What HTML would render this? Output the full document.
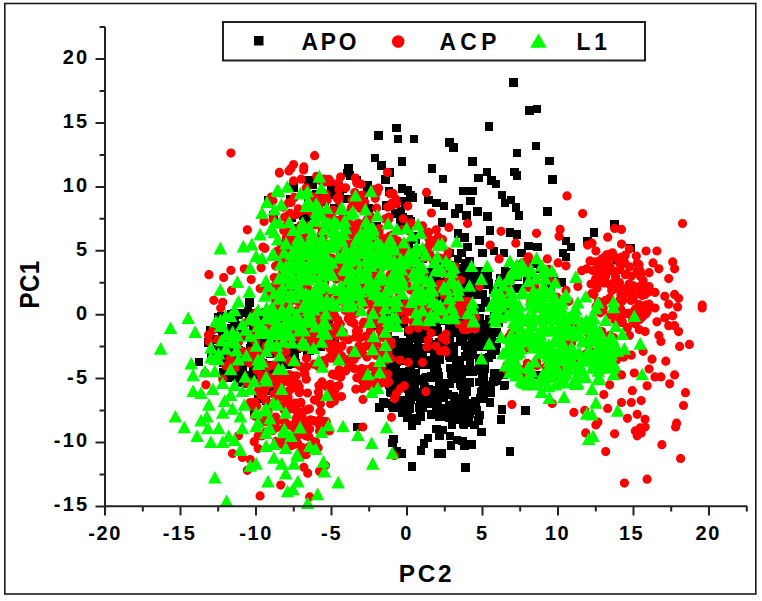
<!DOCTYPE html>
<html><head><meta charset="utf-8"><style>
html,body{margin:0;padding:0;background:#fff;width:762px;height:601px;overflow:hidden}
svg{position:absolute;left:0;top:0;display:block}
text{font-family:"Liberation Sans",sans-serif;font-weight:bold;fill:#000}
</style></head><body>
<svg width="762" height="601" viewBox="0 0 762 601">
<rect x="4.8" y="3.5" width="751" height="590.5" fill="none" stroke="#1a1a1a" stroke-width="1.6"/>
<path fill="#000" shape-rendering="crispEdges" d="M509.2,78.0h8.5v8.5h-8.5zM525.3,106.1h8.5v8.5h-8.5zM532.6,104.6h8.5v8.5h-8.5zM484.6,122.3h8.5v8.5h-8.5zM445.2,138.0h8.5v8.5h-8.5zM449.1,143.2h8.5v8.5h-8.5zM531.6,141.6h8.5v8.5h-8.5zM512.9,148.5h8.5v8.5h-8.5zM468.2,157.4h8.5v8.5h-8.5zM545.0,156.8h8.5v8.5h-8.5zM438.7,174.7h8.5v8.5h-8.5zM474.1,173.7h8.5v8.5h-8.5zM482.6,167.8h8.5v8.5h-8.5zM487.3,176.1h8.5v8.5h-8.5zM491.9,179.6h8.5v8.5h-8.5zM510.2,167.8h8.5v8.5h-8.5zM512.5,171.1h8.5v8.5h-8.5zM548.0,175.1h8.5v8.5h-8.5zM392.0,123.9h8.5v8.5h-8.5zM374.3,131.2h8.5v8.5h-8.5zM393.6,134.7h8.5v8.5h-8.5zM409.8,134.7h8.5v8.5h-8.5zM370.8,153.8h8.5v8.5h-8.5zM377.3,161.3h8.5v8.5h-8.5zM397.6,157.4h8.5v8.5h-8.5zM385.2,168.2h8.5v8.5h-8.5zM381.2,175.1h8.5v8.5h-8.5zM344.4,164.2h8.5v8.5h-8.5zM345.8,171.1h8.5v8.5h-8.5zM352.7,176.1h8.5v8.5h-8.5zM363.5,181.0h8.5v8.5h-8.5zM427.5,164.2h8.5v8.5h-8.5zM272.6,248.8h8.5v8.5h-8.5zM245.0,298.0h8.5v8.5h-8.5zM459.4,186.7h8.5v8.5h-8.5zM468.2,186.7h8.5v8.5h-8.5zM466.3,196.6h8.5v8.5h-8.5zM439.7,201.5h8.5v8.5h-8.5zM450.5,209.4h8.5v8.5h-8.5zM454.5,204.4h8.5v8.5h-8.5zM462.3,211.3h8.5v8.5h-8.5zM473.2,207.4h8.5v8.5h-8.5zM483.0,212.3h8.5v8.5h-8.5zM497.8,190.6h8.5v8.5h-8.5zM500.7,198.5h8.5v8.5h-8.5zM506.6,195.6h8.5v8.5h-8.5zM511.5,203.4h8.5v8.5h-8.5zM514.5,211.3h8.5v8.5h-8.5zM543.0,207.4h8.5v8.5h-8.5zM437.7,218.2h8.5v8.5h-8.5zM485.9,226.1h8.5v8.5h-8.5zM505.6,228.1h8.5v8.5h-8.5zM512.5,230.0h8.5v8.5h-8.5zM475.1,236.0h8.5v8.5h-8.5zM453.5,229.1h8.5v8.5h-8.5zM460.4,233.0h8.5v8.5h-8.5zM463.3,242.8h8.5v8.5h-8.5zM457.4,248.8h8.5v8.5h-8.5zM478.1,248.8h8.5v8.5h-8.5zM489.9,246.8h8.5v8.5h-8.5zM499.7,248.8h8.5v8.5h-8.5zM517.4,248.8h8.5v8.5h-8.5zM524.3,241.9h8.5v8.5h-8.5zM533.2,242.8h8.5v8.5h-8.5zM561.7,236.9h8.5v8.5h-8.5zM566.7,242.8h8.5v8.5h-8.5zM558.8,248.8h8.5v8.5h-8.5zM561.7,252.7h8.5v8.5h-8.5zM583.4,236.9h8.5v8.5h-8.5zM445.6,248.8h8.5v8.5h-8.5zM441.7,254.7h8.5v8.5h-8.5zM453.5,254.7h8.5v8.5h-8.5zM461.3,258.6h8.5v8.5h-8.5zM447.6,266.5h8.5v8.5h-8.5zM459.4,268.5h8.5v8.5h-8.5zM475.1,266.5h8.5v8.5h-8.5zM439.7,278.3h8.5v8.5h-8.5zM453.5,284.2h8.5v8.5h-8.5zM459.4,292.1h8.5v8.5h-8.5zM475.1,290.1h8.5v8.5h-8.5zM481.0,298.0h8.5v8.5h-8.5zM455.4,300.0h8.5v8.5h-8.5zM500.7,266.5h8.5v8.5h-8.5zM518.4,260.6h8.5v8.5h-8.5zM549.9,276.3h8.5v8.5h-8.5zM542.0,278.3h8.5v8.5h-8.5zM557.8,278.3h8.5v8.5h-8.5zM610.4,220.2h8.5v8.5h-8.5zM589.7,228.1h8.5v8.5h-8.5zM626.1,243.8h8.5v8.5h-8.5zM612.3,255.7h8.5v8.5h-8.5zM205.6,326.4h8.5v8.5h-8.5zM194.8,357.9h8.5v8.5h-8.5zM236.1,327.4h8.5v8.5h-8.5zM234.2,333.3h8.5v8.5h-8.5zM230.2,341.1h8.5v8.5h-8.5zM222.4,353.0h8.5v8.5h-8.5zM240.1,370.7h8.5v8.5h-8.5zM246.0,372.7h8.5v8.5h-8.5zM253.9,370.7h8.5v8.5h-8.5zM238.1,364.8h8.5v8.5h-8.5zM263.7,337.2h8.5v8.5h-8.5zM265.7,349.0h8.5v8.5h-8.5zM273.5,339.2h8.5v8.5h-8.5zM281.4,331.3h8.5v8.5h-8.5zM249.9,408.1h8.5v8.5h-8.5zM283.4,360.8h8.5v8.5h-8.5zM265.7,386.5h8.5v8.5h-8.5zM253.9,394.3h8.5v8.5h-8.5zM261.7,396.3h8.5v8.5h-8.5zM352.7,422.7h8.5v8.5h-8.5zM389.1,434.5h8.5v8.5h-8.5zM388.1,438.5h8.5v8.5h-8.5zM397.0,449.3h8.5v8.5h-8.5zM407.8,462.1h8.5v8.5h-8.5zM407.8,421.7h8.5v8.5h-8.5zM419.6,439.4h8.5v8.5h-8.5zM423.5,433.5h8.5v8.5h-8.5zM416.7,446.3h8.5v8.5h-8.5zM432.4,424.7h8.5v8.5h-8.5zM435.4,431.6h8.5v8.5h-8.5zM434.4,449.3h8.5v8.5h-8.5zM392.0,447.3h8.5v8.5h-8.5zM438.7,425.7h8.5v8.5h-8.5zM445.6,431.6h8.5v8.5h-8.5zM452.5,435.5h8.5v8.5h-8.5zM458.4,436.5h8.5v8.5h-8.5zM446.6,441.4h8.5v8.5h-8.5zM460.4,441.4h8.5v8.5h-8.5zM467.2,440.4h8.5v8.5h-8.5zM477.1,427.6h8.5v8.5h-8.5zM470.2,420.7h8.5v8.5h-8.5zM437.7,449.3h8.5v8.5h-8.5zM461.3,463.1h8.5v8.5h-8.5zM505.6,447.3h8.5v8.5h-8.5zM447.6,420.7h8.5v8.5h-8.5zM459.4,419.8h8.5v8.5h-8.5zM533.2,370.7h8.5v8.5h-8.5zM500.7,380.5h8.5v8.5h-8.5zM485.9,398.3h8.5v8.5h-8.5zM497.8,405.2h8.5v8.5h-8.5zM521.4,406.2h8.5v8.5h-8.5zM496.8,415.0h8.5v8.5h-8.5zM375.4,403.2h8.5v8.5h-8.5zM381.3,399.2h8.5v8.5h-8.5zM403.0,413.0h8.5v8.5h-8.5zM407.9,418.9h8.5v8.5h-8.5zM398.1,408.1h8.5v8.5h-8.5zM406.4,368.3h8.5v8.5h-8.5zM460.5,395.7h8.5v8.5h-8.5zM466.9,275.5h8.5v8.5h-8.5zM411.0,325.9h8.5v8.5h-8.5zM480.1,355.4h8.5v8.5h-8.5zM392.1,399.3h8.5v8.5h-8.5zM476.5,388.4h8.5v8.5h-8.5zM478.6,378.2h8.5v8.5h-8.5zM406.1,395.8h8.5v8.5h-8.5zM435.4,379.9h8.5v8.5h-8.5zM445.3,325.5h8.5v8.5h-8.5zM419.8,325.6h8.5v8.5h-8.5zM477.8,387.1h8.5v8.5h-8.5zM498.9,369.2h8.5v8.5h-8.5zM444.0,378.8h8.5v8.5h-8.5zM390.6,366.8h8.5v8.5h-8.5zM399.2,341.1h8.5v8.5h-8.5zM405.7,330.5h8.5v8.5h-8.5zM450.5,319.9h8.5v8.5h-8.5zM390.1,335.8h8.5v8.5h-8.5zM382.8,362.6h8.5v8.5h-8.5zM465.0,409.7h8.5v8.5h-8.5zM476.1,393.8h8.5v8.5h-8.5zM454.8,280.4h8.5v8.5h-8.5zM426.1,398.8h8.5v8.5h-8.5zM486.3,388.0h8.5v8.5h-8.5zM399.3,396.4h8.5v8.5h-8.5zM421.2,373.5h8.5v8.5h-8.5zM450.3,374.5h8.5v8.5h-8.5zM400.4,356.9h8.5v8.5h-8.5zM447.4,352.5h8.5v8.5h-8.5zM419.2,375.3h8.5v8.5h-8.5zM394.4,368.1h8.5v8.5h-8.5zM382.3,361.3h8.5v8.5h-8.5zM444.2,344.5h8.5v8.5h-8.5zM407.7,353.6h8.5v8.5h-8.5zM383.3,332.3h8.5v8.5h-8.5zM420.1,393.2h8.5v8.5h-8.5zM439.2,333.0h8.5v8.5h-8.5zM458.7,303.3h8.5v8.5h-8.5zM489.3,377.1h8.5v8.5h-8.5zM406.3,368.1h8.5v8.5h-8.5zM481.5,297.0h8.5v8.5h-8.5zM448.3,313.2h8.5v8.5h-8.5zM384.5,380.4h8.5v8.5h-8.5zM472.0,285.6h8.5v8.5h-8.5zM434.6,346.4h8.5v8.5h-8.5zM483.4,272.5h8.5v8.5h-8.5zM478.3,290.2h8.5v8.5h-8.5zM419.4,327.6h8.5v8.5h-8.5zM389.9,388.0h8.5v8.5h-8.5zM414.5,403.0h8.5v8.5h-8.5zM484.0,278.8h8.5v8.5h-8.5zM434.4,315.9h8.5v8.5h-8.5zM417.4,387.7h8.5v8.5h-8.5zM400.7,373.8h8.5v8.5h-8.5zM458.3,410.0h8.5v8.5h-8.5zM439.6,407.6h8.5v8.5h-8.5zM429.5,349.5h8.5v8.5h-8.5zM452.5,394.1h8.5v8.5h-8.5zM390.9,343.0h8.5v8.5h-8.5zM476.9,342.9h8.5v8.5h-8.5zM411.6,414.5h8.5v8.5h-8.5zM466.0,271.7h8.5v8.5h-8.5zM464.6,398.5h8.5v8.5h-8.5zM427.5,357.7h8.5v8.5h-8.5zM479.5,373.4h8.5v8.5h-8.5zM410.4,381.1h8.5v8.5h-8.5zM407.5,384.9h8.5v8.5h-8.5zM415.7,410.4h8.5v8.5h-8.5zM404.9,395.8h8.5v8.5h-8.5zM482.1,323.3h8.5v8.5h-8.5zM499.9,381.1h8.5v8.5h-8.5zM432.1,404.5h8.5v8.5h-8.5zM421.3,333.3h8.5v8.5h-8.5zM397.7,349.5h8.5v8.5h-8.5zM448.4,305.1h8.5v8.5h-8.5zM486.1,336.8h8.5v8.5h-8.5zM439.8,393.2h8.5v8.5h-8.5zM400.7,378.3h8.5v8.5h-8.5zM456.1,325.3h8.5v8.5h-8.5zM483.2,277.7h8.5v8.5h-8.5zM480.3,279.4h8.5v8.5h-8.5zM435.4,355.4h8.5v8.5h-8.5zM404.5,342.4h8.5v8.5h-8.5zM470.2,310.6h8.5v8.5h-8.5zM462.6,325.1h8.5v8.5h-8.5zM489.8,377.5h8.5v8.5h-8.5zM479.3,367.6h8.5v8.5h-8.5zM465.2,365.2h8.5v8.5h-8.5zM448.6,296.7h8.5v8.5h-8.5zM390.4,375.1h8.5v8.5h-8.5zM455.1,355.7h8.5v8.5h-8.5zM438.6,383.3h8.5v8.5h-8.5zM485.0,317.4h8.5v8.5h-8.5zM477.2,337.2h8.5v8.5h-8.5zM446.3,322.9h8.5v8.5h-8.5zM492.2,328.0h8.5v8.5h-8.5zM459.0,406.3h8.5v8.5h-8.5zM460.5,316.5h8.5v8.5h-8.5zM383.3,333.7h8.5v8.5h-8.5zM426.2,389.8h8.5v8.5h-8.5zM430.4,322.3h8.5v8.5h-8.5zM445.3,379.0h8.5v8.5h-8.5zM411.6,415.5h8.5v8.5h-8.5zM445.4,401.4h8.5v8.5h-8.5zM457.4,372.2h8.5v8.5h-8.5zM462.6,387.0h8.5v8.5h-8.5zM482.0,279.7h8.5v8.5h-8.5zM439.5,340.8h8.5v8.5h-8.5zM473.0,282.9h8.5v8.5h-8.5zM463.3,325.0h8.5v8.5h-8.5zM409.3,350.5h8.5v8.5h-8.5zM444.0,405.3h8.5v8.5h-8.5zM409.1,373.3h8.5v8.5h-8.5zM385.8,362.7h8.5v8.5h-8.5zM393.9,397.1h8.5v8.5h-8.5zM476.3,290.5h8.5v8.5h-8.5zM463.1,349.9h8.5v8.5h-8.5zM426.9,372.4h8.5v8.5h-8.5zM386.3,387.1h8.5v8.5h-8.5zM477.6,328.5h8.5v8.5h-8.5zM419.6,379.3h8.5v8.5h-8.5zM468.5,271.6h8.5v8.5h-8.5zM467.9,347.9h8.5v8.5h-8.5zM453.6,411.4h8.5v8.5h-8.5zM475.1,353.9h8.5v8.5h-8.5zM471.5,335.9h8.5v8.5h-8.5zM443.7,390.3h8.5v8.5h-8.5zM452.3,316.7h8.5v8.5h-8.5zM416.8,325.4h8.5v8.5h-8.5zM410.1,346.5h8.5v8.5h-8.5zM424.5,393.1h8.5v8.5h-8.5zM449.1,347.1h8.5v8.5h-8.5zM473.1,327.4h8.5v8.5h-8.5zM441.7,379.1h8.5v8.5h-8.5zM465.4,378.0h8.5v8.5h-8.5zM486.9,347.0h8.5v8.5h-8.5zM404.2,326.4h8.5v8.5h-8.5zM436.9,404.0h8.5v8.5h-8.5zM467.7,330.4h8.5v8.5h-8.5zM481.4,280.5h8.5v8.5h-8.5zM471.6,325.8h8.5v8.5h-8.5zM424.7,387.9h8.5v8.5h-8.5zM467.0,348.0h8.5v8.5h-8.5zM462.5,328.3h8.5v8.5h-8.5zM465.6,356.0h8.5v8.5h-8.5zM424.6,399.9h8.5v8.5h-8.5zM448.2,328.6h8.5v8.5h-8.5zM492.6,339.4h8.5v8.5h-8.5zM475.0,360.6h8.5v8.5h-8.5zM426.9,410.0h8.5v8.5h-8.5zM484.3,331.5h8.5v8.5h-8.5zM399.2,375.9h8.5v8.5h-8.5zM392.2,386.4h8.5v8.5h-8.5zM465.1,256.6h8.5v8.5h-8.5zM445.4,303.0h8.5v8.5h-8.5zM462.0,414.4h8.5v8.5h-8.5zM458.2,336.3h8.5v8.5h-8.5zM450.3,295.3h8.5v8.5h-8.5zM465.2,264.7h8.5v8.5h-8.5zM465.0,402.2h8.5v8.5h-8.5zM459.7,420.1h8.5v8.5h-8.5zM391.6,358.8h8.5v8.5h-8.5zM454.5,283.1h8.5v8.5h-8.5zM440.1,385.3h8.5v8.5h-8.5zM464.0,349.3h8.5v8.5h-8.5zM383.3,374.4h8.5v8.5h-8.5zM452.2,294.8h8.5v8.5h-8.5zM412.8,329.2h8.5v8.5h-8.5zM469.1,271.6h8.5v8.5h-8.5zM458.9,390.1h8.5v8.5h-8.5zM407.1,374.0h8.5v8.5h-8.5zM408.5,343.6h8.5v8.5h-8.5zM476.2,354.3h8.5v8.5h-8.5zM447.3,324.4h8.5v8.5h-8.5zM404.1,327.4h8.5v8.5h-8.5zM461.6,299.1h8.5v8.5h-8.5zM391.1,400.6h8.5v8.5h-8.5zM419.9,357.2h8.5v8.5h-8.5zM458.0,404.0h8.5v8.5h-8.5zM395.8,348.9h8.5v8.5h-8.5zM485.4,331.9h8.5v8.5h-8.5zM464.4,331.7h8.5v8.5h-8.5zM464.7,413.8h8.5v8.5h-8.5zM416.7,376.9h8.5v8.5h-8.5zM417.4,402.1h8.5v8.5h-8.5zM470.7,397.1h8.5v8.5h-8.5zM484.7,353.2h8.5v8.5h-8.5zM447.7,368.6h8.5v8.5h-8.5zM409.8,389.4h8.5v8.5h-8.5zM398.1,350.3h8.5v8.5h-8.5zM412.4,416.6h8.5v8.5h-8.5zM433.6,367.9h8.5v8.5h-8.5zM451.4,288.9h8.5v8.5h-8.5zM389.0,356.9h8.5v8.5h-8.5zM475.0,377.8h8.5v8.5h-8.5zM468.1,325.6h8.5v8.5h-8.5zM393.0,379.2h8.5v8.5h-8.5zM471.4,366.2h8.5v8.5h-8.5zM405.1,398.6h8.5v8.5h-8.5zM418.8,403.0h8.5v8.5h-8.5zM479.2,394.4h8.5v8.5h-8.5zM467.4,285.6h8.5v8.5h-8.5zM484.8,327.7h8.5v8.5h-8.5zM411.0,347.3h8.5v8.5h-8.5zM456.1,398.2h8.5v8.5h-8.5zM389.1,403.1h8.5v8.5h-8.5zM385.0,363.3h8.5v8.5h-8.5zM460.2,414.9h8.5v8.5h-8.5zM432.9,324.2h8.5v8.5h-8.5zM411.2,369.1h8.5v8.5h-8.5zM391.9,394.3h8.5v8.5h-8.5zM418.4,392.4h8.5v8.5h-8.5zM452.0,358.3h8.5v8.5h-8.5zM418.7,350.6h8.5v8.5h-8.5zM426.3,340.1h8.5v8.5h-8.5zM400.6,404.7h8.5v8.5h-8.5zM483.0,271.1h8.5v8.5h-8.5zM464.9,274.5h8.5v8.5h-8.5zM481.4,319.9h8.5v8.5h-8.5zM435.7,340.6h8.5v8.5h-8.5zM399.6,348.4h8.5v8.5h-8.5zM483.2,328.8h8.5v8.5h-8.5zM416.4,398.1h8.5v8.5h-8.5zM456.4,409.0h8.5v8.5h-8.5zM399.3,380.7h8.5v8.5h-8.5zM415.6,344.3h8.5v8.5h-8.5zM427.3,355.9h8.5v8.5h-8.5zM424.2,384.9h8.5v8.5h-8.5zM487.4,349.0h8.5v8.5h-8.5zM405.9,404.9h8.5v8.5h-8.5zM434.5,354.5h8.5v8.5h-8.5zM433.1,397.3h8.5v8.5h-8.5zM466.6,327.7h8.5v8.5h-8.5zM420.0,382.8h8.5v8.5h-8.5zM480.0,354.4h8.5v8.5h-8.5zM484.6,341.9h8.5v8.5h-8.5zM491.0,346.1h8.5v8.5h-8.5zM427.4,388.4h8.5v8.5h-8.5zM482.4,380.7h8.5v8.5h-8.5zM410.7,325.1h8.5v8.5h-8.5zM494.1,318.5h8.5v8.5h-8.5zM434.5,338.4h8.5v8.5h-8.5zM469.2,309.2h8.5v8.5h-8.5zM404.1,384.9h8.5v8.5h-8.5zM400.1,346.2h8.5v8.5h-8.5zM489.9,338.3h8.5v8.5h-8.5zM466.8,350.7h8.5v8.5h-8.5zM430.3,369.2h8.5v8.5h-8.5zM435.3,384.5h8.5v8.5h-8.5zM486.1,340.9h8.5v8.5h-8.5zM458.9,310.8h8.5v8.5h-8.5zM454.2,357.8h8.5v8.5h-8.5zM445.0,308.3h8.5v8.5h-8.5zM399.3,407.4h8.5v8.5h-8.5zM452.2,413.6h8.5v8.5h-8.5zM384.2,357.6h8.5v8.5h-8.5zM461.9,367.3h8.5v8.5h-8.5zM455.6,371.3h8.5v8.5h-8.5zM448.4,308.6h8.5v8.5h-8.5zM432.5,321.5h8.5v8.5h-8.5zM481.4,278.8h8.5v8.5h-8.5zM454.2,278.2h8.5v8.5h-8.5zM444.9,351.9h8.5v8.5h-8.5zM438.5,412.1h8.5v8.5h-8.5zM438.7,314.6h8.5v8.5h-8.5zM400.0,350.9h8.5v8.5h-8.5zM468.2,337.9h8.5v8.5h-8.5zM447.9,372.5h8.5v8.5h-8.5zM490.2,369.1h8.5v8.5h-8.5zM459.1,397.3h8.5v8.5h-8.5zM425.9,325.4h8.5v8.5h-8.5zM406.6,392.6h8.5v8.5h-8.5zM461.3,341.3h8.5v8.5h-8.5zM472.6,406.2h8.5v8.5h-8.5zM433.0,373.1h8.5v8.5h-8.5zM404.2,327.7h8.5v8.5h-8.5zM457.9,302.9h8.5v8.5h-8.5zM458.7,263.8h8.5v8.5h-8.5zM426.0,360.5h8.5v8.5h-8.5zM483.4,339.2h8.5v8.5h-8.5zM458.1,364.7h8.5v8.5h-8.5zM455.9,329.2h8.5v8.5h-8.5zM486.4,383.3h8.5v8.5h-8.5zM456.4,379.6h8.5v8.5h-8.5zM441.2,331.9h8.5v8.5h-8.5zM456.0,399.7h8.5v8.5h-8.5zM463.2,401.3h8.5v8.5h-8.5zM445.5,353.0h8.5v8.5h-8.5zM431.8,325.1h8.5v8.5h-8.5zM450.8,283.7h8.5v8.5h-8.5zM444.6,402.4h8.5v8.5h-8.5zM447.0,369.3h8.5v8.5h-8.5zM396.1,337.7h8.5v8.5h-8.5zM445.0,337.2h8.5v8.5h-8.5zM413.5,328.4h8.5v8.5h-8.5zM405.2,366.5h8.5v8.5h-8.5zM388.1,401.4h8.5v8.5h-8.5zM441.1,405.5h8.5v8.5h-8.5zM379.1,398.3h8.5v8.5h-8.5zM391.8,366.7h8.5v8.5h-8.5zM493.8,371.1h8.5v8.5h-8.5zM401.0,346.4h8.5v8.5h-8.5zM426.3,344.8h8.5v8.5h-8.5zM411.4,414.2h8.5v8.5h-8.5zM499.6,370.5h8.5v8.5h-8.5zM436.7,412.6h8.5v8.5h-8.5zM420.7,334.7h8.5v8.5h-8.5zM455.8,337.9h8.5v8.5h-8.5zM490.0,311.5h8.5v8.5h-8.5zM484.2,329.1h8.5v8.5h-8.5zM459.2,408.8h8.5v8.5h-8.5zM454.8,314.1h8.5v8.5h-8.5zM447.1,299.3h8.5v8.5h-8.5zM405.6,334.2h8.5v8.5h-8.5zM434.8,371.7h8.5v8.5h-8.5zM466.7,301.1h8.5v8.5h-8.5zM392.6,357.7h8.5v8.5h-8.5zM418.0,352.2h8.5v8.5h-8.5zM474.2,416.3h8.5v8.5h-8.5zM474.4,313.9h8.5v8.5h-8.5zM400.1,338.2h8.5v8.5h-8.5zM389.2,354.6h8.5v8.5h-8.5zM468.1,267.7h8.5v8.5h-8.5zM421.9,373.0h8.5v8.5h-8.5zM412.0,392.1h8.5v8.5h-8.5zM434.5,343.2h8.5v8.5h-8.5zM433.6,400.4h8.5v8.5h-8.5zM405.0,393.0h8.5v8.5h-8.5zM476.7,272.6h8.5v8.5h-8.5zM460.3,279.7h8.5v8.5h-8.5zM445.3,308.7h8.5v8.5h-8.5zM434.8,412.5h8.5v8.5h-8.5zM465.2,291.6h8.5v8.5h-8.5zM405.6,390.3h8.5v8.5h-8.5zM472.3,277.8h8.5v8.5h-8.5zM476.5,303.5h8.5v8.5h-8.5zM445.6,402.8h8.5v8.5h-8.5zM450.5,415.0h8.5v8.5h-8.5zM456.6,381.2h8.5v8.5h-8.5zM478.1,333.1h8.5v8.5h-8.5zM421.3,387.1h8.5v8.5h-8.5zM452.5,401.5h8.5v8.5h-8.5zM447.9,306.4h8.5v8.5h-8.5zM413.6,338.4h8.5v8.5h-8.5zM466.2,367.6h8.5v8.5h-8.5zM432.0,362.5h8.5v8.5h-8.5zM453.4,406.4h8.5v8.5h-8.5zM460.4,395.5h8.5v8.5h-8.5zM404.1,396.0h8.5v8.5h-8.5zM468.0,276.7h8.5v8.5h-8.5zM460.1,267.5h8.5v8.5h-8.5zM446.1,363.8h8.5v8.5h-8.5zM419.3,398.5h8.5v8.5h-8.5zM423.5,356.0h8.5v8.5h-8.5zM456.7,402.0h8.5v8.5h-8.5zM418.0,360.9h8.5v8.5h-8.5zM461.3,280.5h8.5v8.5h-8.5zM420.3,327.8h8.5v8.5h-8.5zM449.8,342.1h8.5v8.5h-8.5zM471.6,403.4h8.5v8.5h-8.5zM466.9,290.5h8.5v8.5h-8.5zM449.6,351.1h8.5v8.5h-8.5zM437.4,378.7h8.5v8.5h-8.5zM484.6,315.4h8.5v8.5h-8.5zM430.6,399.3h8.5v8.5h-8.5zM386.5,388.2h8.5v8.5h-8.5zM459.5,265.7h8.5v8.5h-8.5zM412.5,350.9h8.5v8.5h-8.5zM447.3,317.7h8.5v8.5h-8.5zM386.1,374.7h8.5v8.5h-8.5zM416.1,325.2h8.5v8.5h-8.5zM475.4,410.5h8.5v8.5h-8.5zM472.1,328.9h8.5v8.5h-8.5zM487.1,316.1h8.5v8.5h-8.5zM487.8,350.5h8.5v8.5h-8.5zM460.1,283.7h8.5v8.5h-8.5zM393.0,370.1h8.5v8.5h-8.5zM424.8,338.2h8.5v8.5h-8.5zM477.9,370.0h8.5v8.5h-8.5zM400.5,378.5h8.5v8.5h-8.5zM460.5,352.1h8.5v8.5h-8.5zM437.3,406.7h8.5v8.5h-8.5zM480.3,364.0h8.5v8.5h-8.5zM407.4,382.9h8.5v8.5h-8.5zM492.0,376.3h8.5v8.5h-8.5zM434.2,392.0h8.5v8.5h-8.5zM424.9,340.4h8.5v8.5h-8.5zM455.3,363.7h8.5v8.5h-8.5zM439.4,316.1h8.5v8.5h-8.5zM466.8,347.0h8.5v8.5h-8.5zM399.9,350.2h8.5v8.5h-8.5zM431.8,386.4h8.5v8.5h-8.5zM462.9,418.4h8.5v8.5h-8.5zM470.7,339.3h8.5v8.5h-8.5zM458.8,302.7h8.5v8.5h-8.5zM428.3,373.1h8.5v8.5h-8.5zM397.6,368.0h8.5v8.5h-8.5zM383.7,361.5h8.5v8.5h-8.5zM468.8,346.2h8.5v8.5h-8.5zM487.1,330.3h8.5v8.5h-8.5zM445.0,413.4h8.5v8.5h-8.5zM435.1,389.7h8.5v8.5h-8.5zM449.8,392.4h8.5v8.5h-8.5zM452.8,276.2h8.5v8.5h-8.5zM401.6,352.6h8.5v8.5h-8.5zM457.8,269.0h8.5v8.5h-8.5zM458.4,313.6h8.5v8.5h-8.5zM390.4,375.1h8.5v8.5h-8.5zM409.1,359.0h8.5v8.5h-8.5zM481.5,342.2h8.5v8.5h-8.5zM489.5,338.9h8.5v8.5h-8.5zM443.4,404.2h8.5v8.5h-8.5zM399.8,370.6h8.5v8.5h-8.5zM387.9,347.7h8.5v8.5h-8.5zM474.4,320.8h8.5v8.5h-8.5zM434.9,316.3h8.5v8.5h-8.5zM459.4,319.3h8.5v8.5h-8.5zM457.6,404.0h8.5v8.5h-8.5zM463.3,414.6h8.5v8.5h-8.5zM475.9,313.9h8.5v8.5h-8.5zM416.1,412.3h8.5v8.5h-8.5zM395.4,374.3h8.5v8.5h-8.5zM423.8,358.5h8.5v8.5h-8.5zM468.2,367.0h8.5v8.5h-8.5zM398.2,396.4h8.5v8.5h-8.5zM433.5,327.2h8.5v8.5h-8.5zM456.7,370.3h8.5v8.5h-8.5zM493.4,310.8h8.5v8.5h-8.5zM506.7,273.2h8.5v8.5h-8.5zM535.9,264.3h8.5v8.5h-8.5zM498.1,306.5h8.5v8.5h-8.5zM494.7,280.1h8.5v8.5h-8.5zM500.5,289.8h8.5v8.5h-8.5zM525.3,260.4h8.5v8.5h-8.5zM527.3,259.6h8.5v8.5h-8.5zM533.0,259.7h8.5v8.5h-8.5zM523.2,271.6h8.5v8.5h-8.5zM509.2,267.6h8.5v8.5h-8.5zM505.5,284.3h8.5v8.5h-8.5zM513.8,272.9h8.5v8.5h-8.5zM500.9,271.1h8.5v8.5h-8.5zM504.9,302.5h8.5v8.5h-8.5zM546.4,282.7h8.5v8.5h-8.5zM514.4,284.0h8.5v8.5h-8.5zM547.4,278.2h8.5v8.5h-8.5zM522.7,280.3h8.5v8.5h-8.5zM501.0,309.9h8.5v8.5h-8.5zM496.1,273.5h8.5v8.5h-8.5zM505.5,282.7h8.5v8.5h-8.5zM519.2,262.6h8.5v8.5h-8.5zM538.9,270.4h8.5v8.5h-8.5zM488.5,285.9h8.5v8.5h-8.5zM506.3,291.2h8.5v8.5h-8.5zM440.3,266.4h8.5v8.5h-8.5zM372.1,221.8h8.5v8.5h-8.5zM359.4,196.8h8.5v8.5h-8.5zM290.1,223.5h8.5v8.5h-8.5zM296.1,224.4h8.5v8.5h-8.5zM396.3,221.6h8.5v8.5h-8.5zM324.3,190.6h8.5v8.5h-8.5zM411.3,235.8h8.5v8.5h-8.5zM385.6,238.5h8.5v8.5h-8.5zM406.5,217.1h8.5v8.5h-8.5zM315.2,193.0h8.5v8.5h-8.5zM371.8,223.8h8.5v8.5h-8.5zM382.4,201.2h8.5v8.5h-8.5zM287.4,213.2h8.5v8.5h-8.5zM309.9,211.7h8.5v8.5h-8.5zM410.2,232.4h8.5v8.5h-8.5zM303.7,194.9h8.5v8.5h-8.5zM411.4,245.9h8.5v8.5h-8.5zM404.3,215.2h8.5v8.5h-8.5zM423.9,316.0h8.5v8.5h-8.5zM462.8,307.6h8.5v8.5h-8.5zM470.1,309.9h8.5v8.5h-8.5zM399.4,297.3h8.5v8.5h-8.5zM422.0,299.6h8.5v8.5h-8.5zM395.9,317.0h8.5v8.5h-8.5zM451.2,322.4h8.5v8.5h-8.5zM393.8,314.7h8.5v8.5h-8.5zM458.0,324.2h8.5v8.5h-8.5zM468.5,316.1h8.5v8.5h-8.5zM435.8,304.8h8.5v8.5h-8.5zM400.3,301.6h8.5v8.5h-8.5zM424.6,316.8h8.5v8.5h-8.5zM428.8,308.6h8.5v8.5h-8.5zM412.4,303.2h8.5v8.5h-8.5zM455.4,315.8h8.5v8.5h-8.5zM396.6,298.2h8.5v8.5h-8.5zM452.8,309.2h8.5v8.5h-8.5zM451.2,306.7h8.5v8.5h-8.5zM460.9,297.2h8.5v8.5h-8.5zM412.0,311.3h8.5v8.5h-8.5zM380.1,304.2h8.5v8.5h-8.5zM391.5,305.0h8.5v8.5h-8.5zM373.3,305.1h8.5v8.5h-8.5zM377.2,313.7h8.5v8.5h-8.5zM410.5,302.4h8.5v8.5h-8.5zM469.5,305.5h8.5v8.5h-8.5zM372.9,321.6h8.5v8.5h-8.5zM402.7,305.9h8.5v8.5h-8.5zM450.4,321.9h8.5v8.5h-8.5zM403.4,307.6h8.5v8.5h-8.5zM433.4,303.6h8.5v8.5h-8.5zM424.3,295.9h8.5v8.5h-8.5zM395.4,312.8h8.5v8.5h-8.5zM393.5,320.1h8.5v8.5h-8.5zM416.9,316.3h8.5v8.5h-8.5zM453.1,303.9h8.5v8.5h-8.5zM448.4,320.5h8.5v8.5h-8.5zM460.1,321.7h8.5v8.5h-8.5zM460.5,316.7h8.5v8.5h-8.5zM425.5,311.3h8.5v8.5h-8.5zM410.5,311.3h8.5v8.5h-8.5zM420.0,308.6h8.5v8.5h-8.5zM381.7,308.9h8.5v8.5h-8.5zM469.7,305.4h8.5v8.5h-8.5zM415.6,302.0h8.5v8.5h-8.5zM399.9,319.2h8.5v8.5h-8.5zM448.6,317.3h8.5v8.5h-8.5zM379.0,302.7h8.5v8.5h-8.5zM445.1,317.9h8.5v8.5h-8.5zM439.6,304.4h8.5v8.5h-8.5zM462.5,323.3h8.5v8.5h-8.5zM399.0,314.0h8.5v8.5h-8.5zM468.9,306.7h8.5v8.5h-8.5zM451.6,305.1h8.5v8.5h-8.5zM399.3,300.3h8.5v8.5h-8.5zM421.2,295.1h8.5v8.5h-8.5zM460.9,316.6h8.5v8.5h-8.5zM413.6,316.9h8.5v8.5h-8.5zM384.1,310.7h8.5v8.5h-8.5zM376.3,311.3h8.5v8.5h-8.5zM418.6,254.7h8.5v8.5h-8.5zM430.4,292.3h8.5v8.5h-8.5zM428.9,267.2h8.5v8.5h-8.5zM439.6,283.0h8.5v8.5h-8.5zM442.6,290.0h8.5v8.5h-8.5zM446.1,271.8h8.5v8.5h-8.5zM405.1,248.0h8.5v8.5h-8.5zM435.0,286.7h8.5v8.5h-8.5zM439.3,295.8h8.5v8.5h-8.5zM432.9,285.6h8.5v8.5h-8.5zM446.5,260.5h8.5v8.5h-8.5zM420.2,290.1h8.5v8.5h-8.5zM425.3,268.1h8.5v8.5h-8.5zM423.3,295.5h8.5v8.5h-8.5zM421.3,296.8h8.5v8.5h-8.5zM428.1,307.9h8.5v8.5h-8.5zM435.1,262.1h8.5v8.5h-8.5zM404.1,241.1h8.5v8.5h-8.5zM448.2,297.4h8.5v8.5h-8.5zM435.1,297.2h8.5v8.5h-8.5zM432.3,270.1h8.5v8.5h-8.5zM439.8,291.5h8.5v8.5h-8.5zM420.4,272.7h8.5v8.5h-8.5zM418.5,308.3h8.5v8.5h-8.5zM440.8,295.8h8.5v8.5h-8.5zM408.6,249.2h8.5v8.5h-8.5zM431.7,294.2h8.5v8.5h-8.5zM428.9,276.6h8.5v8.5h-8.5zM431.1,313.0h8.5v8.5h-8.5zM434.0,277.8h8.5v8.5h-8.5zM439.4,300.0h8.5v8.5h-8.5zM431.5,264.6h8.5v8.5h-8.5zM436.7,311.3h8.5v8.5h-8.5zM450.1,261.0h8.5v8.5h-8.5zM432.5,303.8h8.5v8.5h-8.5zM431.0,260.6h8.5v8.5h-8.5zM443.6,292.5h8.5v8.5h-8.5zM431.4,254.9h8.5v8.5h-8.5zM452.1,303.5h8.5v8.5h-8.5zM285.1,335.7h8.5v8.5h-8.5zM256.7,370.2h8.5v8.5h-8.5zM222.5,344.4h8.5v8.5h-8.5zM256.2,376.8h8.5v8.5h-8.5zM231.2,367.6h8.5v8.5h-8.5zM280.8,315.9h8.5v8.5h-8.5zM288.1,345.3h8.5v8.5h-8.5zM246.2,317.5h8.5v8.5h-8.5zM245.0,311.3h8.5v8.5h-8.5zM271.9,346.6h8.5v8.5h-8.5zM211.1,322.7h8.5v8.5h-8.5zM248.9,364.1h8.5v8.5h-8.5zM226.9,313.8h8.5v8.5h-8.5zM234.5,310.9h8.5v8.5h-8.5zM232.6,371.1h8.5v8.5h-8.5zM218.2,328.4h8.5v8.5h-8.5zM274.2,321.0h8.5v8.5h-8.5zM211.7,324.4h8.5v8.5h-8.5zM258.7,359.1h8.5v8.5h-8.5zM265.0,310.6h8.5v8.5h-8.5zM227.7,314.4h8.5v8.5h-8.5zM254.0,333.2h8.5v8.5h-8.5zM272.1,348.4h8.5v8.5h-8.5zM256.1,318.6h8.5v8.5h-8.5zM252.3,310.7h8.5v8.5h-8.5zM268.8,319.7h8.5v8.5h-8.5zM229.3,348.8h8.5v8.5h-8.5zM262.4,308.4h8.5v8.5h-8.5zM274.4,333.2h8.5v8.5h-8.5zM208.9,335.1h8.5v8.5h-8.5zM262.6,315.9h8.5v8.5h-8.5zM237.0,364.3h8.5v8.5h-8.5zM278.6,360.3h8.5v8.5h-8.5zM245.5,358.6h8.5v8.5h-8.5zM214.9,334.5h8.5v8.5h-8.5zM230.4,315.6h8.5v8.5h-8.5zM231.1,355.0h8.5v8.5h-8.5zM269.6,373.1h8.5v8.5h-8.5zM224.2,334.9h8.5v8.5h-8.5zM229.9,347.4h8.5v8.5h-8.5zM223.7,373.2h8.5v8.5h-8.5zM231.9,372.8h8.5v8.5h-8.5zM226.6,310.0h8.5v8.5h-8.5zM247.3,310.3h8.5v8.5h-8.5zM273.1,327.8h8.5v8.5h-8.5zM242.2,379.2h8.5v8.5h-8.5zM207.9,354.7h8.5v8.5h-8.5zM258.2,359.5h8.5v8.5h-8.5zM263.2,361.0h8.5v8.5h-8.5zM268.9,312.4h8.5v8.5h-8.5zM222.6,346.7h8.5v8.5h-8.5zM258.3,361.2h8.5v8.5h-8.5zM221.1,331.4h8.5v8.5h-8.5zM215.5,343.0h8.5v8.5h-8.5zM225.0,352.7h8.5v8.5h-8.5zM227.9,314.7h8.5v8.5h-8.5zM232.0,328.0h8.5v8.5h-8.5zM256.9,370.6h8.5v8.5h-8.5zM247.3,341.4h8.5v8.5h-8.5zM226.5,323.8h8.5v8.5h-8.5zM287.0,341.8h8.5v8.5h-8.5zM262.9,375.6h8.5v8.5h-8.5zM251.1,319.2h8.5v8.5h-8.5zM268.0,365.4h8.5v8.5h-8.5zM289.6,338.2h8.5v8.5h-8.5zM212.7,356.9h8.5v8.5h-8.5zM207.3,352.1h8.5v8.5h-8.5zM210.9,344.6h8.5v8.5h-8.5zM213.1,348.8h8.5v8.5h-8.5zM227.2,342.4h8.5v8.5h-8.5zM259.8,364.4h8.5v8.5h-8.5zM244.7,316.9h8.5v8.5h-8.5zM232.2,337.2h8.5v8.5h-8.5zM233.2,321.2h8.5v8.5h-8.5zM274.2,359.9h8.5v8.5h-8.5zM245.6,309.4h8.5v8.5h-8.5zM232.7,374.2h8.5v8.5h-8.5zM214.1,312.7h8.5v8.5h-8.5zM243.7,307.4h8.5v8.5h-8.5zM274.2,314.7h8.5v8.5h-8.5zM223.3,341.4h8.5v8.5h-8.5zM218.6,368.4h8.5v8.5h-8.5zM237.8,354.0h8.5v8.5h-8.5zM238.4,378.5h8.5v8.5h-8.5zM231.6,370.3h8.5v8.5h-8.5zM283.6,353.3h8.5v8.5h-8.5zM216.7,311.8h8.5v8.5h-8.5zM282.1,319.5h8.5v8.5h-8.5zM288.5,331.9h8.5v8.5h-8.5zM234.7,360.4h8.5v8.5h-8.5zM269.7,327.1h8.5v8.5h-8.5zM270.0,334.5h8.5v8.5h-8.5zM251.6,324.7h8.5v8.5h-8.5zM236.5,358.4h8.5v8.5h-8.5zM249.4,368.9h8.5v8.5h-8.5zM229.1,352.5h8.5v8.5h-8.5zM227.9,372.8h8.5v8.5h-8.5zM237.9,308.6h8.5v8.5h-8.5zM274.2,317.0h8.5v8.5h-8.5zM230.1,309.2h8.5v8.5h-8.5zM204.0,338.2h8.5v8.5h-8.5zM257.2,308.5h8.5v8.5h-8.5zM265.2,333.0h8.5v8.5h-8.5zM214.1,353.1h8.5v8.5h-8.5zM241.9,332.8h8.5v8.5h-8.5zM236.0,346.5h8.5v8.5h-8.5zM289.7,318.1h8.5v8.5h-8.5zM264.4,313.8h8.5v8.5h-8.5zM276.2,344.9h8.5v8.5h-8.5zM218.5,358.5h8.5v8.5h-8.5zM291.4,317.2h8.5v8.5h-8.5zM234.5,346.1h8.5v8.5h-8.5zM249.2,320.3h8.5v8.5h-8.5zM248.3,375.3h8.5v8.5h-8.5zM283.7,324.3h8.5v8.5h-8.5zM205.6,337.7h8.5v8.5h-8.5zM258.5,375.8h8.5v8.5h-8.5zM287.3,347.7h8.5v8.5h-8.5zM227.3,365.0h8.5v8.5h-8.5zM254.3,312.6h8.5v8.5h-8.5zM243.7,351.3h8.5v8.5h-8.5zM240.8,348.5h8.5v8.5h-8.5zM254.7,316.2h8.5v8.5h-8.5zM245.9,343.8h8.5v8.5h-8.5zM261.8,343.0h8.5v8.5h-8.5zM294.6,318.9h8.5v8.5h-8.5zM288.4,319.5h8.5v8.5h-8.5zM235.0,369.7h8.5v8.5h-8.5zM238.5,320.7h8.5v8.5h-8.5zM228.6,339.4h8.5v8.5h-8.5zM247.7,330.9h8.5v8.5h-8.5zM269.5,348.7h8.5v8.5h-8.5zM264.2,330.8h8.5v8.5h-8.5zM222.1,369.6h8.5v8.5h-8.5zM249.2,324.0h8.5v8.5h-8.5zM308.8,180.4h8.5v8.5h-8.5zM326.6,184.7h8.5v8.5h-8.5zM335.1,187.8h8.5v8.5h-8.5zM343.4,168.8h8.5v8.5h-8.5zM299.4,211.9h8.5v8.5h-8.5zM329.8,203.6h8.5v8.5h-8.5zM339.2,212.9h8.5v8.5h-8.5zM365.1,188.2h8.5v8.5h-8.5zM384.8,187.2h8.5v8.5h-8.5zM397.6,184.2h8.5v8.5h-8.5zM403.6,186.2h8.5v8.5h-8.5zM406.4,191.1h8.5v8.5h-8.5zM402.6,196.9h8.5v8.5h-8.5zM396.6,206.8h8.5v8.5h-8.5zM398.6,212.8h8.5v8.5h-8.5zM424.1,195.9h8.5v8.5h-8.5zM432.1,198.9h8.5v8.5h-8.5zM408.4,193.1h8.5v8.5h-8.5zM363.1,185.2h8.5v8.5h-8.5zM328.1,187.7h8.5v8.5h-8.5zM401.4,200.7h8.5v8.5h-8.5zM271.5,218.7h8.5v8.5h-8.5zM269.4,210.5h8.5v8.5h-8.5zM390.9,209.3h8.5v8.5h-8.5zM301.0,213.6h8.5v8.5h-8.5zM396.3,216.4h8.5v8.5h-8.5zM293.7,209.4h8.5v8.5h-8.5zM325.4,211.2h8.5v8.5h-8.5zM334.7,181.8h8.5v8.5h-8.5zM311.7,190.2h8.5v8.5h-8.5zM320.0,197.5h8.5v8.5h-8.5zM316.3,192.8h8.5v8.5h-8.5zM312.7,172.8h8.5v8.5h-8.5zM364.9,204.0h8.5v8.5h-8.5zM289.4,183.1h8.5v8.5h-8.5zM315.6,195.1h8.5v8.5h-8.5zM311.6,204.4h8.5v8.5h-8.5zM304.3,176.0h8.5v8.5h-8.5zM395.1,196.6h8.5v8.5h-8.5zM306.3,201.3h8.5v8.5h-8.5zM263.6,195.9h8.5v8.5h-8.5zM286.0,194.7h8.5v8.5h-8.5zM338.0,184.9h8.5v8.5h-8.5zM350.9,200.2h8.5v8.5h-8.5zM343.2,194.8h8.5v8.5h-8.5zM276.5,346.8h8.5v8.5h-8.5zM270.8,325.7h8.5v8.5h-8.5zM251.0,325.4h8.5v8.5h-8.5zM248.0,350.3h8.5v8.5h-8.5zM280.5,356.5h8.5v8.5h-8.5zM318.0,333.2h8.5v8.5h-8.5zM261.6,333.1h8.5v8.5h-8.5zM248.6,348.2h8.5v8.5h-8.5zM263.8,323.2h8.5v8.5h-8.5zM330.1,337.6h8.5v8.5h-8.5zM308.8,328.2h8.5v8.5h-8.5zM259.8,328.1h8.5v8.5h-8.5zM315.7,341.3h8.5v8.5h-8.5zM279.1,335.4h8.5v8.5h-8.5zM252.3,328.2h8.5v8.5h-8.5zM273.8,336.5h8.5v8.5h-8.5zM292.7,344.0h8.5v8.5h-8.5zM326.5,330.5h8.5v8.5h-8.5zM254.8,330.9h8.5v8.5h-8.5zM266.3,344.5h8.5v8.5h-8.5zM291.0,331.8h8.5v8.5h-8.5zM254.8,353.3h8.5v8.5h-8.5zM305.0,346.9h8.5v8.5h-8.5zM290.6,350.8h8.5v8.5h-8.5zM293.6,341.0h8.5v8.5h-8.5zM274.9,327.9h8.5v8.5h-8.5zM293.2,339.1h8.5v8.5h-8.5zM258.0,345.8h8.5v8.5h-8.5zM265.9,347.0h8.5v8.5h-8.5zM272.2,339.1h8.5v8.5h-8.5zM327.9,331.3h8.5v8.5h-8.5zM296.6,331.7h8.5v8.5h-8.5zM291.9,359.1h8.5v8.5h-8.5zM284.5,338.5h8.5v8.5h-8.5zM307.0,340.8h8.5v8.5h-8.5zM309.6,330.3h8.5v8.5h-8.5zM251.9,328.2h8.5v8.5h-8.5zM302.6,350.3h8.5v8.5h-8.5zM298.5,333.0h8.5v8.5h-8.5zM291.1,330.2h8.5v8.5h-8.5zM255.5,342.5h8.5v8.5h-8.5zM305.7,331.1h8.5v8.5h-8.5zM316.0,342.2h8.5v8.5h-8.5zM275.1,358.3h8.5v8.5h-8.5zM276.2,349.4h8.5v8.5h-8.5zM269.8,364.9h8.5v8.5h-8.5zM255.7,338.3h8.5v8.5h-8.5zM290.4,353.0h8.5v8.5h-8.5zM269.9,323.9h8.5v8.5h-8.5zM283.3,338.2h8.5v8.5h-8.5zM293.1,322.1h8.5v8.5h-8.5zM324.4,318.8h8.5v8.5h-8.5zM288.7,323.0h8.5v8.5h-8.5zM330.1,325.2h8.5v8.5h-8.5zM259.4,339.8h8.5v8.5h-8.5zM312.3,322.2h8.5v8.5h-8.5z"/>
<path fill="#ff0000" d="M310.0,155.7a4.6,4.6 0 1,0 9.2,0a4.6,4.6 0 1,0 -9.2,0zM288.9,164.6a4.6,4.6 0 1,0 9.2,0a4.6,4.6 0 1,0 -9.2,0zM286.4,168.5a4.6,4.6 0 1,0 9.2,0a4.6,4.6 0 1,0 -9.2,0zM299.2,166.9a4.6,4.6 0 1,0 9.2,0a4.6,4.6 0 1,0 -9.2,0zM382.8,172.4a4.6,4.6 0 1,0 9.2,0a4.6,4.6 0 1,0 -9.2,0zM333.6,183.3a4.6,4.6 0 1,0 9.2,0a4.6,4.6 0 1,0 -9.2,0zM352.3,183.3a4.6,4.6 0 1,0 9.2,0a4.6,4.6 0 1,0 -9.2,0zM226.3,153.1a4.6,4.6 0 1,0 9.2,0a4.6,4.6 0 1,0 -9.2,0zM274.8,172.4a4.6,4.6 0 1,0 9.2,0a4.6,4.6 0 1,0 -9.2,0zM268.3,200.8a4.6,4.6 0 1,0 9.2,0a4.6,4.6 0 1,0 -9.2,0zM284.0,202.8a4.6,4.6 0 1,0 9.2,0a4.6,4.6 0 1,0 -9.2,0zM259.4,221.5a4.6,4.6 0 1,0 9.2,0a4.6,4.6 0 1,0 -9.2,0zM281.1,217.5a4.6,4.6 0 1,0 9.2,0a4.6,4.6 0 1,0 -9.2,0zM242.7,229.8a4.6,4.6 0 1,0 9.2,0a4.6,4.6 0 1,0 -9.2,0zM279.1,230.4a4.6,4.6 0 1,0 9.2,0a4.6,4.6 0 1,0 -9.2,0zM258.4,247.1a4.6,4.6 0 1,0 9.2,0a4.6,4.6 0 1,0 -9.2,0zM204.3,274.7a4.6,4.6 0 1,0 9.2,0a4.6,4.6 0 1,0 -9.2,0zM226.3,270.3a4.6,4.6 0 1,0 9.2,0a4.6,4.6 0 1,0 -9.2,0zM219.1,277.6a4.6,4.6 0 1,0 9.2,0a4.6,4.6 0 1,0 -9.2,0zM239.7,268.8a4.6,4.6 0 1,0 9.2,0a4.6,4.6 0 1,0 -9.2,0zM246.6,279.6a4.6,4.6 0 1,0 9.2,0a4.6,4.6 0 1,0 -9.2,0zM256.5,267.8a4.6,4.6 0 1,0 9.2,0a4.6,4.6 0 1,0 -9.2,0zM255.5,288.5a4.6,4.6 0 1,0 9.2,0a4.6,4.6 0 1,0 -9.2,0zM226.9,290.4a4.6,4.6 0 1,0 9.2,0a4.6,4.6 0 1,0 -9.2,0zM209.2,300.3a4.6,4.6 0 1,0 9.2,0a4.6,4.6 0 1,0 -9.2,0zM218.1,302.3a4.6,4.6 0 1,0 9.2,0a4.6,4.6 0 1,0 -9.2,0zM263.4,287.5a4.6,4.6 0 1,0 9.2,0a4.6,4.6 0 1,0 -9.2,0zM562.4,195.9a4.6,4.6 0 1,0 9.2,0a4.6,4.6 0 1,0 -9.2,0zM578.1,213.6a4.6,4.6 0 1,0 9.2,0a4.6,4.6 0 1,0 -9.2,0zM444.3,227.4a4.6,4.6 0 1,0 9.2,0a4.6,4.6 0 1,0 -9.2,0zM463.0,223.5a4.6,4.6 0 1,0 9.2,0a4.6,4.6 0 1,0 -9.2,0zM496.4,231.3a4.6,4.6 0 1,0 9.2,0a4.6,4.6 0 1,0 -9.2,0zM485.6,245.1a4.6,4.6 0 1,0 9.2,0a4.6,4.6 0 1,0 -9.2,0zM511.2,243.2a4.6,4.6 0 1,0 9.2,0a4.6,4.6 0 1,0 -9.2,0zM531.9,233.3a4.6,4.6 0 1,0 9.2,0a4.6,4.6 0 1,0 -9.2,0zM555.5,229.4a4.6,4.6 0 1,0 9.2,0a4.6,4.6 0 1,0 -9.2,0zM554.5,236.3a4.6,4.6 0 1,0 9.2,0a4.6,4.6 0 1,0 -9.2,0zM583.0,245.1a4.6,4.6 0 1,0 9.2,0a4.6,4.6 0 1,0 -9.2,0zM494.5,258.9a4.6,4.6 0 1,0 9.2,0a4.6,4.6 0 1,0 -9.2,0zM524.0,256.9a4.6,4.6 0 1,0 9.2,0a4.6,4.6 0 1,0 -9.2,0zM542.7,258.9a4.6,4.6 0 1,0 9.2,0a4.6,4.6 0 1,0 -9.2,0zM553.5,262.9a4.6,4.6 0 1,0 9.2,0a4.6,4.6 0 1,0 -9.2,0zM561.4,265.8a4.6,4.6 0 1,0 9.2,0a4.6,4.6 0 1,0 -9.2,0zM577.1,270.7a4.6,4.6 0 1,0 9.2,0a4.6,4.6 0 1,0 -9.2,0zM582.1,268.8a4.6,4.6 0 1,0 9.2,0a4.6,4.6 0 1,0 -9.2,0zM450.2,266.8a4.6,4.6 0 1,0 9.2,0a4.6,4.6 0 1,0 -9.2,0zM456.1,280.6a4.6,4.6 0 1,0 9.2,0a4.6,4.6 0 1,0 -9.2,0zM474.8,286.5a4.6,4.6 0 1,0 9.2,0a4.6,4.6 0 1,0 -9.2,0zM441.3,274.7a4.6,4.6 0 1,0 9.2,0a4.6,4.6 0 1,0 -9.2,0zM442.3,296.3a4.6,4.6 0 1,0 9.2,0a4.6,4.6 0 1,0 -9.2,0zM561.4,290.4a4.6,4.6 0 1,0 9.2,0a4.6,4.6 0 1,0 -9.2,0zM573.2,286.5a4.6,4.6 0 1,0 9.2,0a4.6,4.6 0 1,0 -9.2,0zM527.9,278.6a4.6,4.6 0 1,0 9.2,0a4.6,4.6 0 1,0 -9.2,0zM564.3,301.3a4.6,4.6 0 1,0 9.2,0a4.6,4.6 0 1,0 -9.2,0zM677.9,223.5a4.6,4.6 0 1,0 9.2,0a4.6,4.6 0 1,0 -9.2,0zM610.0,228.4a4.6,4.6 0 1,0 9.2,0a4.6,4.6 0 1,0 -9.2,0zM616.9,229.4a4.6,4.6 0 1,0 9.2,0a4.6,4.6 0 1,0 -9.2,0zM603.1,237.2a4.6,4.6 0 1,0 9.2,0a4.6,4.6 0 1,0 -9.2,0zM587.4,243.2a4.6,4.6 0 1,0 9.2,0a4.6,4.6 0 1,0 -9.2,0zM591.3,251.0a4.6,4.6 0 1,0 9.2,0a4.6,4.6 0 1,0 -9.2,0zM616.9,244.1a4.6,4.6 0 1,0 9.2,0a4.6,4.6 0 1,0 -9.2,0zM624.8,249.1a4.6,4.6 0 1,0 9.2,0a4.6,4.6 0 1,0 -9.2,0zM606.1,256.0a4.6,4.6 0 1,0 9.2,0a4.6,4.6 0 1,0 -9.2,0zM641.5,251.0a4.6,4.6 0 1,0 9.2,0a4.6,4.6 0 1,0 -9.2,0zM652.3,251.0a4.6,4.6 0 1,0 9.2,0a4.6,4.6 0 1,0 -9.2,0zM631.7,256.0a4.6,4.6 0 1,0 9.2,0a4.6,4.6 0 1,0 -9.2,0zM668.1,261.9a4.6,4.6 0 1,0 9.2,0a4.6,4.6 0 1,0 -9.2,0zM670.0,268.8a4.6,4.6 0 1,0 9.2,0a4.6,4.6 0 1,0 -9.2,0zM664.1,278.6a4.6,4.6 0 1,0 9.2,0a4.6,4.6 0 1,0 -9.2,0zM614.9,262.9a4.6,4.6 0 1,0 9.2,0a4.6,4.6 0 1,0 -9.2,0zM619.8,262.9a4.6,4.6 0 1,0 9.2,0a4.6,4.6 0 1,0 -9.2,0zM648.4,262.9a4.6,4.6 0 1,0 9.2,0a4.6,4.6 0 1,0 -9.2,0zM654.3,268.8a4.6,4.6 0 1,0 9.2,0a4.6,4.6 0 1,0 -9.2,0zM644.5,272.7a4.6,4.6 0 1,0 9.2,0a4.6,4.6 0 1,0 -9.2,0zM597.2,266.8a4.6,4.6 0 1,0 9.2,0a4.6,4.6 0 1,0 -9.2,0zM605.1,268.8a4.6,4.6 0 1,0 9.2,0a4.6,4.6 0 1,0 -9.2,0zM589.3,270.7a4.6,4.6 0 1,0 9.2,0a4.6,4.6 0 1,0 -9.2,0zM601.1,276.6a4.6,4.6 0 1,0 9.2,0a4.6,4.6 0 1,0 -9.2,0zM611.0,276.6a4.6,4.6 0 1,0 9.2,0a4.6,4.6 0 1,0 -9.2,0zM620.8,274.7a4.6,4.6 0 1,0 9.2,0a4.6,4.6 0 1,0 -9.2,0zM632.6,270.7a4.6,4.6 0 1,0 9.2,0a4.6,4.6 0 1,0 -9.2,0zM638.5,280.6a4.6,4.6 0 1,0 9.2,0a4.6,4.6 0 1,0 -9.2,0zM593.3,284.5a4.6,4.6 0 1,0 9.2,0a4.6,4.6 0 1,0 -9.2,0zM605.1,284.5a4.6,4.6 0 1,0 9.2,0a4.6,4.6 0 1,0 -9.2,0zM614.9,282.6a4.6,4.6 0 1,0 9.2,0a4.6,4.6 0 1,0 -9.2,0zM624.8,286.5a4.6,4.6 0 1,0 9.2,0a4.6,4.6 0 1,0 -9.2,0zM634.6,286.5a4.6,4.6 0 1,0 9.2,0a4.6,4.6 0 1,0 -9.2,0zM644.5,286.5a4.6,4.6 0 1,0 9.2,0a4.6,4.6 0 1,0 -9.2,0zM589.3,294.4a4.6,4.6 0 1,0 9.2,0a4.6,4.6 0 1,0 -9.2,0zM601.1,300.3a4.6,4.6 0 1,0 9.2,0a4.6,4.6 0 1,0 -9.2,0zM618.9,294.4a4.6,4.6 0 1,0 9.2,0a4.6,4.6 0 1,0 -9.2,0zM628.7,298.3a4.6,4.6 0 1,0 9.2,0a4.6,4.6 0 1,0 -9.2,0zM640.5,294.4a4.6,4.6 0 1,0 9.2,0a4.6,4.6 0 1,0 -9.2,0zM650.4,292.4a4.6,4.6 0 1,0 9.2,0a4.6,4.6 0 1,0 -9.2,0zM660.2,296.3a4.6,4.6 0 1,0 9.2,0a4.6,4.6 0 1,0 -9.2,0zM670.0,294.4a4.6,4.6 0 1,0 9.2,0a4.6,4.6 0 1,0 -9.2,0zM674.0,298.3a4.6,4.6 0 1,0 9.2,0a4.6,4.6 0 1,0 -9.2,0zM644.5,304.2a4.6,4.6 0 1,0 9.2,0a4.6,4.6 0 1,0 -9.2,0zM664.1,304.2a4.6,4.6 0 1,0 9.2,0a4.6,4.6 0 1,0 -9.2,0zM697.6,305.2a4.6,4.6 0 1,0 9.2,0a4.6,4.6 0 1,0 -9.2,0zM597.2,258.9a4.6,4.6 0 1,0 9.2,0a4.6,4.6 0 1,0 -9.2,0zM585.4,260.9a4.6,4.6 0 1,0 9.2,0a4.6,4.6 0 1,0 -9.2,0zM607.1,290.4a4.6,4.6 0 1,0 9.2,0a4.6,4.6 0 1,0 -9.2,0zM632.6,262.9a4.6,4.6 0 1,0 9.2,0a4.6,4.6 0 1,0 -9.2,0zM624.8,266.8a4.6,4.6 0 1,0 9.2,0a4.6,4.6 0 1,0 -9.2,0zM595.2,274.7a4.6,4.6 0 1,0 9.2,0a4.6,4.6 0 1,0 -9.2,0zM213.2,339.5a4.6,4.6 0 1,0 9.2,0a4.6,4.6 0 1,0 -9.2,0zM200.4,373.0a4.6,4.6 0 1,0 9.2,0a4.6,4.6 0 1,0 -9.2,0zM201.3,384.8a4.6,4.6 0 1,0 9.2,0a4.6,4.6 0 1,0 -9.2,0zM241.7,322.7a4.6,4.6 0 1,0 9.2,0a4.6,4.6 0 1,0 -9.2,0zM273.2,373.0a4.6,4.6 0 1,0 9.2,0a4.6,4.6 0 1,0 -9.2,0zM277.1,378.9a4.6,4.6 0 1,0 9.2,0a4.6,4.6 0 1,0 -9.2,0zM271.2,394.6a4.6,4.6 0 1,0 9.2,0a4.6,4.6 0 1,0 -9.2,0zM281.1,398.6a4.6,4.6 0 1,0 9.2,0a4.6,4.6 0 1,0 -9.2,0zM277.1,343.4a4.6,4.6 0 1,0 9.2,0a4.6,4.6 0 1,0 -9.2,0zM281.1,349.3a4.6,4.6 0 1,0 9.2,0a4.6,4.6 0 1,0 -9.2,0zM255.5,355.2a4.6,4.6 0 1,0 9.2,0a4.6,4.6 0 1,0 -9.2,0zM237.8,351.3a4.6,4.6 0 1,0 9.2,0a4.6,4.6 0 1,0 -9.2,0zM242.7,357.2a4.6,4.6 0 1,0 9.2,0a4.6,4.6 0 1,0 -9.2,0zM253.5,351.3a4.6,4.6 0 1,0 9.2,0a4.6,4.6 0 1,0 -9.2,0zM245.6,402.5a4.6,4.6 0 1,0 9.2,0a4.6,4.6 0 1,0 -9.2,0zM281.1,311.9a4.6,4.6 0 1,0 9.2,0a4.6,4.6 0 1,0 -9.2,0zM283.0,323.7a4.6,4.6 0 1,0 9.2,0a4.6,4.6 0 1,0 -9.2,0zM269.3,365.1a4.6,4.6 0 1,0 9.2,0a4.6,4.6 0 1,0 -9.2,0zM218.1,378.9a4.6,4.6 0 1,0 9.2,0a4.6,4.6 0 1,0 -9.2,0zM216.1,308.0a4.6,4.6 0 1,0 9.2,0a4.6,4.6 0 1,0 -9.2,0zM227.9,453.5a4.6,4.6 0 1,0 9.2,0a4.6,4.6 0 1,0 -9.2,0zM237.8,457.5a4.6,4.6 0 1,0 9.2,0a4.6,4.6 0 1,0 -9.2,0zM245.6,459.5a4.6,4.6 0 1,0 9.2,0a4.6,4.6 0 1,0 -9.2,0zM242.7,470.3a4.6,4.6 0 1,0 9.2,0a4.6,4.6 0 1,0 -9.2,0zM253.5,435.8a4.6,4.6 0 1,0 9.2,0a4.6,4.6 0 1,0 -9.2,0zM249.6,441.7a4.6,4.6 0 1,0 9.2,0a4.6,4.6 0 1,0 -9.2,0zM257.4,435.8a4.6,4.6 0 1,0 9.2,0a4.6,4.6 0 1,0 -9.2,0zM253.5,448.6a4.6,4.6 0 1,0 9.2,0a4.6,4.6 0 1,0 -9.2,0zM276.1,485.1a4.6,4.6 0 1,0 9.2,0a4.6,4.6 0 1,0 -9.2,0zM255.5,495.9a4.6,4.6 0 1,0 9.2,0a4.6,4.6 0 1,0 -9.2,0zM271.2,427.9a4.6,4.6 0 1,0 9.2,0a4.6,4.6 0 1,0 -9.2,0zM281.1,435.8a4.6,4.6 0 1,0 9.2,0a4.6,4.6 0 1,0 -9.2,0zM261.4,431.9a4.6,4.6 0 1,0 9.2,0a4.6,4.6 0 1,0 -9.2,0zM233.8,435.8a4.6,4.6 0 1,0 9.2,0a4.6,4.6 0 1,0 -9.2,0zM289.3,427.9a4.6,4.6 0 1,0 9.2,0a4.6,4.6 0 1,0 -9.2,0zM297.2,426.0a4.6,4.6 0 1,0 9.2,0a4.6,4.6 0 1,0 -9.2,0zM305.1,428.9a4.6,4.6 0 1,0 9.2,0a4.6,4.6 0 1,0 -9.2,0zM314.9,430.9a4.6,4.6 0 1,0 9.2,0a4.6,4.6 0 1,0 -9.2,0zM324.8,430.9a4.6,4.6 0 1,0 9.2,0a4.6,4.6 0 1,0 -9.2,0zM293.3,435.8a4.6,4.6 0 1,0 9.2,0a4.6,4.6 0 1,0 -9.2,0zM301.1,435.8a4.6,4.6 0 1,0 9.2,0a4.6,4.6 0 1,0 -9.2,0zM311.0,441.7a4.6,4.6 0 1,0 9.2,0a4.6,4.6 0 1,0 -9.2,0zM293.3,443.7a4.6,4.6 0 1,0 9.2,0a4.6,4.6 0 1,0 -9.2,0zM297.2,449.6a4.6,4.6 0 1,0 9.2,0a4.6,4.6 0 1,0 -9.2,0zM289.3,441.7a4.6,4.6 0 1,0 9.2,0a4.6,4.6 0 1,0 -9.2,0zM303.1,473.2a4.6,4.6 0 1,0 9.2,0a4.6,4.6 0 1,0 -9.2,0zM299.2,467.3a4.6,4.6 0 1,0 9.2,0a4.6,4.6 0 1,0 -9.2,0zM320.8,465.4a4.6,4.6 0 1,0 9.2,0a4.6,4.6 0 1,0 -9.2,0zM314.9,471.3a4.6,4.6 0 1,0 9.2,0a4.6,4.6 0 1,0 -9.2,0zM305.1,496.9a4.6,4.6 0 1,0 9.2,0a4.6,4.6 0 1,0 -9.2,0zM286.4,445.7a4.6,4.6 0 1,0 9.2,0a4.6,4.6 0 1,0 -9.2,0zM358.2,427.0a4.6,4.6 0 1,0 9.2,0a4.6,4.6 0 1,0 -9.2,0zM389.7,455.5a4.6,4.6 0 1,0 9.2,0a4.6,4.6 0 1,0 -9.2,0zM581.1,432.9a4.6,4.6 0 1,0 9.2,0a4.6,4.6 0 1,0 -9.2,0zM591.3,425.0a4.6,4.6 0 1,0 9.2,0a4.6,4.6 0 1,0 -9.2,0zM610.0,433.8a4.6,4.6 0 1,0 9.2,0a4.6,4.6 0 1,0 -9.2,0zM601.1,451.6a4.6,4.6 0 1,0 9.2,0a4.6,4.6 0 1,0 -9.2,0zM630.7,430.9a4.6,4.6 0 1,0 9.2,0a4.6,4.6 0 1,0 -9.2,0zM635.6,427.9a4.6,4.6 0 1,0 9.2,0a4.6,4.6 0 1,0 -9.2,0zM640.5,427.0a4.6,4.6 0 1,0 9.2,0a4.6,4.6 0 1,0 -9.2,0zM632.6,435.8a4.6,4.6 0 1,0 9.2,0a4.6,4.6 0 1,0 -9.2,0zM636.6,432.9a4.6,4.6 0 1,0 9.2,0a4.6,4.6 0 1,0 -9.2,0zM671.0,427.0a4.6,4.6 0 1,0 9.2,0a4.6,4.6 0 1,0 -9.2,0zM657.3,444.7a4.6,4.6 0 1,0 9.2,0a4.6,4.6 0 1,0 -9.2,0zM676.0,458.5a4.6,4.6 0 1,0 9.2,0a4.6,4.6 0 1,0 -9.2,0zM619.8,483.1a4.6,4.6 0 1,0 9.2,0a4.6,4.6 0 1,0 -9.2,0zM642.5,479.2a4.6,4.6 0 1,0 9.2,0a4.6,4.6 0 1,0 -9.2,0zM697.6,308.0a4.6,4.6 0 1,0 9.2,0a4.6,4.6 0 1,0 -9.2,0zM673.0,307.0a4.6,4.6 0 1,0 9.2,0a4.6,4.6 0 1,0 -9.2,0zM624.8,313.9a4.6,4.6 0 1,0 9.2,0a4.6,4.6 0 1,0 -9.2,0zM634.6,309.9a4.6,4.6 0 1,0 9.2,0a4.6,4.6 0 1,0 -9.2,0zM642.5,311.9a4.6,4.6 0 1,0 9.2,0a4.6,4.6 0 1,0 -9.2,0zM650.4,308.0a4.6,4.6 0 1,0 9.2,0a4.6,4.6 0 1,0 -9.2,0zM652.3,321.8a4.6,4.6 0 1,0 9.2,0a4.6,4.6 0 1,0 -9.2,0zM660.2,317.8a4.6,4.6 0 1,0 9.2,0a4.6,4.6 0 1,0 -9.2,0zM668.1,315.8a4.6,4.6 0 1,0 9.2,0a4.6,4.6 0 1,0 -9.2,0zM670.0,325.7a4.6,4.6 0 1,0 9.2,0a4.6,4.6 0 1,0 -9.2,0zM674.0,331.6a4.6,4.6 0 1,0 9.2,0a4.6,4.6 0 1,0 -9.2,0zM664.1,325.7a4.6,4.6 0 1,0 9.2,0a4.6,4.6 0 1,0 -9.2,0zM654.3,335.5a4.6,4.6 0 1,0 9.2,0a4.6,4.6 0 1,0 -9.2,0zM656.3,341.5a4.6,4.6 0 1,0 9.2,0a4.6,4.6 0 1,0 -9.2,0zM634.6,329.6a4.6,4.6 0 1,0 9.2,0a4.6,4.6 0 1,0 -9.2,0zM640.5,331.6a4.6,4.6 0 1,0 9.2,0a4.6,4.6 0 1,0 -9.2,0zM630.7,323.7a4.6,4.6 0 1,0 9.2,0a4.6,4.6 0 1,0 -9.2,0zM609.0,311.9a4.6,4.6 0 1,0 9.2,0a4.6,4.6 0 1,0 -9.2,0zM614.9,321.8a4.6,4.6 0 1,0 9.2,0a4.6,4.6 0 1,0 -9.2,0zM605.1,335.5a4.6,4.6 0 1,0 9.2,0a4.6,4.6 0 1,0 -9.2,0zM609.0,337.5a4.6,4.6 0 1,0 9.2,0a4.6,4.6 0 1,0 -9.2,0zM624.8,335.5a4.6,4.6 0 1,0 9.2,0a4.6,4.6 0 1,0 -9.2,0zM618.9,357.2a4.6,4.6 0 1,0 9.2,0a4.6,4.6 0 1,0 -9.2,0zM626.7,355.2a4.6,4.6 0 1,0 9.2,0a4.6,4.6 0 1,0 -9.2,0zM638.5,351.3a4.6,4.6 0 1,0 9.2,0a4.6,4.6 0 1,0 -9.2,0zM647.4,359.2a4.6,4.6 0 1,0 9.2,0a4.6,4.6 0 1,0 -9.2,0zM661.2,361.2a4.6,4.6 0 1,0 9.2,0a4.6,4.6 0 1,0 -9.2,0zM675.0,346.4a4.6,4.6 0 1,0 9.2,0a4.6,4.6 0 1,0 -9.2,0zM684.8,344.4a4.6,4.6 0 1,0 9.2,0a4.6,4.6 0 1,0 -9.2,0zM644.5,369.0a4.6,4.6 0 1,0 9.2,0a4.6,4.6 0 1,0 -9.2,0zM629.7,373.0a4.6,4.6 0 1,0 9.2,0a4.6,4.6 0 1,0 -9.2,0zM616.9,374.9a4.6,4.6 0 1,0 9.2,0a4.6,4.6 0 1,0 -9.2,0zM650.4,376.9a4.6,4.6 0 1,0 9.2,0a4.6,4.6 0 1,0 -9.2,0zM656.3,376.9a4.6,4.6 0 1,0 9.2,0a4.6,4.6 0 1,0 -9.2,0zM670.0,374.9a4.6,4.6 0 1,0 9.2,0a4.6,4.6 0 1,0 -9.2,0zM665.1,383.8a4.6,4.6 0 1,0 9.2,0a4.6,4.6 0 1,0 -9.2,0zM642.5,385.8a4.6,4.6 0 1,0 9.2,0a4.6,4.6 0 1,0 -9.2,0zM627.7,390.7a4.6,4.6 0 1,0 9.2,0a4.6,4.6 0 1,0 -9.2,0zM605.1,384.8a4.6,4.6 0 1,0 9.2,0a4.6,4.6 0 1,0 -9.2,0zM599.2,394.6a4.6,4.6 0 1,0 9.2,0a4.6,4.6 0 1,0 -9.2,0zM616.9,402.5a4.6,4.6 0 1,0 9.2,0a4.6,4.6 0 1,0 -9.2,0zM626.7,402.5a4.6,4.6 0 1,0 9.2,0a4.6,4.6 0 1,0 -9.2,0zM636.6,400.6a4.6,4.6 0 1,0 9.2,0a4.6,4.6 0 1,0 -9.2,0zM680.9,392.7a4.6,4.6 0 1,0 9.2,0a4.6,4.6 0 1,0 -9.2,0zM678.9,405.5a4.6,4.6 0 1,0 9.2,0a4.6,4.6 0 1,0 -9.2,0zM603.1,408.4a4.6,4.6 0 1,0 9.2,0a4.6,4.6 0 1,0 -9.2,0zM622.8,418.3a4.6,4.6 0 1,0 9.2,0a4.6,4.6 0 1,0 -9.2,0zM632.6,414.3a4.6,4.6 0 1,0 9.2,0a4.6,4.6 0 1,0 -9.2,0zM640.5,419.3a4.6,4.6 0 1,0 9.2,0a4.6,4.6 0 1,0 -9.2,0zM597.2,365.1a4.6,4.6 0 1,0 9.2,0a4.6,4.6 0 1,0 -9.2,0zM589.3,365.1a4.6,4.6 0 1,0 9.2,0a4.6,4.6 0 1,0 -9.2,0zM593.3,422.2a4.6,4.6 0 1,0 9.2,0a4.6,4.6 0 1,0 -9.2,0zM672.0,423.2a4.6,4.6 0 1,0 9.2,0a4.6,4.6 0 1,0 -9.2,0zM622.8,327.7a4.6,4.6 0 1,0 9.2,0a4.6,4.6 0 1,0 -9.2,0zM597.2,331.6a4.6,4.6 0 1,0 9.2,0a4.6,4.6 0 1,0 -9.2,0zM452.1,310.9a4.6,4.6 0 1,0 9.2,0a4.6,4.6 0 1,0 -9.2,0zM459.0,329.6a4.6,4.6 0 1,0 9.2,0a4.6,4.6 0 1,0 -9.2,0zM470.8,328.7a4.6,4.6 0 1,0 9.2,0a4.6,4.6 0 1,0 -9.2,0zM441.3,340.5a4.6,4.6 0 1,0 9.2,0a4.6,4.6 0 1,0 -9.2,0zM440.3,350.3a4.6,4.6 0 1,0 9.2,0a4.6,4.6 0 1,0 -9.2,0zM507.3,404.5a4.6,4.6 0 1,0 9.2,0a4.6,4.6 0 1,0 -9.2,0zM547.6,403.5a4.6,4.6 0 1,0 9.2,0a4.6,4.6 0 1,0 -9.2,0zM569.3,412.4a4.6,4.6 0 1,0 9.2,0a4.6,4.6 0 1,0 -9.2,0zM580.1,410.4a4.6,4.6 0 1,0 9.2,0a4.6,4.6 0 1,0 -9.2,0zM437.4,312.9a4.6,4.6 0 1,0 9.2,0a4.6,4.6 0 1,0 -9.2,0zM421.3,391.7a4.6,4.6 0 1,0 9.2,0a4.6,4.6 0 1,0 -9.2,0zM386.9,417.3a4.6,4.6 0 1,0 9.2,0a4.6,4.6 0 1,0 -9.2,0zM358.4,399.5a4.6,4.6 0 1,0 9.2,0a4.6,4.6 0 1,0 -9.2,0zM367.2,381.8a4.6,4.6 0 1,0 9.2,0a4.6,4.6 0 1,0 -9.2,0zM391.8,393.6a4.6,4.6 0 1,0 9.2,0a4.6,4.6 0 1,0 -9.2,0zM395.8,388.7a4.6,4.6 0 1,0 9.2,0a4.6,4.6 0 1,0 -9.2,0zM399.7,385.8a4.6,4.6 0 1,0 9.2,0a4.6,4.6 0 1,0 -9.2,0zM389.8,398.6a4.6,4.6 0 1,0 9.2,0a4.6,4.6 0 1,0 -9.2,0zM331.6,279.1a4.6,4.6 0 1,0 9.2,0a4.6,4.6 0 1,0 -9.2,0zM409.0,268.8a4.6,4.6 0 1,0 9.2,0a4.6,4.6 0 1,0 -9.2,0zM340.7,282.1a4.6,4.6 0 1,0 9.2,0a4.6,4.6 0 1,0 -9.2,0zM287.7,273.9a4.6,4.6 0 1,0 9.2,0a4.6,4.6 0 1,0 -9.2,0zM360.7,304.6a4.6,4.6 0 1,0 9.2,0a4.6,4.6 0 1,0 -9.2,0zM272.8,251.1a4.6,4.6 0 1,0 9.2,0a4.6,4.6 0 1,0 -9.2,0zM272.3,306.4a4.6,4.6 0 1,0 9.2,0a4.6,4.6 0 1,0 -9.2,0zM364.6,285.2a4.6,4.6 0 1,0 9.2,0a4.6,4.6 0 1,0 -9.2,0zM344.1,224.5a4.6,4.6 0 1,0 9.2,0a4.6,4.6 0 1,0 -9.2,0zM288.6,244.4a4.6,4.6 0 1,0 9.2,0a4.6,4.6 0 1,0 -9.2,0zM329.6,310.0a4.6,4.6 0 1,0 9.2,0a4.6,4.6 0 1,0 -9.2,0zM342.5,287.9a4.6,4.6 0 1,0 9.2,0a4.6,4.6 0 1,0 -9.2,0zM339.4,290.3a4.6,4.6 0 1,0 9.2,0a4.6,4.6 0 1,0 -9.2,0zM332.4,248.4a4.6,4.6 0 1,0 9.2,0a4.6,4.6 0 1,0 -9.2,0zM395.2,295.3a4.6,4.6 0 1,0 9.2,0a4.6,4.6 0 1,0 -9.2,0zM309.1,243.1a4.6,4.6 0 1,0 9.2,0a4.6,4.6 0 1,0 -9.2,0zM304.8,225.7a4.6,4.6 0 1,0 9.2,0a4.6,4.6 0 1,0 -9.2,0zM383.1,261.7a4.6,4.6 0 1,0 9.2,0a4.6,4.6 0 1,0 -9.2,0zM396.2,260.2a4.6,4.6 0 1,0 9.2,0a4.6,4.6 0 1,0 -9.2,0zM406.7,269.3a4.6,4.6 0 1,0 9.2,0a4.6,4.6 0 1,0 -9.2,0zM269.4,286.7a4.6,4.6 0 1,0 9.2,0a4.6,4.6 0 1,0 -9.2,0zM385.1,247.5a4.6,4.6 0 1,0 9.2,0a4.6,4.6 0 1,0 -9.2,0zM271.7,254.3a4.6,4.6 0 1,0 9.2,0a4.6,4.6 0 1,0 -9.2,0zM276.8,244.9a4.6,4.6 0 1,0 9.2,0a4.6,4.6 0 1,0 -9.2,0zM388.1,237.4a4.6,4.6 0 1,0 9.2,0a4.6,4.6 0 1,0 -9.2,0zM349.1,266.9a4.6,4.6 0 1,0 9.2,0a4.6,4.6 0 1,0 -9.2,0zM288.7,297.9a4.6,4.6 0 1,0 9.2,0a4.6,4.6 0 1,0 -9.2,0zM278.9,288.3a4.6,4.6 0 1,0 9.2,0a4.6,4.6 0 1,0 -9.2,0zM276.5,263.9a4.6,4.6 0 1,0 9.2,0a4.6,4.6 0 1,0 -9.2,0zM292.3,247.5a4.6,4.6 0 1,0 9.2,0a4.6,4.6 0 1,0 -9.2,0zM307.3,314.6a4.6,4.6 0 1,0 9.2,0a4.6,4.6 0 1,0 -9.2,0zM292.0,261.1a4.6,4.6 0 1,0 9.2,0a4.6,4.6 0 1,0 -9.2,0zM397.5,288.1a4.6,4.6 0 1,0 9.2,0a4.6,4.6 0 1,0 -9.2,0zM292.4,246.2a4.6,4.6 0 1,0 9.2,0a4.6,4.6 0 1,0 -9.2,0zM384.1,253.9a4.6,4.6 0 1,0 9.2,0a4.6,4.6 0 1,0 -9.2,0zM306.0,226.0a4.6,4.6 0 1,0 9.2,0a4.6,4.6 0 1,0 -9.2,0zM272.2,281.6a4.6,4.6 0 1,0 9.2,0a4.6,4.6 0 1,0 -9.2,0zM297.3,283.7a4.6,4.6 0 1,0 9.2,0a4.6,4.6 0 1,0 -9.2,0zM318.4,267.5a4.6,4.6 0 1,0 9.2,0a4.6,4.6 0 1,0 -9.2,0zM414.7,270.8a4.6,4.6 0 1,0 9.2,0a4.6,4.6 0 1,0 -9.2,0zM351.6,312.6a4.6,4.6 0 1,0 9.2,0a4.6,4.6 0 1,0 -9.2,0zM287.4,234.8a4.6,4.6 0 1,0 9.2,0a4.6,4.6 0 1,0 -9.2,0zM298.3,238.7a4.6,4.6 0 1,0 9.2,0a4.6,4.6 0 1,0 -9.2,0zM289.6,321.8a4.6,4.6 0 1,0 9.2,0a4.6,4.6 0 1,0 -9.2,0zM402.1,283.9a4.6,4.6 0 1,0 9.2,0a4.6,4.6 0 1,0 -9.2,0zM326.5,229.3a4.6,4.6 0 1,0 9.2,0a4.6,4.6 0 1,0 -9.2,0zM263.7,323.1a4.6,4.6 0 1,0 9.2,0a4.6,4.6 0 1,0 -9.2,0zM296.5,294.9a4.6,4.6 0 1,0 9.2,0a4.6,4.6 0 1,0 -9.2,0zM299.5,307.9a4.6,4.6 0 1,0 9.2,0a4.6,4.6 0 1,0 -9.2,0zM355.2,250.0a4.6,4.6 0 1,0 9.2,0a4.6,4.6 0 1,0 -9.2,0zM286.2,296.7a4.6,4.6 0 1,0 9.2,0a4.6,4.6 0 1,0 -9.2,0zM349.1,311.1a4.6,4.6 0 1,0 9.2,0a4.6,4.6 0 1,0 -9.2,0zM358.1,248.6a4.6,4.6 0 1,0 9.2,0a4.6,4.6 0 1,0 -9.2,0zM330.5,224.6a4.6,4.6 0 1,0 9.2,0a4.6,4.6 0 1,0 -9.2,0zM286.3,258.3a4.6,4.6 0 1,0 9.2,0a4.6,4.6 0 1,0 -9.2,0zM351.2,232.4a4.6,4.6 0 1,0 9.2,0a4.6,4.6 0 1,0 -9.2,0zM316.8,315.3a4.6,4.6 0 1,0 9.2,0a4.6,4.6 0 1,0 -9.2,0zM418.2,289.7a4.6,4.6 0 1,0 9.2,0a4.6,4.6 0 1,0 -9.2,0zM370.8,281.8a4.6,4.6 0 1,0 9.2,0a4.6,4.6 0 1,0 -9.2,0zM336.5,297.8a4.6,4.6 0 1,0 9.2,0a4.6,4.6 0 1,0 -9.2,0zM269.7,277.6a4.6,4.6 0 1,0 9.2,0a4.6,4.6 0 1,0 -9.2,0zM378.3,294.8a4.6,4.6 0 1,0 9.2,0a4.6,4.6 0 1,0 -9.2,0zM315.1,292.8a4.6,4.6 0 1,0 9.2,0a4.6,4.6 0 1,0 -9.2,0zM325.8,304.3a4.6,4.6 0 1,0 9.2,0a4.6,4.6 0 1,0 -9.2,0zM399.0,280.6a4.6,4.6 0 1,0 9.2,0a4.6,4.6 0 1,0 -9.2,0zM359.9,259.8a4.6,4.6 0 1,0 9.2,0a4.6,4.6 0 1,0 -9.2,0zM353.0,284.5a4.6,4.6 0 1,0 9.2,0a4.6,4.6 0 1,0 -9.2,0zM270.6,287.8a4.6,4.6 0 1,0 9.2,0a4.6,4.6 0 1,0 -9.2,0zM376.8,260.4a4.6,4.6 0 1,0 9.2,0a4.6,4.6 0 1,0 -9.2,0zM377.9,281.4a4.6,4.6 0 1,0 9.2,0a4.6,4.6 0 1,0 -9.2,0zM329.6,309.6a4.6,4.6 0 1,0 9.2,0a4.6,4.6 0 1,0 -9.2,0zM271.1,299.9a4.6,4.6 0 1,0 9.2,0a4.6,4.6 0 1,0 -9.2,0zM336.3,243.1a4.6,4.6 0 1,0 9.2,0a4.6,4.6 0 1,0 -9.2,0zM371.9,272.3a4.6,4.6 0 1,0 9.2,0a4.6,4.6 0 1,0 -9.2,0zM306.8,292.1a4.6,4.6 0 1,0 9.2,0a4.6,4.6 0 1,0 -9.2,0zM290.6,236.5a4.6,4.6 0 1,0 9.2,0a4.6,4.6 0 1,0 -9.2,0zM405.9,290.1a4.6,4.6 0 1,0 9.2,0a4.6,4.6 0 1,0 -9.2,0zM329.9,315.4a4.6,4.6 0 1,0 9.2,0a4.6,4.6 0 1,0 -9.2,0zM311.0,290.7a4.6,4.6 0 1,0 9.2,0a4.6,4.6 0 1,0 -9.2,0zM290.0,265.1a4.6,4.6 0 1,0 9.2,0a4.6,4.6 0 1,0 -9.2,0zM401.8,260.0a4.6,4.6 0 1,0 9.2,0a4.6,4.6 0 1,0 -9.2,0zM353.0,252.6a4.6,4.6 0 1,0 9.2,0a4.6,4.6 0 1,0 -9.2,0zM279.7,272.2a4.6,4.6 0 1,0 9.2,0a4.6,4.6 0 1,0 -9.2,0zM302.8,236.5a4.6,4.6 0 1,0 9.2,0a4.6,4.6 0 1,0 -9.2,0zM331.3,248.0a4.6,4.6 0 1,0 9.2,0a4.6,4.6 0 1,0 -9.2,0zM292.5,263.2a4.6,4.6 0 1,0 9.2,0a4.6,4.6 0 1,0 -9.2,0zM360.0,271.9a4.6,4.6 0 1,0 9.2,0a4.6,4.6 0 1,0 -9.2,0zM309.1,309.6a4.6,4.6 0 1,0 9.2,0a4.6,4.6 0 1,0 -9.2,0zM373.6,280.3a4.6,4.6 0 1,0 9.2,0a4.6,4.6 0 1,0 -9.2,0zM308.1,304.4a4.6,4.6 0 1,0 9.2,0a4.6,4.6 0 1,0 -9.2,0zM332.0,220.7a4.6,4.6 0 1,0 9.2,0a4.6,4.6 0 1,0 -9.2,0zM393.5,243.9a4.6,4.6 0 1,0 9.2,0a4.6,4.6 0 1,0 -9.2,0zM360.6,266.8a4.6,4.6 0 1,0 9.2,0a4.6,4.6 0 1,0 -9.2,0zM360.7,289.5a4.6,4.6 0 1,0 9.2,0a4.6,4.6 0 1,0 -9.2,0zM369.7,239.8a4.6,4.6 0 1,0 9.2,0a4.6,4.6 0 1,0 -9.2,0zM335.3,237.5a4.6,4.6 0 1,0 9.2,0a4.6,4.6 0 1,0 -9.2,0zM374.5,237.6a4.6,4.6 0 1,0 9.2,0a4.6,4.6 0 1,0 -9.2,0zM302.1,255.8a4.6,4.6 0 1,0 9.2,0a4.6,4.6 0 1,0 -9.2,0zM371.8,274.8a4.6,4.6 0 1,0 9.2,0a4.6,4.6 0 1,0 -9.2,0zM358.2,300.6a4.6,4.6 0 1,0 9.2,0a4.6,4.6 0 1,0 -9.2,0zM321.9,304.5a4.6,4.6 0 1,0 9.2,0a4.6,4.6 0 1,0 -9.2,0zM410.3,296.9a4.6,4.6 0 1,0 9.2,0a4.6,4.6 0 1,0 -9.2,0zM278.7,267.5a4.6,4.6 0 1,0 9.2,0a4.6,4.6 0 1,0 -9.2,0zM319.2,280.1a4.6,4.6 0 1,0 9.2,0a4.6,4.6 0 1,0 -9.2,0zM412.3,268.6a4.6,4.6 0 1,0 9.2,0a4.6,4.6 0 1,0 -9.2,0zM364.2,240.4a4.6,4.6 0 1,0 9.2,0a4.6,4.6 0 1,0 -9.2,0zM375.8,307.4a4.6,4.6 0 1,0 9.2,0a4.6,4.6 0 1,0 -9.2,0zM362.6,296.4a4.6,4.6 0 1,0 9.2,0a4.6,4.6 0 1,0 -9.2,0zM292.4,316.3a4.6,4.6 0 1,0 9.2,0a4.6,4.6 0 1,0 -9.2,0zM345.5,304.4a4.6,4.6 0 1,0 9.2,0a4.6,4.6 0 1,0 -9.2,0zM309.9,317.4a4.6,4.6 0 1,0 9.2,0a4.6,4.6 0 1,0 -9.2,0zM397.7,256.1a4.6,4.6 0 1,0 9.2,0a4.6,4.6 0 1,0 -9.2,0zM271.0,266.1a4.6,4.6 0 1,0 9.2,0a4.6,4.6 0 1,0 -9.2,0zM347.6,301.9a4.6,4.6 0 1,0 9.2,0a4.6,4.6 0 1,0 -9.2,0zM337.3,221.1a4.6,4.6 0 1,0 9.2,0a4.6,4.6 0 1,0 -9.2,0zM388.6,236.9a4.6,4.6 0 1,0 9.2,0a4.6,4.6 0 1,0 -9.2,0zM312.3,304.0a4.6,4.6 0 1,0 9.2,0a4.6,4.6 0 1,0 -9.2,0zM342.1,297.0a4.6,4.6 0 1,0 9.2,0a4.6,4.6 0 1,0 -9.2,0zM395.2,293.3a4.6,4.6 0 1,0 9.2,0a4.6,4.6 0 1,0 -9.2,0zM412.5,271.8a4.6,4.6 0 1,0 9.2,0a4.6,4.6 0 1,0 -9.2,0zM293.7,275.5a4.6,4.6 0 1,0 9.2,0a4.6,4.6 0 1,0 -9.2,0zM305.0,297.6a4.6,4.6 0 1,0 9.2,0a4.6,4.6 0 1,0 -9.2,0zM362.2,275.1a4.6,4.6 0 1,0 9.2,0a4.6,4.6 0 1,0 -9.2,0zM395.8,279.1a4.6,4.6 0 1,0 9.2,0a4.6,4.6 0 1,0 -9.2,0zM308.5,259.6a4.6,4.6 0 1,0 9.2,0a4.6,4.6 0 1,0 -9.2,0zM291.6,310.9a4.6,4.6 0 1,0 9.2,0a4.6,4.6 0 1,0 -9.2,0zM416.2,275.2a4.6,4.6 0 1,0 9.2,0a4.6,4.6 0 1,0 -9.2,0zM351.4,239.9a4.6,4.6 0 1,0 9.2,0a4.6,4.6 0 1,0 -9.2,0zM345.3,272.9a4.6,4.6 0 1,0 9.2,0a4.6,4.6 0 1,0 -9.2,0zM416.4,274.3a4.6,4.6 0 1,0 9.2,0a4.6,4.6 0 1,0 -9.2,0zM323.1,305.5a4.6,4.6 0 1,0 9.2,0a4.6,4.6 0 1,0 -9.2,0zM349.7,271.6a4.6,4.6 0 1,0 9.2,0a4.6,4.6 0 1,0 -9.2,0zM345.7,263.2a4.6,4.6 0 1,0 9.2,0a4.6,4.6 0 1,0 -9.2,0zM301.6,269.7a4.6,4.6 0 1,0 9.2,0a4.6,4.6 0 1,0 -9.2,0zM278.2,265.4a4.6,4.6 0 1,0 9.2,0a4.6,4.6 0 1,0 -9.2,0zM335.6,252.6a4.6,4.6 0 1,0 9.2,0a4.6,4.6 0 1,0 -9.2,0zM288.8,285.5a4.6,4.6 0 1,0 9.2,0a4.6,4.6 0 1,0 -9.2,0zM289.2,242.8a4.6,4.6 0 1,0 9.2,0a4.6,4.6 0 1,0 -9.2,0zM370.1,253.2a4.6,4.6 0 1,0 9.2,0a4.6,4.6 0 1,0 -9.2,0zM315.7,285.7a4.6,4.6 0 1,0 9.2,0a4.6,4.6 0 1,0 -9.2,0zM274.6,297.8a4.6,4.6 0 1,0 9.2,0a4.6,4.6 0 1,0 -9.2,0zM277.5,273.7a4.6,4.6 0 1,0 9.2,0a4.6,4.6 0 1,0 -9.2,0zM298.5,239.6a4.6,4.6 0 1,0 9.2,0a4.6,4.6 0 1,0 -9.2,0zM344.4,265.7a4.6,4.6 0 1,0 9.2,0a4.6,4.6 0 1,0 -9.2,0zM319.0,263.1a4.6,4.6 0 1,0 9.2,0a4.6,4.6 0 1,0 -9.2,0zM344.2,235.4a4.6,4.6 0 1,0 9.2,0a4.6,4.6 0 1,0 -9.2,0zM290.9,286.9a4.6,4.6 0 1,0 9.2,0a4.6,4.6 0 1,0 -9.2,0zM362.1,275.8a4.6,4.6 0 1,0 9.2,0a4.6,4.6 0 1,0 -9.2,0zM397.0,284.8a4.6,4.6 0 1,0 9.2,0a4.6,4.6 0 1,0 -9.2,0zM378.9,306.5a4.6,4.6 0 1,0 9.2,0a4.6,4.6 0 1,0 -9.2,0zM405.4,252.5a4.6,4.6 0 1,0 9.2,0a4.6,4.6 0 1,0 -9.2,0zM309.1,318.8a4.6,4.6 0 1,0 9.2,0a4.6,4.6 0 1,0 -9.2,0zM296.7,297.3a4.6,4.6 0 1,0 9.2,0a4.6,4.6 0 1,0 -9.2,0zM300.0,228.6a4.6,4.6 0 1,0 9.2,0a4.6,4.6 0 1,0 -9.2,0zM393.9,264.0a4.6,4.6 0 1,0 9.2,0a4.6,4.6 0 1,0 -9.2,0zM323.5,292.8a4.6,4.6 0 1,0 9.2,0a4.6,4.6 0 1,0 -9.2,0zM340.3,300.8a4.6,4.6 0 1,0 9.2,0a4.6,4.6 0 1,0 -9.2,0zM339.9,292.9a4.6,4.6 0 1,0 9.2,0a4.6,4.6 0 1,0 -9.2,0zM347.9,274.2a4.6,4.6 0 1,0 9.2,0a4.6,4.6 0 1,0 -9.2,0zM350.7,234.0a4.6,4.6 0 1,0 9.2,0a4.6,4.6 0 1,0 -9.2,0zM287.7,240.3a4.6,4.6 0 1,0 9.2,0a4.6,4.6 0 1,0 -9.2,0zM267.6,321.9a4.6,4.6 0 1,0 9.2,0a4.6,4.6 0 1,0 -9.2,0zM333.2,301.5a4.6,4.6 0 1,0 9.2,0a4.6,4.6 0 1,0 -9.2,0zM311.0,269.0a4.6,4.6 0 1,0 9.2,0a4.6,4.6 0 1,0 -9.2,0zM341.9,265.0a4.6,4.6 0 1,0 9.2,0a4.6,4.6 0 1,0 -9.2,0zM372.4,310.2a4.6,4.6 0 1,0 9.2,0a4.6,4.6 0 1,0 -9.2,0zM287.1,267.6a4.6,4.6 0 1,0 9.2,0a4.6,4.6 0 1,0 -9.2,0zM378.7,262.3a4.6,4.6 0 1,0 9.2,0a4.6,4.6 0 1,0 -9.2,0zM289.4,236.0a4.6,4.6 0 1,0 9.2,0a4.6,4.6 0 1,0 -9.2,0zM341.5,219.7a4.6,4.6 0 1,0 9.2,0a4.6,4.6 0 1,0 -9.2,0zM373.0,312.0a4.6,4.6 0 1,0 9.2,0a4.6,4.6 0 1,0 -9.2,0zM360.6,262.2a4.6,4.6 0 1,0 9.2,0a4.6,4.6 0 1,0 -9.2,0zM355.7,273.1a4.6,4.6 0 1,0 9.2,0a4.6,4.6 0 1,0 -9.2,0zM299.8,317.5a4.6,4.6 0 1,0 9.2,0a4.6,4.6 0 1,0 -9.2,0zM379.5,303.0a4.6,4.6 0 1,0 9.2,0a4.6,4.6 0 1,0 -9.2,0zM391.0,262.3a4.6,4.6 0 1,0 9.2,0a4.6,4.6 0 1,0 -9.2,0zM371.3,301.8a4.6,4.6 0 1,0 9.2,0a4.6,4.6 0 1,0 -9.2,0zM382.9,262.3a4.6,4.6 0 1,0 9.2,0a4.6,4.6 0 1,0 -9.2,0zM313.4,269.2a4.6,4.6 0 1,0 9.2,0a4.6,4.6 0 1,0 -9.2,0zM362.1,286.1a4.6,4.6 0 1,0 9.2,0a4.6,4.6 0 1,0 -9.2,0zM295.5,321.2a4.6,4.6 0 1,0 9.2,0a4.6,4.6 0 1,0 -9.2,0zM366.6,254.9a4.6,4.6 0 1,0 9.2,0a4.6,4.6 0 1,0 -9.2,0zM365.6,280.2a4.6,4.6 0 1,0 9.2,0a4.6,4.6 0 1,0 -9.2,0zM344.8,260.5a4.6,4.6 0 1,0 9.2,0a4.6,4.6 0 1,0 -9.2,0zM372.4,301.2a4.6,4.6 0 1,0 9.2,0a4.6,4.6 0 1,0 -9.2,0zM358.3,298.7a4.6,4.6 0 1,0 9.2,0a4.6,4.6 0 1,0 -9.2,0zM299.5,261.8a4.6,4.6 0 1,0 9.2,0a4.6,4.6 0 1,0 -9.2,0zM319.0,228.8a4.6,4.6 0 1,0 9.2,0a4.6,4.6 0 1,0 -9.2,0zM298.5,316.9a4.6,4.6 0 1,0 9.2,0a4.6,4.6 0 1,0 -9.2,0zM347.6,273.5a4.6,4.6 0 1,0 9.2,0a4.6,4.6 0 1,0 -9.2,0zM416.0,280.0a4.6,4.6 0 1,0 9.2,0a4.6,4.6 0 1,0 -9.2,0zM355.4,300.9a4.6,4.6 0 1,0 9.2,0a4.6,4.6 0 1,0 -9.2,0zM264.8,319.6a4.6,4.6 0 1,0 9.2,0a4.6,4.6 0 1,0 -9.2,0zM283.6,269.5a4.6,4.6 0 1,0 9.2,0a4.6,4.6 0 1,0 -9.2,0zM285.1,272.1a4.6,4.6 0 1,0 9.2,0a4.6,4.6 0 1,0 -9.2,0zM357.6,224.4a4.6,4.6 0 1,0 9.2,0a4.6,4.6 0 1,0 -9.2,0zM412.4,263.9a4.6,4.6 0 1,0 9.2,0a4.6,4.6 0 1,0 -9.2,0zM343.8,283.3a4.6,4.6 0 1,0 9.2,0a4.6,4.6 0 1,0 -9.2,0zM317.4,249.2a4.6,4.6 0 1,0 9.2,0a4.6,4.6 0 1,0 -9.2,0zM364.8,279.2a4.6,4.6 0 1,0 9.2,0a4.6,4.6 0 1,0 -9.2,0zM303.9,296.3a4.6,4.6 0 1,0 9.2,0a4.6,4.6 0 1,0 -9.2,0zM283.1,300.4a4.6,4.6 0 1,0 9.2,0a4.6,4.6 0 1,0 -9.2,0zM321.4,316.0a4.6,4.6 0 1,0 9.2,0a4.6,4.6 0 1,0 -9.2,0zM269.5,316.9a4.6,4.6 0 1,0 9.2,0a4.6,4.6 0 1,0 -9.2,0zM327.8,270.2a4.6,4.6 0 1,0 9.2,0a4.6,4.6 0 1,0 -9.2,0zM375.9,269.1a4.6,4.6 0 1,0 9.2,0a4.6,4.6 0 1,0 -9.2,0zM356.4,230.6a4.6,4.6 0 1,0 9.2,0a4.6,4.6 0 1,0 -9.2,0zM359.8,267.8a4.6,4.6 0 1,0 9.2,0a4.6,4.6 0 1,0 -9.2,0zM344.0,231.6a4.6,4.6 0 1,0 9.2,0a4.6,4.6 0 1,0 -9.2,0zM330.0,290.9a4.6,4.6 0 1,0 9.2,0a4.6,4.6 0 1,0 -9.2,0zM332.1,246.6a4.6,4.6 0 1,0 9.2,0a4.6,4.6 0 1,0 -9.2,0zM352.9,263.8a4.6,4.6 0 1,0 9.2,0a4.6,4.6 0 1,0 -9.2,0zM385.0,276.0a4.6,4.6 0 1,0 9.2,0a4.6,4.6 0 1,0 -9.2,0zM377.8,244.0a4.6,4.6 0 1,0 9.2,0a4.6,4.6 0 1,0 -9.2,0zM276.1,315.5a4.6,4.6 0 1,0 9.2,0a4.6,4.6 0 1,0 -9.2,0zM386.0,286.2a4.6,4.6 0 1,0 9.2,0a4.6,4.6 0 1,0 -9.2,0zM316.3,247.6a4.6,4.6 0 1,0 9.2,0a4.6,4.6 0 1,0 -9.2,0zM369.7,279.7a4.6,4.6 0 1,0 9.2,0a4.6,4.6 0 1,0 -9.2,0zM354.4,287.1a4.6,4.6 0 1,0 9.2,0a4.6,4.6 0 1,0 -9.2,0zM380.9,238.7a4.6,4.6 0 1,0 9.2,0a4.6,4.6 0 1,0 -9.2,0zM298.2,325.0a4.6,4.6 0 1,0 9.2,0a4.6,4.6 0 1,0 -9.2,0zM301.8,264.4a4.6,4.6 0 1,0 9.2,0a4.6,4.6 0 1,0 -9.2,0zM359.6,229.2a4.6,4.6 0 1,0 9.2,0a4.6,4.6 0 1,0 -9.2,0zM346.2,225.9a4.6,4.6 0 1,0 9.2,0a4.6,4.6 0 1,0 -9.2,0zM271.6,291.8a4.6,4.6 0 1,0 9.2,0a4.6,4.6 0 1,0 -9.2,0zM347.7,286.9a4.6,4.6 0 1,0 9.2,0a4.6,4.6 0 1,0 -9.2,0zM318.6,270.3a4.6,4.6 0 1,0 9.2,0a4.6,4.6 0 1,0 -9.2,0zM291.9,255.5a4.6,4.6 0 1,0 9.2,0a4.6,4.6 0 1,0 -9.2,0zM379.6,309.6a4.6,4.6 0 1,0 9.2,0a4.6,4.6 0 1,0 -9.2,0zM390.1,286.1a4.6,4.6 0 1,0 9.2,0a4.6,4.6 0 1,0 -9.2,0zM383.5,241.3a4.6,4.6 0 1,0 9.2,0a4.6,4.6 0 1,0 -9.2,0zM327.0,246.2a4.6,4.6 0 1,0 9.2,0a4.6,4.6 0 1,0 -9.2,0zM390.2,258.3a4.6,4.6 0 1,0 9.2,0a4.6,4.6 0 1,0 -9.2,0zM310.8,277.9a4.6,4.6 0 1,0 9.2,0a4.6,4.6 0 1,0 -9.2,0zM327.5,258.3a4.6,4.6 0 1,0 9.2,0a4.6,4.6 0 1,0 -9.2,0zM273.3,313.6a4.6,4.6 0 1,0 9.2,0a4.6,4.6 0 1,0 -9.2,0zM349.9,270.9a4.6,4.6 0 1,0 9.2,0a4.6,4.6 0 1,0 -9.2,0zM369.8,250.6a4.6,4.6 0 1,0 9.2,0a4.6,4.6 0 1,0 -9.2,0zM292.4,290.3a4.6,4.6 0 1,0 9.2,0a4.6,4.6 0 1,0 -9.2,0zM376.3,293.8a4.6,4.6 0 1,0 9.2,0a4.6,4.6 0 1,0 -9.2,0zM303.8,233.6a4.6,4.6 0 1,0 9.2,0a4.6,4.6 0 1,0 -9.2,0zM316.1,297.3a4.6,4.6 0 1,0 9.2,0a4.6,4.6 0 1,0 -9.2,0zM317.5,230.8a4.6,4.6 0 1,0 9.2,0a4.6,4.6 0 1,0 -9.2,0zM373.7,280.2a4.6,4.6 0 1,0 9.2,0a4.6,4.6 0 1,0 -9.2,0zM407.2,265.8a4.6,4.6 0 1,0 9.2,0a4.6,4.6 0 1,0 -9.2,0zM389.1,251.3a4.6,4.6 0 1,0 9.2,0a4.6,4.6 0 1,0 -9.2,0zM309.5,261.6a4.6,4.6 0 1,0 9.2,0a4.6,4.6 0 1,0 -9.2,0zM298.1,257.5a4.6,4.6 0 1,0 9.2,0a4.6,4.6 0 1,0 -9.2,0zM317.4,257.7a4.6,4.6 0 1,0 9.2,0a4.6,4.6 0 1,0 -9.2,0zM322.3,260.3a4.6,4.6 0 1,0 9.2,0a4.6,4.6 0 1,0 -9.2,0zM289.4,279.6a4.6,4.6 0 1,0 9.2,0a4.6,4.6 0 1,0 -9.2,0zM388.1,277.0a4.6,4.6 0 1,0 9.2,0a4.6,4.6 0 1,0 -9.2,0zM394.6,279.5a4.6,4.6 0 1,0 9.2,0a4.6,4.6 0 1,0 -9.2,0zM286.4,300.9a4.6,4.6 0 1,0 9.2,0a4.6,4.6 0 1,0 -9.2,0zM401.9,248.7a4.6,4.6 0 1,0 9.2,0a4.6,4.6 0 1,0 -9.2,0zM346.6,280.0a4.6,4.6 0 1,0 9.2,0a4.6,4.6 0 1,0 -9.2,0zM415.9,289.1a4.6,4.6 0 1,0 9.2,0a4.6,4.6 0 1,0 -9.2,0zM347.1,304.1a4.6,4.6 0 1,0 9.2,0a4.6,4.6 0 1,0 -9.2,0zM271.3,287.2a4.6,4.6 0 1,0 9.2,0a4.6,4.6 0 1,0 -9.2,0zM281.0,299.4a4.6,4.6 0 1,0 9.2,0a4.6,4.6 0 1,0 -9.2,0zM363.8,244.8a4.6,4.6 0 1,0 9.2,0a4.6,4.6 0 1,0 -9.2,0zM293.6,301.6a4.6,4.6 0 1,0 9.2,0a4.6,4.6 0 1,0 -9.2,0zM342.9,301.5a4.6,4.6 0 1,0 9.2,0a4.6,4.6 0 1,0 -9.2,0zM322.1,254.9a4.6,4.6 0 1,0 9.2,0a4.6,4.6 0 1,0 -9.2,0zM416.2,291.4a4.6,4.6 0 1,0 9.2,0a4.6,4.6 0 1,0 -9.2,0zM338.4,276.7a4.6,4.6 0 1,0 9.2,0a4.6,4.6 0 1,0 -9.2,0zM375.6,295.3a4.6,4.6 0 1,0 9.2,0a4.6,4.6 0 1,0 -9.2,0zM407.5,262.8a4.6,4.6 0 1,0 9.2,0a4.6,4.6 0 1,0 -9.2,0zM392.9,290.8a4.6,4.6 0 1,0 9.2,0a4.6,4.6 0 1,0 -9.2,0zM397.4,306.0a4.6,4.6 0 1,0 9.2,0a4.6,4.6 0 1,0 -9.2,0zM414.5,287.9a4.6,4.6 0 1,0 9.2,0a4.6,4.6 0 1,0 -9.2,0zM343.3,295.5a4.6,4.6 0 1,0 9.2,0a4.6,4.6 0 1,0 -9.2,0zM389.0,264.0a4.6,4.6 0 1,0 9.2,0a4.6,4.6 0 1,0 -9.2,0zM326.4,234.0a4.6,4.6 0 1,0 9.2,0a4.6,4.6 0 1,0 -9.2,0zM319.0,236.3a4.6,4.6 0 1,0 9.2,0a4.6,4.6 0 1,0 -9.2,0zM290.9,264.4a4.6,4.6 0 1,0 9.2,0a4.6,4.6 0 1,0 -9.2,0zM305.3,323.9a4.6,4.6 0 1,0 9.2,0a4.6,4.6 0 1,0 -9.2,0zM276.2,288.8a4.6,4.6 0 1,0 9.2,0a4.6,4.6 0 1,0 -9.2,0zM384.7,237.6a4.6,4.6 0 1,0 9.2,0a4.6,4.6 0 1,0 -9.2,0zM287.7,241.7a4.6,4.6 0 1,0 9.2,0a4.6,4.6 0 1,0 -9.2,0zM296.0,296.3a4.6,4.6 0 1,0 9.2,0a4.6,4.6 0 1,0 -9.2,0zM354.9,242.5a4.6,4.6 0 1,0 9.2,0a4.6,4.6 0 1,0 -9.2,0zM287.7,248.7a4.6,4.6 0 1,0 9.2,0a4.6,4.6 0 1,0 -9.2,0zM285.7,300.7a4.6,4.6 0 1,0 9.2,0a4.6,4.6 0 1,0 -9.2,0zM308.5,277.9a4.6,4.6 0 1,0 9.2,0a4.6,4.6 0 1,0 -9.2,0zM391.4,270.4a4.6,4.6 0 1,0 9.2,0a4.6,4.6 0 1,0 -9.2,0zM300.1,314.9a4.6,4.6 0 1,0 9.2,0a4.6,4.6 0 1,0 -9.2,0zM407.3,255.4a4.6,4.6 0 1,0 9.2,0a4.6,4.6 0 1,0 -9.2,0zM336.5,242.1a4.6,4.6 0 1,0 9.2,0a4.6,4.6 0 1,0 -9.2,0zM265.6,321.5a4.6,4.6 0 1,0 9.2,0a4.6,4.6 0 1,0 -9.2,0zM388.8,260.0a4.6,4.6 0 1,0 9.2,0a4.6,4.6 0 1,0 -9.2,0zM343.9,274.3a4.6,4.6 0 1,0 9.2,0a4.6,4.6 0 1,0 -9.2,0zM302.4,326.1a4.6,4.6 0 1,0 9.2,0a4.6,4.6 0 1,0 -9.2,0zM365.2,243.9a4.6,4.6 0 1,0 9.2,0a4.6,4.6 0 1,0 -9.2,0zM318.3,305.0a4.6,4.6 0 1,0 9.2,0a4.6,4.6 0 1,0 -9.2,0zM374.4,284.2a4.6,4.6 0 1,0 9.2,0a4.6,4.6 0 1,0 -9.2,0zM310.2,246.3a4.6,4.6 0 1,0 9.2,0a4.6,4.6 0 1,0 -9.2,0zM400.0,274.4a4.6,4.6 0 1,0 9.2,0a4.6,4.6 0 1,0 -9.2,0zM301.1,276.4a4.6,4.6 0 1,0 9.2,0a4.6,4.6 0 1,0 -9.2,0zM282.1,302.1a4.6,4.6 0 1,0 9.2,0a4.6,4.6 0 1,0 -9.2,0zM374.9,228.6a4.6,4.6 0 1,0 9.2,0a4.6,4.6 0 1,0 -9.2,0zM336.1,269.2a4.6,4.6 0 1,0 9.2,0a4.6,4.6 0 1,0 -9.2,0zM414.1,282.1a4.6,4.6 0 1,0 9.2,0a4.6,4.6 0 1,0 -9.2,0zM398.0,251.2a4.6,4.6 0 1,0 9.2,0a4.6,4.6 0 1,0 -9.2,0zM386.8,263.5a4.6,4.6 0 1,0 9.2,0a4.6,4.6 0 1,0 -9.2,0zM392.9,240.8a4.6,4.6 0 1,0 9.2,0a4.6,4.6 0 1,0 -9.2,0zM346.5,275.4a4.6,4.6 0 1,0 9.2,0a4.6,4.6 0 1,0 -9.2,0zM283.2,308.9a4.6,4.6 0 1,0 9.2,0a4.6,4.6 0 1,0 -9.2,0zM308.5,251.9a4.6,4.6 0 1,0 9.2,0a4.6,4.6 0 1,0 -9.2,0zM334.0,296.1a4.6,4.6 0 1,0 9.2,0a4.6,4.6 0 1,0 -9.2,0zM316.4,293.0a4.6,4.6 0 1,0 9.2,0a4.6,4.6 0 1,0 -9.2,0zM274.7,261.1a4.6,4.6 0 1,0 9.2,0a4.6,4.6 0 1,0 -9.2,0zM393.5,289.4a4.6,4.6 0 1,0 9.2,0a4.6,4.6 0 1,0 -9.2,0zM373.8,243.9a4.6,4.6 0 1,0 9.2,0a4.6,4.6 0 1,0 -9.2,0zM349.9,268.0a4.6,4.6 0 1,0 9.2,0a4.6,4.6 0 1,0 -9.2,0zM388.5,240.6a4.6,4.6 0 1,0 9.2,0a4.6,4.6 0 1,0 -9.2,0zM358.4,249.7a4.6,4.6 0 1,0 9.2,0a4.6,4.6 0 1,0 -9.2,0zM319.1,276.9a4.6,4.6 0 1,0 9.2,0a4.6,4.6 0 1,0 -9.2,0zM306.3,254.8a4.6,4.6 0 1,0 9.2,0a4.6,4.6 0 1,0 -9.2,0zM321.7,290.8a4.6,4.6 0 1,0 9.2,0a4.6,4.6 0 1,0 -9.2,0zM299.5,239.8a4.6,4.6 0 1,0 9.2,0a4.6,4.6 0 1,0 -9.2,0zM377.4,254.0a4.6,4.6 0 1,0 9.2,0a4.6,4.6 0 1,0 -9.2,0zM412.4,279.5a4.6,4.6 0 1,0 9.2,0a4.6,4.6 0 1,0 -9.2,0zM376.1,254.2a4.6,4.6 0 1,0 9.2,0a4.6,4.6 0 1,0 -9.2,0zM368.5,295.3a4.6,4.6 0 1,0 9.2,0a4.6,4.6 0 1,0 -9.2,0zM286.9,261.9a4.6,4.6 0 1,0 9.2,0a4.6,4.6 0 1,0 -9.2,0zM394.7,282.7a4.6,4.6 0 1,0 9.2,0a4.6,4.6 0 1,0 -9.2,0zM324.1,225.9a4.6,4.6 0 1,0 9.2,0a4.6,4.6 0 1,0 -9.2,0zM408.4,264.6a4.6,4.6 0 1,0 9.2,0a4.6,4.6 0 1,0 -9.2,0zM341.3,288.7a4.6,4.6 0 1,0 9.2,0a4.6,4.6 0 1,0 -9.2,0zM383.2,307.7a4.6,4.6 0 1,0 9.2,0a4.6,4.6 0 1,0 -9.2,0zM320.7,254.2a4.6,4.6 0 1,0 9.2,0a4.6,4.6 0 1,0 -9.2,0zM325.0,219.7a4.6,4.6 0 1,0 9.2,0a4.6,4.6 0 1,0 -9.2,0zM323.1,294.4a4.6,4.6 0 1,0 9.2,0a4.6,4.6 0 1,0 -9.2,0zM365.7,284.5a4.6,4.6 0 1,0 9.2,0a4.6,4.6 0 1,0 -9.2,0zM313.5,289.1a4.6,4.6 0 1,0 9.2,0a4.6,4.6 0 1,0 -9.2,0zM274.8,259.2a4.6,4.6 0 1,0 9.2,0a4.6,4.6 0 1,0 -9.2,0zM340.9,304.1a4.6,4.6 0 1,0 9.2,0a4.6,4.6 0 1,0 -9.2,0zM392.7,284.8a4.6,4.6 0 1,0 9.2,0a4.6,4.6 0 1,0 -9.2,0zM283.4,301.7a4.6,4.6 0 1,0 9.2,0a4.6,4.6 0 1,0 -9.2,0zM405.5,277.9a4.6,4.6 0 1,0 9.2,0a4.6,4.6 0 1,0 -9.2,0zM315.2,272.6a4.6,4.6 0 1,0 9.2,0a4.6,4.6 0 1,0 -9.2,0zM280.6,295.9a4.6,4.6 0 1,0 9.2,0a4.6,4.6 0 1,0 -9.2,0zM419.2,274.4a4.6,4.6 0 1,0 9.2,0a4.6,4.6 0 1,0 -9.2,0zM374.7,309.2a4.6,4.6 0 1,0 9.2,0a4.6,4.6 0 1,0 -9.2,0zM289.7,321.2a4.6,4.6 0 1,0 9.2,0a4.6,4.6 0 1,0 -9.2,0zM360.2,239.6a4.6,4.6 0 1,0 9.2,0a4.6,4.6 0 1,0 -9.2,0zM351.9,294.1a4.6,4.6 0 1,0 9.2,0a4.6,4.6 0 1,0 -9.2,0zM311.4,319.5a4.6,4.6 0 1,0 9.2,0a4.6,4.6 0 1,0 -9.2,0zM316.6,268.6a4.6,4.6 0 1,0 9.2,0a4.6,4.6 0 1,0 -9.2,0zM277.7,324.3a4.6,4.6 0 1,0 9.2,0a4.6,4.6 0 1,0 -9.2,0zM279.6,316.7a4.6,4.6 0 1,0 9.2,0a4.6,4.6 0 1,0 -9.2,0zM346.5,279.2a4.6,4.6 0 1,0 9.2,0a4.6,4.6 0 1,0 -9.2,0zM349.3,246.9a4.6,4.6 0 1,0 9.2,0a4.6,4.6 0 1,0 -9.2,0zM391.5,283.7a4.6,4.6 0 1,0 9.2,0a4.6,4.6 0 1,0 -9.2,0zM277.5,308.1a4.6,4.6 0 1,0 9.2,0a4.6,4.6 0 1,0 -9.2,0zM304.7,316.0a4.6,4.6 0 1,0 9.2,0a4.6,4.6 0 1,0 -9.2,0zM296.9,280.6a4.6,4.6 0 1,0 9.2,0a4.6,4.6 0 1,0 -9.2,0zM347.2,226.3a4.6,4.6 0 1,0 9.2,0a4.6,4.6 0 1,0 -9.2,0zM365.4,251.6a4.6,4.6 0 1,0 9.2,0a4.6,4.6 0 1,0 -9.2,0zM367.5,298.6a4.6,4.6 0 1,0 9.2,0a4.6,4.6 0 1,0 -9.2,0zM320.0,282.6a4.6,4.6 0 1,0 9.2,0a4.6,4.6 0 1,0 -9.2,0zM290.1,269.1a4.6,4.6 0 1,0 9.2,0a4.6,4.6 0 1,0 -9.2,0zM280.8,260.2a4.6,4.6 0 1,0 9.2,0a4.6,4.6 0 1,0 -9.2,0zM350.8,237.0a4.6,4.6 0 1,0 9.2,0a4.6,4.6 0 1,0 -9.2,0zM342.6,246.8a4.6,4.6 0 1,0 9.2,0a4.6,4.6 0 1,0 -9.2,0zM350.6,254.3a4.6,4.6 0 1,0 9.2,0a4.6,4.6 0 1,0 -9.2,0zM367.4,233.8a4.6,4.6 0 1,0 9.2,0a4.6,4.6 0 1,0 -9.2,0zM414.7,283.5a4.6,4.6 0 1,0 9.2,0a4.6,4.6 0 1,0 -9.2,0zM334.5,262.9a4.6,4.6 0 1,0 9.2,0a4.6,4.6 0 1,0 -9.2,0zM359.7,293.3a4.6,4.6 0 1,0 9.2,0a4.6,4.6 0 1,0 -9.2,0zM381.7,300.1a4.6,4.6 0 1,0 9.2,0a4.6,4.6 0 1,0 -9.2,0zM324.5,265.4a4.6,4.6 0 1,0 9.2,0a4.6,4.6 0 1,0 -9.2,0zM343.7,275.3a4.6,4.6 0 1,0 9.2,0a4.6,4.6 0 1,0 -9.2,0zM328.3,316.7a4.6,4.6 0 1,0 9.2,0a4.6,4.6 0 1,0 -9.2,0zM310.0,224.0a4.6,4.6 0 1,0 9.2,0a4.6,4.6 0 1,0 -9.2,0zM377.4,283.2a4.6,4.6 0 1,0 9.2,0a4.6,4.6 0 1,0 -9.2,0zM380.7,251.3a4.6,4.6 0 1,0 9.2,0a4.6,4.6 0 1,0 -9.2,0zM354.7,225.6a4.6,4.6 0 1,0 9.2,0a4.6,4.6 0 1,0 -9.2,0zM277.8,266.8a4.6,4.6 0 1,0 9.2,0a4.6,4.6 0 1,0 -9.2,0zM339.8,261.3a4.6,4.6 0 1,0 9.2,0a4.6,4.6 0 1,0 -9.2,0zM265.9,293.9a4.6,4.6 0 1,0 9.2,0a4.6,4.6 0 1,0 -9.2,0zM343.7,244.1a4.6,4.6 0 1,0 9.2,0a4.6,4.6 0 1,0 -9.2,0zM307.6,261.2a4.6,4.6 0 1,0 9.2,0a4.6,4.6 0 1,0 -9.2,0zM296.1,225.5a4.6,4.6 0 1,0 9.2,0a4.6,4.6 0 1,0 -9.2,0zM366.6,312.6a4.6,4.6 0 1,0 9.2,0a4.6,4.6 0 1,0 -9.2,0zM326.5,305.9a4.6,4.6 0 1,0 9.2,0a4.6,4.6 0 1,0 -9.2,0zM293.8,299.5a4.6,4.6 0 1,0 9.2,0a4.6,4.6 0 1,0 -9.2,0zM273.6,304.5a4.6,4.6 0 1,0 9.2,0a4.6,4.6 0 1,0 -9.2,0zM277.7,276.7a4.6,4.6 0 1,0 9.2,0a4.6,4.6 0 1,0 -9.2,0zM297.4,250.7a4.6,4.6 0 1,0 9.2,0a4.6,4.6 0 1,0 -9.2,0zM310.7,224.8a4.6,4.6 0 1,0 9.2,0a4.6,4.6 0 1,0 -9.2,0zM322.5,256.9a4.6,4.6 0 1,0 9.2,0a4.6,4.6 0 1,0 -9.2,0zM353.4,223.0a4.6,4.6 0 1,0 9.2,0a4.6,4.6 0 1,0 -9.2,0zM262.5,316.1a4.6,4.6 0 1,0 9.2,0a4.6,4.6 0 1,0 -9.2,0zM307.9,272.4a4.6,4.6 0 1,0 9.2,0a4.6,4.6 0 1,0 -9.2,0zM334.9,240.6a4.6,4.6 0 1,0 9.2,0a4.6,4.6 0 1,0 -9.2,0zM305.8,318.8a4.6,4.6 0 1,0 9.2,0a4.6,4.6 0 1,0 -9.2,0zM394.8,256.7a4.6,4.6 0 1,0 9.2,0a4.6,4.6 0 1,0 -9.2,0zM334.9,236.8a4.6,4.6 0 1,0 9.2,0a4.6,4.6 0 1,0 -9.2,0zM290.5,287.1a4.6,4.6 0 1,0 9.2,0a4.6,4.6 0 1,0 -9.2,0zM288.8,314.1a4.6,4.6 0 1,0 9.2,0a4.6,4.6 0 1,0 -9.2,0zM376.4,252.2a4.6,4.6 0 1,0 9.2,0a4.6,4.6 0 1,0 -9.2,0zM374.4,232.7a4.6,4.6 0 1,0 9.2,0a4.6,4.6 0 1,0 -9.2,0zM330.4,226.6a4.6,4.6 0 1,0 9.2,0a4.6,4.6 0 1,0 -9.2,0zM294.0,251.5a4.6,4.6 0 1,0 9.2,0a4.6,4.6 0 1,0 -9.2,0zM373.9,239.5a4.6,4.6 0 1,0 9.2,0a4.6,4.6 0 1,0 -9.2,0zM287.1,243.7a4.6,4.6 0 1,0 9.2,0a4.6,4.6 0 1,0 -9.2,0zM366.4,304.3a4.6,4.6 0 1,0 9.2,0a4.6,4.6 0 1,0 -9.2,0zM318.5,290.3a4.6,4.6 0 1,0 9.2,0a4.6,4.6 0 1,0 -9.2,0zM402.4,282.4a4.6,4.6 0 1,0 9.2,0a4.6,4.6 0 1,0 -9.2,0zM295.0,250.9a4.6,4.6 0 1,0 9.2,0a4.6,4.6 0 1,0 -9.2,0zM409.4,290.8a4.6,4.6 0 1,0 9.2,0a4.6,4.6 0 1,0 -9.2,0zM302.8,287.9a4.6,4.6 0 1,0 9.2,0a4.6,4.6 0 1,0 -9.2,0zM329.6,275.7a4.6,4.6 0 1,0 9.2,0a4.6,4.6 0 1,0 -9.2,0zM344.5,223.0a4.6,4.6 0 1,0 9.2,0a4.6,4.6 0 1,0 -9.2,0zM355.8,249.1a4.6,4.6 0 1,0 9.2,0a4.6,4.6 0 1,0 -9.2,0zM298.5,305.7a4.6,4.6 0 1,0 9.2,0a4.6,4.6 0 1,0 -9.2,0zM381.3,244.9a4.6,4.6 0 1,0 9.2,0a4.6,4.6 0 1,0 -9.2,0zM303.2,277.9a4.6,4.6 0 1,0 9.2,0a4.6,4.6 0 1,0 -9.2,0zM288.0,316.0a4.6,4.6 0 1,0 9.2,0a4.6,4.6 0 1,0 -9.2,0zM333.1,300.0a4.6,4.6 0 1,0 9.2,0a4.6,4.6 0 1,0 -9.2,0zM320.5,319.5a4.6,4.6 0 1,0 9.2,0a4.6,4.6 0 1,0 -9.2,0zM339.4,237.6a4.6,4.6 0 1,0 9.2,0a4.6,4.6 0 1,0 -9.2,0zM348.6,288.4a4.6,4.6 0 1,0 9.2,0a4.6,4.6 0 1,0 -9.2,0zM316.4,289.9a4.6,4.6 0 1,0 9.2,0a4.6,4.6 0 1,0 -9.2,0zM385.8,274.4a4.6,4.6 0 1,0 9.2,0a4.6,4.6 0 1,0 -9.2,0zM340.3,310.3a4.6,4.6 0 1,0 9.2,0a4.6,4.6 0 1,0 -9.2,0zM369.6,274.8a4.6,4.6 0 1,0 9.2,0a4.6,4.6 0 1,0 -9.2,0zM385.3,236.0a4.6,4.6 0 1,0 9.2,0a4.6,4.6 0 1,0 -9.2,0zM357.1,243.7a4.6,4.6 0 1,0 9.2,0a4.6,4.6 0 1,0 -9.2,0zM329.6,302.4a4.6,4.6 0 1,0 9.2,0a4.6,4.6 0 1,0 -9.2,0zM386.4,304.4a4.6,4.6 0 1,0 9.2,0a4.6,4.6 0 1,0 -9.2,0zM296.1,271.4a4.6,4.6 0 1,0 9.2,0a4.6,4.6 0 1,0 -9.2,0zM293.7,281.3a4.6,4.6 0 1,0 9.2,0a4.6,4.6 0 1,0 -9.2,0zM339.2,221.9a4.6,4.6 0 1,0 9.2,0a4.6,4.6 0 1,0 -9.2,0zM355.3,296.0a4.6,4.6 0 1,0 9.2,0a4.6,4.6 0 1,0 -9.2,0zM351.3,313.3a4.6,4.6 0 1,0 9.2,0a4.6,4.6 0 1,0 -9.2,0zM286.9,234.6a4.6,4.6 0 1,0 9.2,0a4.6,4.6 0 1,0 -9.2,0zM328.7,266.2a4.6,4.6 0 1,0 9.2,0a4.6,4.6 0 1,0 -9.2,0zM300.5,305.2a4.6,4.6 0 1,0 9.2,0a4.6,4.6 0 1,0 -9.2,0zM269.3,317.1a4.6,4.6 0 1,0 9.2,0a4.6,4.6 0 1,0 -9.2,0zM350.7,277.3a4.6,4.6 0 1,0 9.2,0a4.6,4.6 0 1,0 -9.2,0zM387.2,244.0a4.6,4.6 0 1,0 9.2,0a4.6,4.6 0 1,0 -9.2,0zM281.4,252.0a4.6,4.6 0 1,0 9.2,0a4.6,4.6 0 1,0 -9.2,0zM359.3,275.4a4.6,4.6 0 1,0 9.2,0a4.6,4.6 0 1,0 -9.2,0zM300.8,282.3a4.6,4.6 0 1,0 9.2,0a4.6,4.6 0 1,0 -9.2,0zM271.9,307.6a4.6,4.6 0 1,0 9.2,0a4.6,4.6 0 1,0 -9.2,0zM285.5,245.8a4.6,4.6 0 1,0 9.2,0a4.6,4.6 0 1,0 -9.2,0zM283.6,293.4a4.6,4.6 0 1,0 9.2,0a4.6,4.6 0 1,0 -9.2,0zM393.7,303.9a4.6,4.6 0 1,0 9.2,0a4.6,4.6 0 1,0 -9.2,0zM317.2,241.6a4.6,4.6 0 1,0 9.2,0a4.6,4.6 0 1,0 -9.2,0zM337.7,301.1a4.6,4.6 0 1,0 9.2,0a4.6,4.6 0 1,0 -9.2,0zM332.1,299.3a4.6,4.6 0 1,0 9.2,0a4.6,4.6 0 1,0 -9.2,0zM321.8,250.5a4.6,4.6 0 1,0 9.2,0a4.6,4.6 0 1,0 -9.2,0zM327.0,226.4a4.6,4.6 0 1,0 9.2,0a4.6,4.6 0 1,0 -9.2,0zM382.6,298.2a4.6,4.6 0 1,0 9.2,0a4.6,4.6 0 1,0 -9.2,0zM295.1,245.7a4.6,4.6 0 1,0 9.2,0a4.6,4.6 0 1,0 -9.2,0zM347.9,244.4a4.6,4.6 0 1,0 9.2,0a4.6,4.6 0 1,0 -9.2,0zM333.1,319.8a4.6,4.6 0 1,0 9.2,0a4.6,4.6 0 1,0 -9.2,0zM317.1,254.8a4.6,4.6 0 1,0 9.2,0a4.6,4.6 0 1,0 -9.2,0zM418.3,284.7a4.6,4.6 0 1,0 9.2,0a4.6,4.6 0 1,0 -9.2,0zM364.0,224.4a4.6,4.6 0 1,0 9.2,0a4.6,4.6 0 1,0 -9.2,0zM313.7,293.9a4.6,4.6 0 1,0 9.2,0a4.6,4.6 0 1,0 -9.2,0zM399.2,282.5a4.6,4.6 0 1,0 9.2,0a4.6,4.6 0 1,0 -9.2,0zM402.8,268.5a4.6,4.6 0 1,0 9.2,0a4.6,4.6 0 1,0 -9.2,0zM321.8,310.1a4.6,4.6 0 1,0 9.2,0a4.6,4.6 0 1,0 -9.2,0zM319.9,303.3a4.6,4.6 0 1,0 9.2,0a4.6,4.6 0 1,0 -9.2,0zM292.7,255.9a4.6,4.6 0 1,0 9.2,0a4.6,4.6 0 1,0 -9.2,0zM287.5,278.0a4.6,4.6 0 1,0 9.2,0a4.6,4.6 0 1,0 -9.2,0zM284.3,240.2a4.6,4.6 0 1,0 9.2,0a4.6,4.6 0 1,0 -9.2,0zM292.6,269.1a4.6,4.6 0 1,0 9.2,0a4.6,4.6 0 1,0 -9.2,0zM308.0,266.8a4.6,4.6 0 1,0 9.2,0a4.6,4.6 0 1,0 -9.2,0zM320.2,225.9a4.6,4.6 0 1,0 9.2,0a4.6,4.6 0 1,0 -9.2,0zM370.8,257.6a4.6,4.6 0 1,0 9.2,0a4.6,4.6 0 1,0 -9.2,0zM287.3,246.6a4.6,4.6 0 1,0 9.2,0a4.6,4.6 0 1,0 -9.2,0zM321.8,318.9a4.6,4.6 0 1,0 9.2,0a4.6,4.6 0 1,0 -9.2,0zM374.7,247.3a4.6,4.6 0 1,0 9.2,0a4.6,4.6 0 1,0 -9.2,0zM316.6,234.8a4.6,4.6 0 1,0 9.2,0a4.6,4.6 0 1,0 -9.2,0zM383.0,297.0a4.6,4.6 0 1,0 9.2,0a4.6,4.6 0 1,0 -9.2,0zM310.2,260.0a4.6,4.6 0 1,0 9.2,0a4.6,4.6 0 1,0 -9.2,0zM271.0,314.4a4.6,4.6 0 1,0 9.2,0a4.6,4.6 0 1,0 -9.2,0zM310.7,302.2a4.6,4.6 0 1,0 9.2,0a4.6,4.6 0 1,0 -9.2,0zM342.6,224.0a4.6,4.6 0 1,0 9.2,0a4.6,4.6 0 1,0 -9.2,0zM322.0,244.0a4.6,4.6 0 1,0 9.2,0a4.6,4.6 0 1,0 -9.2,0zM308.6,264.3a4.6,4.6 0 1,0 9.2,0a4.6,4.6 0 1,0 -9.2,0zM346.6,232.9a4.6,4.6 0 1,0 9.2,0a4.6,4.6 0 1,0 -9.2,0zM373.3,246.4a4.6,4.6 0 1,0 9.2,0a4.6,4.6 0 1,0 -9.2,0zM376.4,290.7a4.6,4.6 0 1,0 9.2,0a4.6,4.6 0 1,0 -9.2,0zM281.5,240.4a4.6,4.6 0 1,0 9.2,0a4.6,4.6 0 1,0 -9.2,0zM303.4,295.8a4.6,4.6 0 1,0 9.2,0a4.6,4.6 0 1,0 -9.2,0zM323.9,260.2a4.6,4.6 0 1,0 9.2,0a4.6,4.6 0 1,0 -9.2,0zM305.3,255.7a4.6,4.6 0 1,0 9.2,0a4.6,4.6 0 1,0 -9.2,0zM350.2,306.3a4.6,4.6 0 1,0 9.2,0a4.6,4.6 0 1,0 -9.2,0zM292.9,293.3a4.6,4.6 0 1,0 9.2,0a4.6,4.6 0 1,0 -9.2,0zM361.1,227.8a4.6,4.6 0 1,0 9.2,0a4.6,4.6 0 1,0 -9.2,0zM327.5,260.9a4.6,4.6 0 1,0 9.2,0a4.6,4.6 0 1,0 -9.2,0zM311.2,272.3a4.6,4.6 0 1,0 9.2,0a4.6,4.6 0 1,0 -9.2,0zM303.3,235.3a4.6,4.6 0 1,0 9.2,0a4.6,4.6 0 1,0 -9.2,0zM323.4,269.9a4.6,4.6 0 1,0 9.2,0a4.6,4.6 0 1,0 -9.2,0zM284.7,290.6a4.6,4.6 0 1,0 9.2,0a4.6,4.6 0 1,0 -9.2,0zM296.7,228.2a4.6,4.6 0 1,0 9.2,0a4.6,4.6 0 1,0 -9.2,0zM313.5,264.1a4.6,4.6 0 1,0 9.2,0a4.6,4.6 0 1,0 -9.2,0zM282.1,281.6a4.6,4.6 0 1,0 9.2,0a4.6,4.6 0 1,0 -9.2,0zM372.4,278.4a4.6,4.6 0 1,0 9.2,0a4.6,4.6 0 1,0 -9.2,0zM544.0,269.3a4.6,4.6 0 1,0 9.2,0a4.6,4.6 0 1,0 -9.2,0zM503.8,284.4a4.6,4.6 0 1,0 9.2,0a4.6,4.6 0 1,0 -9.2,0zM541.8,279.6a4.6,4.6 0 1,0 9.2,0a4.6,4.6 0 1,0 -9.2,0zM505.7,275.2a4.6,4.6 0 1,0 9.2,0a4.6,4.6 0 1,0 -9.2,0zM503.1,294.3a4.6,4.6 0 1,0 9.2,0a4.6,4.6 0 1,0 -9.2,0zM518.4,262.6a4.6,4.6 0 1,0 9.2,0a4.6,4.6 0 1,0 -9.2,0zM530.1,286.2a4.6,4.6 0 1,0 9.2,0a4.6,4.6 0 1,0 -9.2,0zM525.1,271.1a4.6,4.6 0 1,0 9.2,0a4.6,4.6 0 1,0 -9.2,0zM503.5,282.1a4.6,4.6 0 1,0 9.2,0a4.6,4.6 0 1,0 -9.2,0zM551.2,282.7a4.6,4.6 0 1,0 9.2,0a4.6,4.6 0 1,0 -9.2,0zM520.2,262.2a4.6,4.6 0 1,0 9.2,0a4.6,4.6 0 1,0 -9.2,0zM522.8,265.7a4.6,4.6 0 1,0 9.2,0a4.6,4.6 0 1,0 -9.2,0zM524.3,287.6a4.6,4.6 0 1,0 9.2,0a4.6,4.6 0 1,0 -9.2,0zM544.4,280.1a4.6,4.6 0 1,0 9.2,0a4.6,4.6 0 1,0 -9.2,0zM528.4,336.7a4.6,4.6 0 1,0 9.2,0a4.6,4.6 0 1,0 -9.2,0zM519.0,369.6a4.6,4.6 0 1,0 9.2,0a4.6,4.6 0 1,0 -9.2,0zM527.0,341.9a4.6,4.6 0 1,0 9.2,0a4.6,4.6 0 1,0 -9.2,0zM611.7,360.3a4.6,4.6 0 1,0 9.2,0a4.6,4.6 0 1,0 -9.2,0zM563.4,349.8a4.6,4.6 0 1,0 9.2,0a4.6,4.6 0 1,0 -9.2,0zM567.8,322.1a4.6,4.6 0 1,0 9.2,0a4.6,4.6 0 1,0 -9.2,0zM555.3,368.9a4.6,4.6 0 1,0 9.2,0a4.6,4.6 0 1,0 -9.2,0zM520.8,348.4a4.6,4.6 0 1,0 9.2,0a4.6,4.6 0 1,0 -9.2,0zM542.6,365.9a4.6,4.6 0 1,0 9.2,0a4.6,4.6 0 1,0 -9.2,0zM606.9,363.5a4.6,4.6 0 1,0 9.2,0a4.6,4.6 0 1,0 -9.2,0zM522.6,363.3a4.6,4.6 0 1,0 9.2,0a4.6,4.6 0 1,0 -9.2,0zM550.8,371.2a4.6,4.6 0 1,0 9.2,0a4.6,4.6 0 1,0 -9.2,0zM554.5,378.4a4.6,4.6 0 1,0 9.2,0a4.6,4.6 0 1,0 -9.2,0zM595.4,369.4a4.6,4.6 0 1,0 9.2,0a4.6,4.6 0 1,0 -9.2,0zM548.1,305.7a4.6,4.6 0 1,0 9.2,0a4.6,4.6 0 1,0 -9.2,0zM604.4,341.6a4.6,4.6 0 1,0 9.2,0a4.6,4.6 0 1,0 -9.2,0zM520.9,321.9a4.6,4.6 0 1,0 9.2,0a4.6,4.6 0 1,0 -9.2,0zM552.2,297.1a4.6,4.6 0 1,0 9.2,0a4.6,4.6 0 1,0 -9.2,0zM588.1,352.1a4.6,4.6 0 1,0 9.2,0a4.6,4.6 0 1,0 -9.2,0zM607.6,351.3a4.6,4.6 0 1,0 9.2,0a4.6,4.6 0 1,0 -9.2,0zM562.4,338.9a4.6,4.6 0 1,0 9.2,0a4.6,4.6 0 1,0 -9.2,0zM595.9,371.4a4.6,4.6 0 1,0 9.2,0a4.6,4.6 0 1,0 -9.2,0zM510.4,345.3a4.6,4.6 0 1,0 9.2,0a4.6,4.6 0 1,0 -9.2,0zM567.1,342.8a4.6,4.6 0 1,0 9.2,0a4.6,4.6 0 1,0 -9.2,0zM584.2,345.4a4.6,4.6 0 1,0 9.2,0a4.6,4.6 0 1,0 -9.2,0zM524.9,385.8a4.6,4.6 0 1,0 9.2,0a4.6,4.6 0 1,0 -9.2,0zM506.6,332.9a4.6,4.6 0 1,0 9.2,0a4.6,4.6 0 1,0 -9.2,0zM562.0,346.3a4.6,4.6 0 1,0 9.2,0a4.6,4.6 0 1,0 -9.2,0zM555.8,300.1a4.6,4.6 0 1,0 9.2,0a4.6,4.6 0 1,0 -9.2,0zM574.0,328.5a4.6,4.6 0 1,0 9.2,0a4.6,4.6 0 1,0 -9.2,0zM553.8,383.7a4.6,4.6 0 1,0 9.2,0a4.6,4.6 0 1,0 -9.2,0zM501.7,353.0a4.6,4.6 0 1,0 9.2,0a4.6,4.6 0 1,0 -9.2,0zM578.3,359.8a4.6,4.6 0 1,0 9.2,0a4.6,4.6 0 1,0 -9.2,0zM564.5,336.6a4.6,4.6 0 1,0 9.2,0a4.6,4.6 0 1,0 -9.2,0zM581.3,353.9a4.6,4.6 0 1,0 9.2,0a4.6,4.6 0 1,0 -9.2,0zM584.2,334.2a4.6,4.6 0 1,0 9.2,0a4.6,4.6 0 1,0 -9.2,0zM502.3,364.9a4.6,4.6 0 1,0 9.2,0a4.6,4.6 0 1,0 -9.2,0zM532.5,365.6a4.6,4.6 0 1,0 9.2,0a4.6,4.6 0 1,0 -9.2,0zM546.7,373.3a4.6,4.6 0 1,0 9.2,0a4.6,4.6 0 1,0 -9.2,0zM544.8,318.0a4.6,4.6 0 1,0 9.2,0a4.6,4.6 0 1,0 -9.2,0zM566.1,352.3a4.6,4.6 0 1,0 9.2,0a4.6,4.6 0 1,0 -9.2,0zM579.3,341.9a4.6,4.6 0 1,0 9.2,0a4.6,4.6 0 1,0 -9.2,0zM547.4,361.5a4.6,4.6 0 1,0 9.2,0a4.6,4.6 0 1,0 -9.2,0zM537.7,347.5a4.6,4.6 0 1,0 9.2,0a4.6,4.6 0 1,0 -9.2,0zM506.0,313.2a4.6,4.6 0 1,0 9.2,0a4.6,4.6 0 1,0 -9.2,0zM607.4,362.8a4.6,4.6 0 1,0 9.2,0a4.6,4.6 0 1,0 -9.2,0zM508.7,334.9a4.6,4.6 0 1,0 9.2,0a4.6,4.6 0 1,0 -9.2,0zM561.9,365.7a4.6,4.6 0 1,0 9.2,0a4.6,4.6 0 1,0 -9.2,0zM516.7,370.0a4.6,4.6 0 1,0 9.2,0a4.6,4.6 0 1,0 -9.2,0zM531.9,361.0a4.6,4.6 0 1,0 9.2,0a4.6,4.6 0 1,0 -9.2,0zM607.0,345.8a4.6,4.6 0 1,0 9.2,0a4.6,4.6 0 1,0 -9.2,0zM550.5,360.2a4.6,4.6 0 1,0 9.2,0a4.6,4.6 0 1,0 -9.2,0zM565.7,351.3a4.6,4.6 0 1,0 9.2,0a4.6,4.6 0 1,0 -9.2,0zM607.0,348.2a4.6,4.6 0 1,0 9.2,0a4.6,4.6 0 1,0 -9.2,0zM571.1,364.2a4.6,4.6 0 1,0 9.2,0a4.6,4.6 0 1,0 -9.2,0zM518.8,373.5a4.6,4.6 0 1,0 9.2,0a4.6,4.6 0 1,0 -9.2,0zM567.2,350.5a4.6,4.6 0 1,0 9.2,0a4.6,4.6 0 1,0 -9.2,0zM518.2,338.9a4.6,4.6 0 1,0 9.2,0a4.6,4.6 0 1,0 -9.2,0zM547.5,306.2a4.6,4.6 0 1,0 9.2,0a4.6,4.6 0 1,0 -9.2,0zM558.7,343.2a4.6,4.6 0 1,0 9.2,0a4.6,4.6 0 1,0 -9.2,0zM598.8,352.6a4.6,4.6 0 1,0 9.2,0a4.6,4.6 0 1,0 -9.2,0zM569.8,337.8a4.6,4.6 0 1,0 9.2,0a4.6,4.6 0 1,0 -9.2,0zM541.4,366.9a4.6,4.6 0 1,0 9.2,0a4.6,4.6 0 1,0 -9.2,0zM526.2,301.5a4.6,4.6 0 1,0 9.2,0a4.6,4.6 0 1,0 -9.2,0zM554.6,368.3a4.6,4.6 0 1,0 9.2,0a4.6,4.6 0 1,0 -9.2,0zM502.3,370.6a4.6,4.6 0 1,0 9.2,0a4.6,4.6 0 1,0 -9.2,0zM534.9,293.6a4.6,4.6 0 1,0 9.2,0a4.6,4.6 0 1,0 -9.2,0zM560.8,365.8a4.6,4.6 0 1,0 9.2,0a4.6,4.6 0 1,0 -9.2,0zM535.3,298.8a4.6,4.6 0 1,0 9.2,0a4.6,4.6 0 1,0 -9.2,0zM521.7,333.8a4.6,4.6 0 1,0 9.2,0a4.6,4.6 0 1,0 -9.2,0zM587.9,355.2a4.6,4.6 0 1,0 9.2,0a4.6,4.6 0 1,0 -9.2,0zM564.6,324.4a4.6,4.6 0 1,0 9.2,0a4.6,4.6 0 1,0 -9.2,0zM504.1,336.9a4.6,4.6 0 1,0 9.2,0a4.6,4.6 0 1,0 -9.2,0zM547.7,354.9a4.6,4.6 0 1,0 9.2,0a4.6,4.6 0 1,0 -9.2,0zM507.6,302.1a4.6,4.6 0 1,0 9.2,0a4.6,4.6 0 1,0 -9.2,0zM507.2,339.9a4.6,4.6 0 1,0 9.2,0a4.6,4.6 0 1,0 -9.2,0zM550.6,319.1a4.6,4.6 0 1,0 9.2,0a4.6,4.6 0 1,0 -9.2,0zM293.5,384.2a4.6,4.6 0 1,0 9.2,0a4.6,4.6 0 1,0 -9.2,0zM301.7,379.2a4.6,4.6 0 1,0 9.2,0a4.6,4.6 0 1,0 -9.2,0zM300.6,410.0a4.6,4.6 0 1,0 9.2,0a4.6,4.6 0 1,0 -9.2,0zM278.5,406.7a4.6,4.6 0 1,0 9.2,0a4.6,4.6 0 1,0 -9.2,0zM349.7,359.3a4.6,4.6 0 1,0 9.2,0a4.6,4.6 0 1,0 -9.2,0zM277.7,444.5a4.6,4.6 0 1,0 9.2,0a4.6,4.6 0 1,0 -9.2,0zM332.5,357.2a4.6,4.6 0 1,0 9.2,0a4.6,4.6 0 1,0 -9.2,0zM278.4,429.0a4.6,4.6 0 1,0 9.2,0a4.6,4.6 0 1,0 -9.2,0zM291.5,375.8a4.6,4.6 0 1,0 9.2,0a4.6,4.6 0 1,0 -9.2,0zM285.1,381.3a4.6,4.6 0 1,0 9.2,0a4.6,4.6 0 1,0 -9.2,0zM250.1,416.1a4.6,4.6 0 1,0 9.2,0a4.6,4.6 0 1,0 -9.2,0zM347.4,315.9a4.6,4.6 0 1,0 9.2,0a4.6,4.6 0 1,0 -9.2,0zM364.2,385.8a4.6,4.6 0 1,0 9.2,0a4.6,4.6 0 1,0 -9.2,0zM375.5,383.4a4.6,4.6 0 1,0 9.2,0a4.6,4.6 0 1,0 -9.2,0zM357.4,380.3a4.6,4.6 0 1,0 9.2,0a4.6,4.6 0 1,0 -9.2,0zM330.5,386.9a4.6,4.6 0 1,0 9.2,0a4.6,4.6 0 1,0 -9.2,0zM274.5,373.3a4.6,4.6 0 1,0 9.2,0a4.6,4.6 0 1,0 -9.2,0zM294.7,392.7a4.6,4.6 0 1,0 9.2,0a4.6,4.6 0 1,0 -9.2,0zM337.3,372.4a4.6,4.6 0 1,0 9.2,0a4.6,4.6 0 1,0 -9.2,0zM287.3,388.6a4.6,4.6 0 1,0 9.2,0a4.6,4.6 0 1,0 -9.2,0zM375.5,330.6a4.6,4.6 0 1,0 9.2,0a4.6,4.6 0 1,0 -9.2,0zM352.9,336.4a4.6,4.6 0 1,0 9.2,0a4.6,4.6 0 1,0 -9.2,0zM334.2,351.3a4.6,4.6 0 1,0 9.2,0a4.6,4.6 0 1,0 -9.2,0zM308.7,420.6a4.6,4.6 0 1,0 9.2,0a4.6,4.6 0 1,0 -9.2,0zM272.1,374.7a4.6,4.6 0 1,0 9.2,0a4.6,4.6 0 1,0 -9.2,0zM304.2,436.7a4.6,4.6 0 1,0 9.2,0a4.6,4.6 0 1,0 -9.2,0zM275.3,442.9a4.6,4.6 0 1,0 9.2,0a4.6,4.6 0 1,0 -9.2,0zM369.2,377.2a4.6,4.6 0 1,0 9.2,0a4.6,4.6 0 1,0 -9.2,0zM366.9,344.5a4.6,4.6 0 1,0 9.2,0a4.6,4.6 0 1,0 -9.2,0zM386.4,358.5a4.6,4.6 0 1,0 9.2,0a4.6,4.6 0 1,0 -9.2,0zM313.8,392.0a4.6,4.6 0 1,0 9.2,0a4.6,4.6 0 1,0 -9.2,0zM309.8,400.1a4.6,4.6 0 1,0 9.2,0a4.6,4.6 0 1,0 -9.2,0zM314.3,385.6a4.6,4.6 0 1,0 9.2,0a4.6,4.6 0 1,0 -9.2,0zM252.1,406.3a4.6,4.6 0 1,0 9.2,0a4.6,4.6 0 1,0 -9.2,0zM286.5,381.5a4.6,4.6 0 1,0 9.2,0a4.6,4.6 0 1,0 -9.2,0zM265.6,417.8a4.6,4.6 0 1,0 9.2,0a4.6,4.6 0 1,0 -9.2,0zM299.6,371.1a4.6,4.6 0 1,0 9.2,0a4.6,4.6 0 1,0 -9.2,0zM273.2,380.3a4.6,4.6 0 1,0 9.2,0a4.6,4.6 0 1,0 -9.2,0zM273.0,371.7a4.6,4.6 0 1,0 9.2,0a4.6,4.6 0 1,0 -9.2,0zM373.0,317.3a4.6,4.6 0 1,0 9.2,0a4.6,4.6 0 1,0 -9.2,0zM332.3,335.5a4.6,4.6 0 1,0 9.2,0a4.6,4.6 0 1,0 -9.2,0zM273.1,387.5a4.6,4.6 0 1,0 9.2,0a4.6,4.6 0 1,0 -9.2,0zM315.9,403.8a4.6,4.6 0 1,0 9.2,0a4.6,4.6 0 1,0 -9.2,0zM357.7,388.6a4.6,4.6 0 1,0 9.2,0a4.6,4.6 0 1,0 -9.2,0zM272.5,398.8a4.6,4.6 0 1,0 9.2,0a4.6,4.6 0 1,0 -9.2,0zM291.8,418.3a4.6,4.6 0 1,0 9.2,0a4.6,4.6 0 1,0 -9.2,0zM380.5,336.7a4.6,4.6 0 1,0 9.2,0a4.6,4.6 0 1,0 -9.2,0zM267.7,403.5a4.6,4.6 0 1,0 9.2,0a4.6,4.6 0 1,0 -9.2,0zM351.8,331.2a4.6,4.6 0 1,0 9.2,0a4.6,4.6 0 1,0 -9.2,0zM379.8,347.6a4.6,4.6 0 1,0 9.2,0a4.6,4.6 0 1,0 -9.2,0zM270.3,377.7a4.6,4.6 0 1,0 9.2,0a4.6,4.6 0 1,0 -9.2,0zM262.5,413.2a4.6,4.6 0 1,0 9.2,0a4.6,4.6 0 1,0 -9.2,0zM301.8,423.9a4.6,4.6 0 1,0 9.2,0a4.6,4.6 0 1,0 -9.2,0zM349.6,368.6a4.6,4.6 0 1,0 9.2,0a4.6,4.6 0 1,0 -9.2,0zM300.8,428.4a4.6,4.6 0 1,0 9.2,0a4.6,4.6 0 1,0 -9.2,0zM327.7,374.2a4.6,4.6 0 1,0 9.2,0a4.6,4.6 0 1,0 -9.2,0zM291.7,409.2a4.6,4.6 0 1,0 9.2,0a4.6,4.6 0 1,0 -9.2,0zM301.7,454.5a4.6,4.6 0 1,0 9.2,0a4.6,4.6 0 1,0 -9.2,0zM365.1,379.3a4.6,4.6 0 1,0 9.2,0a4.6,4.6 0 1,0 -9.2,0zM377.3,334.9a4.6,4.6 0 1,0 9.2,0a4.6,4.6 0 1,0 -9.2,0zM382.4,338.5a4.6,4.6 0 1,0 9.2,0a4.6,4.6 0 1,0 -9.2,0zM370.4,342.5a4.6,4.6 0 1,0 9.2,0a4.6,4.6 0 1,0 -9.2,0zM326.0,403.7a4.6,4.6 0 1,0 9.2,0a4.6,4.6 0 1,0 -9.2,0zM383.2,374.2a4.6,4.6 0 1,0 9.2,0a4.6,4.6 0 1,0 -9.2,0zM364.2,321.5a4.6,4.6 0 1,0 9.2,0a4.6,4.6 0 1,0 -9.2,0zM286.5,403.7a4.6,4.6 0 1,0 9.2,0a4.6,4.6 0 1,0 -9.2,0zM326.6,358.2a4.6,4.6 0 1,0 9.2,0a4.6,4.6 0 1,0 -9.2,0zM262.0,376.7a4.6,4.6 0 1,0 9.2,0a4.6,4.6 0 1,0 -9.2,0zM282.0,403.1a4.6,4.6 0 1,0 9.2,0a4.6,4.6 0 1,0 -9.2,0zM331.1,357.5a4.6,4.6 0 1,0 9.2,0a4.6,4.6 0 1,0 -9.2,0zM305.7,419.8a4.6,4.6 0 1,0 9.2,0a4.6,4.6 0 1,0 -9.2,0zM371.7,352.1a4.6,4.6 0 1,0 9.2,0a4.6,4.6 0 1,0 -9.2,0zM285.5,408.9a4.6,4.6 0 1,0 9.2,0a4.6,4.6 0 1,0 -9.2,0zM371.0,372.7a4.6,4.6 0 1,0 9.2,0a4.6,4.6 0 1,0 -9.2,0zM380.5,379.7a4.6,4.6 0 1,0 9.2,0a4.6,4.6 0 1,0 -9.2,0zM363.2,345.9a4.6,4.6 0 1,0 9.2,0a4.6,4.6 0 1,0 -9.2,0zM382.2,383.3a4.6,4.6 0 1,0 9.2,0a4.6,4.6 0 1,0 -9.2,0zM376.8,373.7a4.6,4.6 0 1,0 9.2,0a4.6,4.6 0 1,0 -9.2,0zM351.0,337.0a4.6,4.6 0 1,0 9.2,0a4.6,4.6 0 1,0 -9.2,0zM270.2,420.7a4.6,4.6 0 1,0 9.2,0a4.6,4.6 0 1,0 -9.2,0zM254.9,422.0a4.6,4.6 0 1,0 9.2,0a4.6,4.6 0 1,0 -9.2,0zM313.6,366.2a4.6,4.6 0 1,0 9.2,0a4.6,4.6 0 1,0 -9.2,0zM277.7,375.3a4.6,4.6 0 1,0 9.2,0a4.6,4.6 0 1,0 -9.2,0zM257.8,375.2a4.6,4.6 0 1,0 9.2,0a4.6,4.6 0 1,0 -9.2,0zM311.5,449.5a4.6,4.6 0 1,0 9.2,0a4.6,4.6 0 1,0 -9.2,0zM329.9,358.5a4.6,4.6 0 1,0 9.2,0a4.6,4.6 0 1,0 -9.2,0zM297.3,453.3a4.6,4.6 0 1,0 9.2,0a4.6,4.6 0 1,0 -9.2,0zM382.8,335.6a4.6,4.6 0 1,0 9.2,0a4.6,4.6 0 1,0 -9.2,0zM289.9,428.2a4.6,4.6 0 1,0 9.2,0a4.6,4.6 0 1,0 -9.2,0zM356.2,371.8a4.6,4.6 0 1,0 9.2,0a4.6,4.6 0 1,0 -9.2,0zM289.7,381.1a4.6,4.6 0 1,0 9.2,0a4.6,4.6 0 1,0 -9.2,0zM300.2,373.9a4.6,4.6 0 1,0 9.2,0a4.6,4.6 0 1,0 -9.2,0zM327.1,391.2a4.6,4.6 0 1,0 9.2,0a4.6,4.6 0 1,0 -9.2,0zM286.7,375.5a4.6,4.6 0 1,0 9.2,0a4.6,4.6 0 1,0 -9.2,0zM276.2,374.4a4.6,4.6 0 1,0 9.2,0a4.6,4.6 0 1,0 -9.2,0zM270.5,405.6a4.6,4.6 0 1,0 9.2,0a4.6,4.6 0 1,0 -9.2,0zM271.7,441.3a4.6,4.6 0 1,0 9.2,0a4.6,4.6 0 1,0 -9.2,0zM329.8,401.2a4.6,4.6 0 1,0 9.2,0a4.6,4.6 0 1,0 -9.2,0zM260.4,399.7a4.6,4.6 0 1,0 9.2,0a4.6,4.6 0 1,0 -9.2,0zM371.8,343.4a4.6,4.6 0 1,0 9.2,0a4.6,4.6 0 1,0 -9.2,0zM280.6,381.2a4.6,4.6 0 1,0 9.2,0a4.6,4.6 0 1,0 -9.2,0zM278.2,434.9a4.6,4.6 0 1,0 9.2,0a4.6,4.6 0 1,0 -9.2,0zM248.0,406.3a4.6,4.6 0 1,0 9.2,0a4.6,4.6 0 1,0 -9.2,0zM317.0,420.9a4.6,4.6 0 1,0 9.2,0a4.6,4.6 0 1,0 -9.2,0zM383.0,322.7a4.6,4.6 0 1,0 9.2,0a4.6,4.6 0 1,0 -9.2,0zM292.3,411.2a4.6,4.6 0 1,0 9.2,0a4.6,4.6 0 1,0 -9.2,0zM290.1,376.6a4.6,4.6 0 1,0 9.2,0a4.6,4.6 0 1,0 -9.2,0zM321.7,421.7a4.6,4.6 0 1,0 9.2,0a4.6,4.6 0 1,0 -9.2,0zM272.4,421.0a4.6,4.6 0 1,0 9.2,0a4.6,4.6 0 1,0 -9.2,0zM328.2,391.4a4.6,4.6 0 1,0 9.2,0a4.6,4.6 0 1,0 -9.2,0zM270.4,375.9a4.6,4.6 0 1,0 9.2,0a4.6,4.6 0 1,0 -9.2,0zM357.0,368.6a4.6,4.6 0 1,0 9.2,0a4.6,4.6 0 1,0 -9.2,0zM359.1,322.2a4.6,4.6 0 1,0 9.2,0a4.6,4.6 0 1,0 -9.2,0zM339.0,336.9a4.6,4.6 0 1,0 9.2,0a4.6,4.6 0 1,0 -9.2,0zM298.5,455.0a4.6,4.6 0 1,0 9.2,0a4.6,4.6 0 1,0 -9.2,0zM327.5,393.3a4.6,4.6 0 1,0 9.2,0a4.6,4.6 0 1,0 -9.2,0zM345.8,364.7a4.6,4.6 0 1,0 9.2,0a4.6,4.6 0 1,0 -9.2,0zM256.3,375.2a4.6,4.6 0 1,0 9.2,0a4.6,4.6 0 1,0 -9.2,0zM359.5,377.8a4.6,4.6 0 1,0 9.2,0a4.6,4.6 0 1,0 -9.2,0zM269.2,394.2a4.6,4.6 0 1,0 9.2,0a4.6,4.6 0 1,0 -9.2,0zM250.1,402.2a4.6,4.6 0 1,0 9.2,0a4.6,4.6 0 1,0 -9.2,0zM358.9,323.7a4.6,4.6 0 1,0 9.2,0a4.6,4.6 0 1,0 -9.2,0zM327.9,394.5a4.6,4.6 0 1,0 9.2,0a4.6,4.6 0 1,0 -9.2,0zM375.2,355.4a4.6,4.6 0 1,0 9.2,0a4.6,4.6 0 1,0 -9.2,0zM290.3,437.1a4.6,4.6 0 1,0 9.2,0a4.6,4.6 0 1,0 -9.2,0zM352.2,377.7a4.6,4.6 0 1,0 9.2,0a4.6,4.6 0 1,0 -9.2,0zM280.5,377.5a4.6,4.6 0 1,0 9.2,0a4.6,4.6 0 1,0 -9.2,0zM340.4,361.2a4.6,4.6 0 1,0 9.2,0a4.6,4.6 0 1,0 -9.2,0zM362.2,380.5a4.6,4.6 0 1,0 9.2,0a4.6,4.6 0 1,0 -9.2,0zM276.0,388.4a4.6,4.6 0 1,0 9.2,0a4.6,4.6 0 1,0 -9.2,0zM367.9,366.7a4.6,4.6 0 1,0 9.2,0a4.6,4.6 0 1,0 -9.2,0zM286.8,388.7a4.6,4.6 0 1,0 9.2,0a4.6,4.6 0 1,0 -9.2,0zM346.2,350.5a4.6,4.6 0 1,0 9.2,0a4.6,4.6 0 1,0 -9.2,0zM284.4,390.8a4.6,4.6 0 1,0 9.2,0a4.6,4.6 0 1,0 -9.2,0zM290.9,403.1a4.6,4.6 0 1,0 9.2,0a4.6,4.6 0 1,0 -9.2,0zM258.9,413.9a4.6,4.6 0 1,0 9.2,0a4.6,4.6 0 1,0 -9.2,0zM295.1,391.0a4.6,4.6 0 1,0 9.2,0a4.6,4.6 0 1,0 -9.2,0zM362.4,357.1a4.6,4.6 0 1,0 9.2,0a4.6,4.6 0 1,0 -9.2,0zM268.1,430.6a4.6,4.6 0 1,0 9.2,0a4.6,4.6 0 1,0 -9.2,0zM283.1,445.6a4.6,4.6 0 1,0 9.2,0a4.6,4.6 0 1,0 -9.2,0zM377.4,337.2a4.6,4.6 0 1,0 9.2,0a4.6,4.6 0 1,0 -9.2,0zM260.8,377.6a4.6,4.6 0 1,0 9.2,0a4.6,4.6 0 1,0 -9.2,0zM344.9,359.0a4.6,4.6 0 1,0 9.2,0a4.6,4.6 0 1,0 -9.2,0zM282.2,435.8a4.6,4.6 0 1,0 9.2,0a4.6,4.6 0 1,0 -9.2,0zM294.6,386.9a4.6,4.6 0 1,0 9.2,0a4.6,4.6 0 1,0 -9.2,0zM381.8,360.1a4.6,4.6 0 1,0 9.2,0a4.6,4.6 0 1,0 -9.2,0zM384.1,382.0a4.6,4.6 0 1,0 9.2,0a4.6,4.6 0 1,0 -9.2,0zM334.6,369.5a4.6,4.6 0 1,0 9.2,0a4.6,4.6 0 1,0 -9.2,0zM324.2,357.9a4.6,4.6 0 1,0 9.2,0a4.6,4.6 0 1,0 -9.2,0zM314.2,424.3a4.6,4.6 0 1,0 9.2,0a4.6,4.6 0 1,0 -9.2,0zM283.0,424.9a4.6,4.6 0 1,0 9.2,0a4.6,4.6 0 1,0 -9.2,0zM297.4,416.8a4.6,4.6 0 1,0 9.2,0a4.6,4.6 0 1,0 -9.2,0zM286.0,425.4a4.6,4.6 0 1,0 9.2,0a4.6,4.6 0 1,0 -9.2,0zM336.9,396.5a4.6,4.6 0 1,0 9.2,0a4.6,4.6 0 1,0 -9.2,0zM285.3,406.3a4.6,4.6 0 1,0 9.2,0a4.6,4.6 0 1,0 -9.2,0zM296.3,402.4a4.6,4.6 0 1,0 9.2,0a4.6,4.6 0 1,0 -9.2,0zM353.8,330.4a4.6,4.6 0 1,0 9.2,0a4.6,4.6 0 1,0 -9.2,0zM338.5,332.2a4.6,4.6 0 1,0 9.2,0a4.6,4.6 0 1,0 -9.2,0zM343.8,365.0a4.6,4.6 0 1,0 9.2,0a4.6,4.6 0 1,0 -9.2,0zM291.7,419.8a4.6,4.6 0 1,0 9.2,0a4.6,4.6 0 1,0 -9.2,0zM365.8,330.8a4.6,4.6 0 1,0 9.2,0a4.6,4.6 0 1,0 -9.2,0zM279.1,441.7a4.6,4.6 0 1,0 9.2,0a4.6,4.6 0 1,0 -9.2,0zM354.5,345.8a4.6,4.6 0 1,0 9.2,0a4.6,4.6 0 1,0 -9.2,0zM282.2,437.9a4.6,4.6 0 1,0 9.2,0a4.6,4.6 0 1,0 -9.2,0zM256.0,394.9a4.6,4.6 0 1,0 9.2,0a4.6,4.6 0 1,0 -9.2,0zM258.6,394.3a4.6,4.6 0 1,0 9.2,0a4.6,4.6 0 1,0 -9.2,0zM337.4,345.9a4.6,4.6 0 1,0 9.2,0a4.6,4.6 0 1,0 -9.2,0zM346.1,321.8a4.6,4.6 0 1,0 9.2,0a4.6,4.6 0 1,0 -9.2,0zM330.7,344.7a4.6,4.6 0 1,0 9.2,0a4.6,4.6 0 1,0 -9.2,0zM332.6,349.2a4.6,4.6 0 1,0 9.2,0a4.6,4.6 0 1,0 -9.2,0zM315.4,411.4a4.6,4.6 0 1,0 9.2,0a4.6,4.6 0 1,0 -9.2,0zM352.7,355.2a4.6,4.6 0 1,0 9.2,0a4.6,4.6 0 1,0 -9.2,0zM343.9,339.7a4.6,4.6 0 1,0 9.2,0a4.6,4.6 0 1,0 -9.2,0zM318.5,360.7a4.6,4.6 0 1,0 9.2,0a4.6,4.6 0 1,0 -9.2,0zM260.1,389.9a4.6,4.6 0 1,0 9.2,0a4.6,4.6 0 1,0 -9.2,0zM256.4,381.9a4.6,4.6 0 1,0 9.2,0a4.6,4.6 0 1,0 -9.2,0zM301.9,367.1a4.6,4.6 0 1,0 9.2,0a4.6,4.6 0 1,0 -9.2,0zM279.6,409.9a4.6,4.6 0 1,0 9.2,0a4.6,4.6 0 1,0 -9.2,0zM265.1,384.1a4.6,4.6 0 1,0 9.2,0a4.6,4.6 0 1,0 -9.2,0zM351.2,389.2a4.6,4.6 0 1,0 9.2,0a4.6,4.6 0 1,0 -9.2,0zM325.7,384.3a4.6,4.6 0 1,0 9.2,0a4.6,4.6 0 1,0 -9.2,0zM370.1,378.3a4.6,4.6 0 1,0 9.2,0a4.6,4.6 0 1,0 -9.2,0zM371.3,355.3a4.6,4.6 0 1,0 9.2,0a4.6,4.6 0 1,0 -9.2,0zM277.8,440.3a4.6,4.6 0 1,0 9.2,0a4.6,4.6 0 1,0 -9.2,0zM255.3,387.6a4.6,4.6 0 1,0 9.2,0a4.6,4.6 0 1,0 -9.2,0zM377.0,367.2a4.6,4.6 0 1,0 9.2,0a4.6,4.6 0 1,0 -9.2,0zM319.5,364.4a4.6,4.6 0 1,0 9.2,0a4.6,4.6 0 1,0 -9.2,0zM326.9,355.4a4.6,4.6 0 1,0 9.2,0a4.6,4.6 0 1,0 -9.2,0zM362.2,345.5a4.6,4.6 0 1,0 9.2,0a4.6,4.6 0 1,0 -9.2,0zM379.2,335.5a4.6,4.6 0 1,0 9.2,0a4.6,4.6 0 1,0 -9.2,0zM290.3,444.3a4.6,4.6 0 1,0 9.2,0a4.6,4.6 0 1,0 -9.2,0zM260.1,421.7a4.6,4.6 0 1,0 9.2,0a4.6,4.6 0 1,0 -9.2,0zM284.3,382.3a4.6,4.6 0 1,0 9.2,0a4.6,4.6 0 1,0 -9.2,0zM313.6,447.8a4.6,4.6 0 1,0 9.2,0a4.6,4.6 0 1,0 -9.2,0zM271.0,417.1a4.6,4.6 0 1,0 9.2,0a4.6,4.6 0 1,0 -9.2,0zM276.7,406.3a4.6,4.6 0 1,0 9.2,0a4.6,4.6 0 1,0 -9.2,0zM316.3,412.1a4.6,4.6 0 1,0 9.2,0a4.6,4.6 0 1,0 -9.2,0zM305.0,446.5a4.6,4.6 0 1,0 9.2,0a4.6,4.6 0 1,0 -9.2,0zM276.9,442.8a4.6,4.6 0 1,0 9.2,0a4.6,4.6 0 1,0 -9.2,0zM314.9,420.1a4.6,4.6 0 1,0 9.2,0a4.6,4.6 0 1,0 -9.2,0zM291.8,420.2a4.6,4.6 0 1,0 9.2,0a4.6,4.6 0 1,0 -9.2,0zM330.0,397.6a4.6,4.6 0 1,0 9.2,0a4.6,4.6 0 1,0 -9.2,0zM309.4,364.2a4.6,4.6 0 1,0 9.2,0a4.6,4.6 0 1,0 -9.2,0zM295.5,366.2a4.6,4.6 0 1,0 9.2,0a4.6,4.6 0 1,0 -9.2,0zM371.1,384.3a4.6,4.6 0 1,0 9.2,0a4.6,4.6 0 1,0 -9.2,0zM337.1,356.1a4.6,4.6 0 1,0 9.2,0a4.6,4.6 0 1,0 -9.2,0zM361.0,336.4a4.6,4.6 0 1,0 9.2,0a4.6,4.6 0 1,0 -9.2,0zM349.6,323.4a4.6,4.6 0 1,0 9.2,0a4.6,4.6 0 1,0 -9.2,0zM378.5,349.3a4.6,4.6 0 1,0 9.2,0a4.6,4.6 0 1,0 -9.2,0zM335.9,334.4a4.6,4.6 0 1,0 9.2,0a4.6,4.6 0 1,0 -9.2,0zM330.7,354.6a4.6,4.6 0 1,0 9.2,0a4.6,4.6 0 1,0 -9.2,0zM293.1,416.2a4.6,4.6 0 1,0 9.2,0a4.6,4.6 0 1,0 -9.2,0zM379.7,328.3a4.6,4.6 0 1,0 9.2,0a4.6,4.6 0 1,0 -9.2,0zM330.2,375.2a4.6,4.6 0 1,0 9.2,0a4.6,4.6 0 1,0 -9.2,0zM319.5,421.6a4.6,4.6 0 1,0 9.2,0a4.6,4.6 0 1,0 -9.2,0zM279.2,378.3a4.6,4.6 0 1,0 9.2,0a4.6,4.6 0 1,0 -9.2,0zM288.1,377.8a4.6,4.6 0 1,0 9.2,0a4.6,4.6 0 1,0 -9.2,0zM333.0,375.8a4.6,4.6 0 1,0 9.2,0a4.6,4.6 0 1,0 -9.2,0zM341.0,371.0a4.6,4.6 0 1,0 9.2,0a4.6,4.6 0 1,0 -9.2,0zM283.5,397.0a4.6,4.6 0 1,0 9.2,0a4.6,4.6 0 1,0 -9.2,0zM334.3,385.6a4.6,4.6 0 1,0 9.2,0a4.6,4.6 0 1,0 -9.2,0zM386.3,341.5a4.6,4.6 0 1,0 9.2,0a4.6,4.6 0 1,0 -9.2,0zM280.4,421.9a4.6,4.6 0 1,0 9.2,0a4.6,4.6 0 1,0 -9.2,0zM330.4,389.9a4.6,4.6 0 1,0 9.2,0a4.6,4.6 0 1,0 -9.2,0zM252.8,383.6a4.6,4.6 0 1,0 9.2,0a4.6,4.6 0 1,0 -9.2,0zM291.4,423.2a4.6,4.6 0 1,0 9.2,0a4.6,4.6 0 1,0 -9.2,0zM361.5,369.5a4.6,4.6 0 1,0 9.2,0a4.6,4.6 0 1,0 -9.2,0zM302.0,409.9a4.6,4.6 0 1,0 9.2,0a4.6,4.6 0 1,0 -9.2,0zM267.4,381.9a4.6,4.6 0 1,0 9.2,0a4.6,4.6 0 1,0 -9.2,0zM276.9,397.0a4.6,4.6 0 1,0 9.2,0a4.6,4.6 0 1,0 -9.2,0zM263.5,411.2a4.6,4.6 0 1,0 9.2,0a4.6,4.6 0 1,0 -9.2,0zM375.2,353.7a4.6,4.6 0 1,0 9.2,0a4.6,4.6 0 1,0 -9.2,0zM304.9,408.8a4.6,4.6 0 1,0 9.2,0a4.6,4.6 0 1,0 -9.2,0zM378.4,335.8a4.6,4.6 0 1,0 9.2,0a4.6,4.6 0 1,0 -9.2,0zM284.4,374.7a4.6,4.6 0 1,0 9.2,0a4.6,4.6 0 1,0 -9.2,0zM317.4,381.9a4.6,4.6 0 1,0 9.2,0a4.6,4.6 0 1,0 -9.2,0zM285.4,442.1a4.6,4.6 0 1,0 9.2,0a4.6,4.6 0 1,0 -9.2,0zM267.0,427.9a4.6,4.6 0 1,0 9.2,0a4.6,4.6 0 1,0 -9.2,0zM343.7,318.4a4.6,4.6 0 1,0 9.2,0a4.6,4.6 0 1,0 -9.2,0zM297.8,447.7a4.6,4.6 0 1,0 9.2,0a4.6,4.6 0 1,0 -9.2,0zM355.5,337.8a4.6,4.6 0 1,0 9.2,0a4.6,4.6 0 1,0 -9.2,0zM318.3,423.3a4.6,4.6 0 1,0 9.2,0a4.6,4.6 0 1,0 -9.2,0zM336.1,377.1a4.6,4.6 0 1,0 9.2,0a4.6,4.6 0 1,0 -9.2,0zM316.0,398.7a4.6,4.6 0 1,0 9.2,0a4.6,4.6 0 1,0 -9.2,0zM321.4,386.3a4.6,4.6 0 1,0 9.2,0a4.6,4.6 0 1,0 -9.2,0zM328.3,387.5a4.6,4.6 0 1,0 9.2,0a4.6,4.6 0 1,0 -9.2,0zM253.2,390.9a4.6,4.6 0 1,0 9.2,0a4.6,4.6 0 1,0 -9.2,0zM382.0,345.0a4.6,4.6 0 1,0 9.2,0a4.6,4.6 0 1,0 -9.2,0zM369.2,343.1a4.6,4.6 0 1,0 9.2,0a4.6,4.6 0 1,0 -9.2,0zM325.9,348.9a4.6,4.6 0 1,0 9.2,0a4.6,4.6 0 1,0 -9.2,0zM357.6,352.6a4.6,4.6 0 1,0 9.2,0a4.6,4.6 0 1,0 -9.2,0zM277.2,392.8a4.6,4.6 0 1,0 9.2,0a4.6,4.6 0 1,0 -9.2,0zM302.9,393.0a4.6,4.6 0 1,0 9.2,0a4.6,4.6 0 1,0 -9.2,0zM325.5,386.4a4.6,4.6 0 1,0 9.2,0a4.6,4.6 0 1,0 -9.2,0zM259.4,385.7a4.6,4.6 0 1,0 9.2,0a4.6,4.6 0 1,0 -9.2,0zM292.8,387.1a4.6,4.6 0 1,0 9.2,0a4.6,4.6 0 1,0 -9.2,0zM596.3,302.9a4.6,4.6 0 1,0 9.2,0a4.6,4.6 0 1,0 -9.2,0zM605.5,265.8a4.6,4.6 0 1,0 9.2,0a4.6,4.6 0 1,0 -9.2,0zM614.8,289.5a4.6,4.6 0 1,0 9.2,0a4.6,4.6 0 1,0 -9.2,0zM614.2,286.7a4.6,4.6 0 1,0 9.2,0a4.6,4.6 0 1,0 -9.2,0zM601.3,270.3a4.6,4.6 0 1,0 9.2,0a4.6,4.6 0 1,0 -9.2,0zM626.9,276.0a4.6,4.6 0 1,0 9.2,0a4.6,4.6 0 1,0 -9.2,0zM625.9,313.0a4.6,4.6 0 1,0 9.2,0a4.6,4.6 0 1,0 -9.2,0zM599.5,269.0a4.6,4.6 0 1,0 9.2,0a4.6,4.6 0 1,0 -9.2,0zM629.5,296.0a4.6,4.6 0 1,0 9.2,0a4.6,4.6 0 1,0 -9.2,0zM597.5,304.2a4.6,4.6 0 1,0 9.2,0a4.6,4.6 0 1,0 -9.2,0zM637.8,316.9a4.6,4.6 0 1,0 9.2,0a4.6,4.6 0 1,0 -9.2,0zM598.4,273.9a4.6,4.6 0 1,0 9.2,0a4.6,4.6 0 1,0 -9.2,0zM598.6,308.2a4.6,4.6 0 1,0 9.2,0a4.6,4.6 0 1,0 -9.2,0zM617.7,297.5a4.6,4.6 0 1,0 9.2,0a4.6,4.6 0 1,0 -9.2,0zM617.0,316.0a4.6,4.6 0 1,0 9.2,0a4.6,4.6 0 1,0 -9.2,0zM621.4,274.3a4.6,4.6 0 1,0 9.2,0a4.6,4.6 0 1,0 -9.2,0zM592.3,288.2a4.6,4.6 0 1,0 9.2,0a4.6,4.6 0 1,0 -9.2,0zM626.4,300.5a4.6,4.6 0 1,0 9.2,0a4.6,4.6 0 1,0 -9.2,0zM595.0,266.5a4.6,4.6 0 1,0 9.2,0a4.6,4.6 0 1,0 -9.2,0zM626.6,285.0a4.6,4.6 0 1,0 9.2,0a4.6,4.6 0 1,0 -9.2,0zM609.8,288.4a4.6,4.6 0 1,0 9.2,0a4.6,4.6 0 1,0 -9.2,0zM591.5,306.4a4.6,4.6 0 1,0 9.2,0a4.6,4.6 0 1,0 -9.2,0zM620.7,292.7a4.6,4.6 0 1,0 9.2,0a4.6,4.6 0 1,0 -9.2,0zM605.8,314.9a4.6,4.6 0 1,0 9.2,0a4.6,4.6 0 1,0 -9.2,0zM634.8,293.6a4.6,4.6 0 1,0 9.2,0a4.6,4.6 0 1,0 -9.2,0zM590.7,261.8a4.6,4.6 0 1,0 9.2,0a4.6,4.6 0 1,0 -9.2,0zM624.3,293.5a4.6,4.6 0 1,0 9.2,0a4.6,4.6 0 1,0 -9.2,0zM623.2,313.4a4.6,4.6 0 1,0 9.2,0a4.6,4.6 0 1,0 -9.2,0zM634.5,304.5a4.6,4.6 0 1,0 9.2,0a4.6,4.6 0 1,0 -9.2,0zM593.4,305.1a4.6,4.6 0 1,0 9.2,0a4.6,4.6 0 1,0 -9.2,0zM638.5,288.3a4.6,4.6 0 1,0 9.2,0a4.6,4.6 0 1,0 -9.2,0zM634.4,264.5a4.6,4.6 0 1,0 9.2,0a4.6,4.6 0 1,0 -9.2,0zM610.4,271.7a4.6,4.6 0 1,0 9.2,0a4.6,4.6 0 1,0 -9.2,0zM609.2,306.2a4.6,4.6 0 1,0 9.2,0a4.6,4.6 0 1,0 -9.2,0zM594.0,277.1a4.6,4.6 0 1,0 9.2,0a4.6,4.6 0 1,0 -9.2,0zM636.2,274.1a4.6,4.6 0 1,0 9.2,0a4.6,4.6 0 1,0 -9.2,0zM619.7,261.7a4.6,4.6 0 1,0 9.2,0a4.6,4.6 0 1,0 -9.2,0zM595.2,309.1a4.6,4.6 0 1,0 9.2,0a4.6,4.6 0 1,0 -9.2,0zM624.5,284.1a4.6,4.6 0 1,0 9.2,0a4.6,4.6 0 1,0 -9.2,0zM616.3,294.7a4.6,4.6 0 1,0 9.2,0a4.6,4.6 0 1,0 -9.2,0zM612.9,258.1a4.6,4.6 0 1,0 9.2,0a4.6,4.6 0 1,0 -9.2,0zM631.5,311.6a4.6,4.6 0 1,0 9.2,0a4.6,4.6 0 1,0 -9.2,0zM610.7,282.3a4.6,4.6 0 1,0 9.2,0a4.6,4.6 0 1,0 -9.2,0zM622.0,287.8a4.6,4.6 0 1,0 9.2,0a4.6,4.6 0 1,0 -9.2,0zM610.3,320.1a4.6,4.6 0 1,0 9.2,0a4.6,4.6 0 1,0 -9.2,0zM595.7,312.8a4.6,4.6 0 1,0 9.2,0a4.6,4.6 0 1,0 -9.2,0zM603.2,254.7a4.6,4.6 0 1,0 9.2,0a4.6,4.6 0 1,0 -9.2,0zM630.9,308.9a4.6,4.6 0 1,0 9.2,0a4.6,4.6 0 1,0 -9.2,0zM643.8,291.9a4.6,4.6 0 1,0 9.2,0a4.6,4.6 0 1,0 -9.2,0zM627.3,313.7a4.6,4.6 0 1,0 9.2,0a4.6,4.6 0 1,0 -9.2,0zM593.2,274.0a4.6,4.6 0 1,0 9.2,0a4.6,4.6 0 1,0 -9.2,0zM620.6,255.2a4.6,4.6 0 1,0 9.2,0a4.6,4.6 0 1,0 -9.2,0zM605.1,298.2a4.6,4.6 0 1,0 9.2,0a4.6,4.6 0 1,0 -9.2,0zM641.6,307.5a4.6,4.6 0 1,0 9.2,0a4.6,4.6 0 1,0 -9.2,0zM609.2,282.6a4.6,4.6 0 1,0 9.2,0a4.6,4.6 0 1,0 -9.2,0zM616.2,309.3a4.6,4.6 0 1,0 9.2,0a4.6,4.6 0 1,0 -9.2,0zM640.9,314.2a4.6,4.6 0 1,0 9.2,0a4.6,4.6 0 1,0 -9.2,0zM588.1,270.5a4.6,4.6 0 1,0 9.2,0a4.6,4.6 0 1,0 -9.2,0zM601.8,267.2a4.6,4.6 0 1,0 9.2,0a4.6,4.6 0 1,0 -9.2,0zM595.1,260.9a4.6,4.6 0 1,0 9.2,0a4.6,4.6 0 1,0 -9.2,0zM626.0,285.0a4.6,4.6 0 1,0 9.2,0a4.6,4.6 0 1,0 -9.2,0zM635.5,270.8a4.6,4.6 0 1,0 9.2,0a4.6,4.6 0 1,0 -9.2,0zM635.2,312.1a4.6,4.6 0 1,0 9.2,0a4.6,4.6 0 1,0 -9.2,0zM617.2,257.0a4.6,4.6 0 1,0 9.2,0a4.6,4.6 0 1,0 -9.2,0zM627.9,320.0a4.6,4.6 0 1,0 9.2,0a4.6,4.6 0 1,0 -9.2,0zM591.0,279.1a4.6,4.6 0 1,0 9.2,0a4.6,4.6 0 1,0 -9.2,0zM617.7,301.1a4.6,4.6 0 1,0 9.2,0a4.6,4.6 0 1,0 -9.2,0zM617.2,322.6a4.6,4.6 0 1,0 9.2,0a4.6,4.6 0 1,0 -9.2,0zM631.9,318.7a4.6,4.6 0 1,0 9.2,0a4.6,4.6 0 1,0 -9.2,0zM626.0,286.4a4.6,4.6 0 1,0 9.2,0a4.6,4.6 0 1,0 -9.2,0zM609.2,310.1a4.6,4.6 0 1,0 9.2,0a4.6,4.6 0 1,0 -9.2,0zM628.2,296.2a4.6,4.6 0 1,0 9.2,0a4.6,4.6 0 1,0 -9.2,0zM602.2,269.7a4.6,4.6 0 1,0 9.2,0a4.6,4.6 0 1,0 -9.2,0zM593.8,301.6a4.6,4.6 0 1,0 9.2,0a4.6,4.6 0 1,0 -9.2,0zM628.4,285.7a4.6,4.6 0 1,0 9.2,0a4.6,4.6 0 1,0 -9.2,0zM586.4,284.0a4.6,4.6 0 1,0 9.2,0a4.6,4.6 0 1,0 -9.2,0zM640.9,290.9a4.6,4.6 0 1,0 9.2,0a4.6,4.6 0 1,0 -9.2,0zM601.5,260.9a4.6,4.6 0 1,0 9.2,0a4.6,4.6 0 1,0 -9.2,0zM615.4,269.4a4.6,4.6 0 1,0 9.2,0a4.6,4.6 0 1,0 -9.2,0zM601.9,254.9a4.6,4.6 0 1,0 9.2,0a4.6,4.6 0 1,0 -9.2,0zM621.8,313.5a4.6,4.6 0 1,0 9.2,0a4.6,4.6 0 1,0 -9.2,0zM615.8,299.0a4.6,4.6 0 1,0 9.2,0a4.6,4.6 0 1,0 -9.2,0zM637.6,295.5a4.6,4.6 0 1,0 9.2,0a4.6,4.6 0 1,0 -9.2,0zM598.4,263.4a4.6,4.6 0 1,0 9.2,0a4.6,4.6 0 1,0 -9.2,0zM599.6,283.0a4.6,4.6 0 1,0 9.2,0a4.6,4.6 0 1,0 -9.2,0zM635.1,319.4a4.6,4.6 0 1,0 9.2,0a4.6,4.6 0 1,0 -9.2,0zM587.2,293.6a4.6,4.6 0 1,0 9.2,0a4.6,4.6 0 1,0 -9.2,0zM600.3,256.7a4.6,4.6 0 1,0 9.2,0a4.6,4.6 0 1,0 -9.2,0zM627.0,288.9a4.6,4.6 0 1,0 9.2,0a4.6,4.6 0 1,0 -9.2,0zM597.9,310.8a4.6,4.6 0 1,0 9.2,0a4.6,4.6 0 1,0 -9.2,0zM604.8,271.1a4.6,4.6 0 1,0 9.2,0a4.6,4.6 0 1,0 -9.2,0zM603.3,265.7a4.6,4.6 0 1,0 9.2,0a4.6,4.6 0 1,0 -9.2,0zM636.0,276.4a4.6,4.6 0 1,0 9.2,0a4.6,4.6 0 1,0 -9.2,0zM641.3,305.0a4.6,4.6 0 1,0 9.2,0a4.6,4.6 0 1,0 -9.2,0zM617.7,321.6a4.6,4.6 0 1,0 9.2,0a4.6,4.6 0 1,0 -9.2,0zM607.8,252.8a4.6,4.6 0 1,0 9.2,0a4.6,4.6 0 1,0 -9.2,0zM608.9,257.2a4.6,4.6 0 1,0 9.2,0a4.6,4.6 0 1,0 -9.2,0zM643.4,288.2a4.6,4.6 0 1,0 9.2,0a4.6,4.6 0 1,0 -9.2,0zM383.9,219.4a4.6,4.6 0 1,0 9.2,0a4.6,4.6 0 1,0 -9.2,0zM431.1,240.1a4.6,4.6 0 1,0 9.2,0a4.6,4.6 0 1,0 -9.2,0zM314.1,206.2a4.6,4.6 0 1,0 9.2,0a4.6,4.6 0 1,0 -9.2,0zM424.6,239.5a4.6,4.6 0 1,0 9.2,0a4.6,4.6 0 1,0 -9.2,0zM442.7,255.8a4.6,4.6 0 1,0 9.2,0a4.6,4.6 0 1,0 -9.2,0zM393.6,242.0a4.6,4.6 0 1,0 9.2,0a4.6,4.6 0 1,0 -9.2,0zM387.2,205.7a4.6,4.6 0 1,0 9.2,0a4.6,4.6 0 1,0 -9.2,0zM361.7,226.8a4.6,4.6 0 1,0 9.2,0a4.6,4.6 0 1,0 -9.2,0zM388.4,234.9a4.6,4.6 0 1,0 9.2,0a4.6,4.6 0 1,0 -9.2,0zM332.5,198.2a4.6,4.6 0 1,0 9.2,0a4.6,4.6 0 1,0 -9.2,0zM362.5,219.7a4.6,4.6 0 1,0 9.2,0a4.6,4.6 0 1,0 -9.2,0zM383.1,207.1a4.6,4.6 0 1,0 9.2,0a4.6,4.6 0 1,0 -9.2,0zM423.9,232.4a4.6,4.6 0 1,0 9.2,0a4.6,4.6 0 1,0 -9.2,0zM382.3,220.1a4.6,4.6 0 1,0 9.2,0a4.6,4.6 0 1,0 -9.2,0zM411.2,259.7a4.6,4.6 0 1,0 9.2,0a4.6,4.6 0 1,0 -9.2,0zM380.5,218.9a4.6,4.6 0 1,0 9.2,0a4.6,4.6 0 1,0 -9.2,0zM339.5,212.9a4.6,4.6 0 1,0 9.2,0a4.6,4.6 0 1,0 -9.2,0zM322.6,200.0a4.6,4.6 0 1,0 9.2,0a4.6,4.6 0 1,0 -9.2,0zM294.8,211.7a4.6,4.6 0 1,0 9.2,0a4.6,4.6 0 1,0 -9.2,0zM307.1,198.3a4.6,4.6 0 1,0 9.2,0a4.6,4.6 0 1,0 -9.2,0zM346.7,207.7a4.6,4.6 0 1,0 9.2,0a4.6,4.6 0 1,0 -9.2,0zM440.0,260.9a4.6,4.6 0 1,0 9.2,0a4.6,4.6 0 1,0 -9.2,0zM292.1,231.6a4.6,4.6 0 1,0 9.2,0a4.6,4.6 0 1,0 -9.2,0zM397.6,229.5a4.6,4.6 0 1,0 9.2,0a4.6,4.6 0 1,0 -9.2,0zM301.4,209.6a4.6,4.6 0 1,0 9.2,0a4.6,4.6 0 1,0 -9.2,0zM305.0,195.5a4.6,4.6 0 1,0 9.2,0a4.6,4.6 0 1,0 -9.2,0zM386.9,203.4a4.6,4.6 0 1,0 9.2,0a4.6,4.6 0 1,0 -9.2,0zM432.7,244.9a4.6,4.6 0 1,0 9.2,0a4.6,4.6 0 1,0 -9.2,0zM350.2,192.5a4.6,4.6 0 1,0 9.2,0a4.6,4.6 0 1,0 -9.2,0zM360.0,201.9a4.6,4.6 0 1,0 9.2,0a4.6,4.6 0 1,0 -9.2,0zM433.5,236.9a4.6,4.6 0 1,0 9.2,0a4.6,4.6 0 1,0 -9.2,0zM355.5,206.0a4.6,4.6 0 1,0 9.2,0a4.6,4.6 0 1,0 -9.2,0zM307.3,203.5a4.6,4.6 0 1,0 9.2,0a4.6,4.6 0 1,0 -9.2,0zM422.3,233.3a4.6,4.6 0 1,0 9.2,0a4.6,4.6 0 1,0 -9.2,0zM406.5,222.9a4.6,4.6 0 1,0 9.2,0a4.6,4.6 0 1,0 -9.2,0zM384.8,206.6a4.6,4.6 0 1,0 9.2,0a4.6,4.6 0 1,0 -9.2,0zM328.2,210.1a4.6,4.6 0 1,0 9.2,0a4.6,4.6 0 1,0 -9.2,0zM281.7,237.4a4.6,4.6 0 1,0 9.2,0a4.6,4.6 0 1,0 -9.2,0zM427.7,240.9a4.6,4.6 0 1,0 9.2,0a4.6,4.6 0 1,0 -9.2,0zM443.5,251.8a4.6,4.6 0 1,0 9.2,0a4.6,4.6 0 1,0 -9.2,0zM435.2,258.1a4.6,4.6 0 1,0 9.2,0a4.6,4.6 0 1,0 -9.2,0zM384.1,217.3a4.6,4.6 0 1,0 9.2,0a4.6,4.6 0 1,0 -9.2,0zM308.1,210.3a4.6,4.6 0 1,0 9.2,0a4.6,4.6 0 1,0 -9.2,0zM315.2,198.8a4.6,4.6 0 1,0 9.2,0a4.6,4.6 0 1,0 -9.2,0zM341.7,218.2a4.6,4.6 0 1,0 9.2,0a4.6,4.6 0 1,0 -9.2,0zM286.4,230.5a4.6,4.6 0 1,0 9.2,0a4.6,4.6 0 1,0 -9.2,0zM335.4,220.1a4.6,4.6 0 1,0 9.2,0a4.6,4.6 0 1,0 -9.2,0zM355.8,208.5a4.6,4.6 0 1,0 9.2,0a4.6,4.6 0 1,0 -9.2,0zM314.0,201.8a4.6,4.6 0 1,0 9.2,0a4.6,4.6 0 1,0 -9.2,0zM353.8,195.9a4.6,4.6 0 1,0 9.2,0a4.6,4.6 0 1,0 -9.2,0zM437.9,239.5a4.6,4.6 0 1,0 9.2,0a4.6,4.6 0 1,0 -9.2,0zM260.4,248.3a4.6,4.6 0 1,0 9.2,0a4.6,4.6 0 1,0 -9.2,0zM395.6,311.9a4.6,4.6 0 1,0 9.2,0a4.6,4.6 0 1,0 -9.2,0zM444.3,320.2a4.6,4.6 0 1,0 9.2,0a4.6,4.6 0 1,0 -9.2,0zM447.9,311.8a4.6,4.6 0 1,0 9.2,0a4.6,4.6 0 1,0 -9.2,0zM444.8,312.2a4.6,4.6 0 1,0 9.2,0a4.6,4.6 0 1,0 -9.2,0zM368.2,323.7a4.6,4.6 0 1,0 9.2,0a4.6,4.6 0 1,0 -9.2,0zM371.1,306.9a4.6,4.6 0 1,0 9.2,0a4.6,4.6 0 1,0 -9.2,0zM401.1,304.0a4.6,4.6 0 1,0 9.2,0a4.6,4.6 0 1,0 -9.2,0zM383.5,300.8a4.6,4.6 0 1,0 9.2,0a4.6,4.6 0 1,0 -9.2,0zM458.5,301.2a4.6,4.6 0 1,0 9.2,0a4.6,4.6 0 1,0 -9.2,0zM383.1,300.9a4.6,4.6 0 1,0 9.2,0a4.6,4.6 0 1,0 -9.2,0zM465.4,318.7a4.6,4.6 0 1,0 9.2,0a4.6,4.6 0 1,0 -9.2,0zM419.9,313.0a4.6,4.6 0 1,0 9.2,0a4.6,4.6 0 1,0 -9.2,0zM408.2,308.1a4.6,4.6 0 1,0 9.2,0a4.6,4.6 0 1,0 -9.2,0zM463.2,329.5a4.6,4.6 0 1,0 9.2,0a4.6,4.6 0 1,0 -9.2,0zM439.2,318.8a4.6,4.6 0 1,0 9.2,0a4.6,4.6 0 1,0 -9.2,0zM376.2,312.3a4.6,4.6 0 1,0 9.2,0a4.6,4.6 0 1,0 -9.2,0zM459.2,314.8a4.6,4.6 0 1,0 9.2,0a4.6,4.6 0 1,0 -9.2,0zM440.3,307.9a4.6,4.6 0 1,0 9.2,0a4.6,4.6 0 1,0 -9.2,0zM429.5,306.3a4.6,4.6 0 1,0 9.2,0a4.6,4.6 0 1,0 -9.2,0zM367.4,323.3a4.6,4.6 0 1,0 9.2,0a4.6,4.6 0 1,0 -9.2,0zM384.7,302.9a4.6,4.6 0 1,0 9.2,0a4.6,4.6 0 1,0 -9.2,0zM463.6,321.4a4.6,4.6 0 1,0 9.2,0a4.6,4.6 0 1,0 -9.2,0zM366.6,315.7a4.6,4.6 0 1,0 9.2,0a4.6,4.6 0 1,0 -9.2,0zM456.6,304.3a4.6,4.6 0 1,0 9.2,0a4.6,4.6 0 1,0 -9.2,0zM448.2,309.1a4.6,4.6 0 1,0 9.2,0a4.6,4.6 0 1,0 -9.2,0zM414.0,313.0a4.6,4.6 0 1,0 9.2,0a4.6,4.6 0 1,0 -9.2,0zM371.3,312.8a4.6,4.6 0 1,0 9.2,0a4.6,4.6 0 1,0 -9.2,0zM422.8,321.5a4.6,4.6 0 1,0 9.2,0a4.6,4.6 0 1,0 -9.2,0zM424.8,304.4a4.6,4.6 0 1,0 9.2,0a4.6,4.6 0 1,0 -9.2,0zM432.0,309.0a4.6,4.6 0 1,0 9.2,0a4.6,4.6 0 1,0 -9.2,0zM464.4,301.7a4.6,4.6 0 1,0 9.2,0a4.6,4.6 0 1,0 -9.2,0zM450.8,301.2a4.6,4.6 0 1,0 9.2,0a4.6,4.6 0 1,0 -9.2,0zM427.3,311.3a4.6,4.6 0 1,0 9.2,0a4.6,4.6 0 1,0 -9.2,0zM462.6,322.8a4.6,4.6 0 1,0 9.2,0a4.6,4.6 0 1,0 -9.2,0zM376.7,324.5a4.6,4.6 0 1,0 9.2,0a4.6,4.6 0 1,0 -9.2,0zM454.5,312.1a4.6,4.6 0 1,0 9.2,0a4.6,4.6 0 1,0 -9.2,0zM462.0,304.2a4.6,4.6 0 1,0 9.2,0a4.6,4.6 0 1,0 -9.2,0zM415.5,307.2a4.6,4.6 0 1,0 9.2,0a4.6,4.6 0 1,0 -9.2,0zM456.0,309.6a4.6,4.6 0 1,0 9.2,0a4.6,4.6 0 1,0 -9.2,0zM410.7,315.6a4.6,4.6 0 1,0 9.2,0a4.6,4.6 0 1,0 -9.2,0zM442.6,304.8a4.6,4.6 0 1,0 9.2,0a4.6,4.6 0 1,0 -9.2,0zM454.5,324.2a4.6,4.6 0 1,0 9.2,0a4.6,4.6 0 1,0 -9.2,0zM461.9,301.7a4.6,4.6 0 1,0 9.2,0a4.6,4.6 0 1,0 -9.2,0zM471.1,317.8a4.6,4.6 0 1,0 9.2,0a4.6,4.6 0 1,0 -9.2,0zM400.4,305.0a4.6,4.6 0 1,0 9.2,0a4.6,4.6 0 1,0 -9.2,0zM407.4,303.0a4.6,4.6 0 1,0 9.2,0a4.6,4.6 0 1,0 -9.2,0zM415.4,306.0a4.6,4.6 0 1,0 9.2,0a4.6,4.6 0 1,0 -9.2,0zM403.4,312.0a4.6,4.6 0 1,0 9.2,0a4.6,4.6 0 1,0 -9.2,0zM411.4,314.0a4.6,4.6 0 1,0 9.2,0a4.6,4.6 0 1,0 -9.2,0zM420.4,310.0a4.6,4.6 0 1,0 9.2,0a4.6,4.6 0 1,0 -9.2,0zM400.4,320.0a4.6,4.6 0 1,0 9.2,0a4.6,4.6 0 1,0 -9.2,0zM408.4,322.0a4.6,4.6 0 1,0 9.2,0a4.6,4.6 0 1,0 -9.2,0zM416.4,320.0a4.6,4.6 0 1,0 9.2,0a4.6,4.6 0 1,0 -9.2,0zM423.4,318.0a4.6,4.6 0 1,0 9.2,0a4.6,4.6 0 1,0 -9.2,0zM404.4,330.0a4.6,4.6 0 1,0 9.2,0a4.6,4.6 0 1,0 -9.2,0zM413.4,328.0a4.6,4.6 0 1,0 9.2,0a4.6,4.6 0 1,0 -9.2,0zM421.4,326.0a4.6,4.6 0 1,0 9.2,0a4.6,4.6 0 1,0 -9.2,0zM426.4,333.0a4.6,4.6 0 1,0 9.2,0a4.6,4.6 0 1,0 -9.2,0zM423.4,340.0a4.6,4.6 0 1,0 9.2,0a4.6,4.6 0 1,0 -9.2,0zM422.4,347.0a4.6,4.6 0 1,0 9.2,0a4.6,4.6 0 1,0 -9.2,0zM431.4,346.0a4.6,4.6 0 1,0 9.2,0a4.6,4.6 0 1,0 -9.2,0zM437.4,338.0a4.6,4.6 0 1,0 9.2,0a4.6,4.6 0 1,0 -9.2,0zM441.4,334.0a4.6,4.6 0 1,0 9.2,0a4.6,4.6 0 1,0 -9.2,0zM435.4,351.0a4.6,4.6 0 1,0 9.2,0a4.6,4.6 0 1,0 -9.2,0zM441.4,352.0a4.6,4.6 0 1,0 9.2,0a4.6,4.6 0 1,0 -9.2,0zM451.0,311.3a4.6,4.6 0 1,0 9.2,0a4.6,4.6 0 1,0 -9.2,0zM458.9,329.4a4.6,4.6 0 1,0 9.2,0a4.6,4.6 0 1,0 -9.2,0zM469.9,328.6a4.6,4.6 0 1,0 9.2,0a4.6,4.6 0 1,0 -9.2,0zM417.9,362.4a4.6,4.6 0 1,0 9.2,0a4.6,4.6 0 1,0 -9.2,0zM403.7,362.4a4.6,4.6 0 1,0 9.2,0a4.6,4.6 0 1,0 -9.2,0zM395.4,360.0a4.6,4.6 0 1,0 9.2,0a4.6,4.6 0 1,0 -9.2,0zM386.4,345.0a4.6,4.6 0 1,0 9.2,0a4.6,4.6 0 1,0 -9.2,0zM378.4,334.0a4.6,4.6 0 1,0 9.2,0a4.6,4.6 0 1,0 -9.2,0zM383.4,352.0a4.6,4.6 0 1,0 9.2,0a4.6,4.6 0 1,0 -9.2,0zM411.9,258.3a4.6,4.6 0 1,0 9.2,0a4.6,4.6 0 1,0 -9.2,0zM439.6,295.5a4.6,4.6 0 1,0 9.2,0a4.6,4.6 0 1,0 -9.2,0zM434.4,284.7a4.6,4.6 0 1,0 9.2,0a4.6,4.6 0 1,0 -9.2,0zM443.7,297.2a4.6,4.6 0 1,0 9.2,0a4.6,4.6 0 1,0 -9.2,0zM415.8,252.7a4.6,4.6 0 1,0 9.2,0a4.6,4.6 0 1,0 -9.2,0zM401.0,247.9a4.6,4.6 0 1,0 9.2,0a4.6,4.6 0 1,0 -9.2,0zM446.2,289.5a4.6,4.6 0 1,0 9.2,0a4.6,4.6 0 1,0 -9.2,0zM443.8,299.8a4.6,4.6 0 1,0 9.2,0a4.6,4.6 0 1,0 -9.2,0zM427.6,319.8a4.6,4.6 0 1,0 9.2,0a4.6,4.6 0 1,0 -9.2,0zM418.1,285.3a4.6,4.6 0 1,0 9.2,0a4.6,4.6 0 1,0 -9.2,0zM445.2,290.7a4.6,4.6 0 1,0 9.2,0a4.6,4.6 0 1,0 -9.2,0zM447.1,287.3a4.6,4.6 0 1,0 9.2,0a4.6,4.6 0 1,0 -9.2,0zM409.1,263.7a4.6,4.6 0 1,0 9.2,0a4.6,4.6 0 1,0 -9.2,0zM433.5,269.9a4.6,4.6 0 1,0 9.2,0a4.6,4.6 0 1,0 -9.2,0zM417.6,257.2a4.6,4.6 0 1,0 9.2,0a4.6,4.6 0 1,0 -9.2,0zM434.3,289.9a4.6,4.6 0 1,0 9.2,0a4.6,4.6 0 1,0 -9.2,0zM454.8,292.5a4.6,4.6 0 1,0 9.2,0a4.6,4.6 0 1,0 -9.2,0zM428.8,296.1a4.6,4.6 0 1,0 9.2,0a4.6,4.6 0 1,0 -9.2,0zM446.0,303.6a4.6,4.6 0 1,0 9.2,0a4.6,4.6 0 1,0 -9.2,0zM414.3,262.0a4.6,4.6 0 1,0 9.2,0a4.6,4.6 0 1,0 -9.2,0zM448.0,265.8a4.6,4.6 0 1,0 9.2,0a4.6,4.6 0 1,0 -9.2,0zM434.7,272.4a4.6,4.6 0 1,0 9.2,0a4.6,4.6 0 1,0 -9.2,0zM450.3,277.6a4.6,4.6 0 1,0 9.2,0a4.6,4.6 0 1,0 -9.2,0zM411.3,260.2a4.6,4.6 0 1,0 9.2,0a4.6,4.6 0 1,0 -9.2,0zM429.1,261.5a4.6,4.6 0 1,0 9.2,0a4.6,4.6 0 1,0 -9.2,0zM430.5,313.6a4.6,4.6 0 1,0 9.2,0a4.6,4.6 0 1,0 -9.2,0zM419.4,258.0a4.6,4.6 0 1,0 9.2,0a4.6,4.6 0 1,0 -9.2,0zM400.9,243.9a4.6,4.6 0 1,0 9.2,0a4.6,4.6 0 1,0 -9.2,0zM442.9,274.6a4.6,4.6 0 1,0 9.2,0a4.6,4.6 0 1,0 -9.2,0zM436.3,284.0a4.6,4.6 0 1,0 9.2,0a4.6,4.6 0 1,0 -9.2,0zM411.4,292.6a4.6,4.6 0 1,0 9.2,0a4.6,4.6 0 1,0 -9.2,0zM422.6,318.2a4.6,4.6 0 1,0 9.2,0a4.6,4.6 0 1,0 -9.2,0zM425.4,254.6a4.6,4.6 0 1,0 9.2,0a4.6,4.6 0 1,0 -9.2,0zM450.2,311.4a4.6,4.6 0 1,0 9.2,0a4.6,4.6 0 1,0 -9.2,0zM413.3,292.4a4.6,4.6 0 1,0 9.2,0a4.6,4.6 0 1,0 -9.2,0zM441.2,284.2a4.6,4.6 0 1,0 9.2,0a4.6,4.6 0 1,0 -9.2,0zM442.1,283.5a4.6,4.6 0 1,0 9.2,0a4.6,4.6 0 1,0 -9.2,0zM448.1,308.2a4.6,4.6 0 1,0 9.2,0a4.6,4.6 0 1,0 -9.2,0zM423.9,285.1a4.6,4.6 0 1,0 9.2,0a4.6,4.6 0 1,0 -9.2,0zM420.8,257.4a4.6,4.6 0 1,0 9.2,0a4.6,4.6 0 1,0 -9.2,0zM427.8,299.9a4.6,4.6 0 1,0 9.2,0a4.6,4.6 0 1,0 -9.2,0zM421.7,282.4a4.6,4.6 0 1,0 9.2,0a4.6,4.6 0 1,0 -9.2,0zM292.9,336.3a4.6,4.6 0 1,0 9.2,0a4.6,4.6 0 1,0 -9.2,0zM317.8,325.3a4.6,4.6 0 1,0 9.2,0a4.6,4.6 0 1,0 -9.2,0zM282.8,320.9a4.6,4.6 0 1,0 9.2,0a4.6,4.6 0 1,0 -9.2,0zM276.8,320.3a4.6,4.6 0 1,0 9.2,0a4.6,4.6 0 1,0 -9.2,0zM279.0,335.4a4.6,4.6 0 1,0 9.2,0a4.6,4.6 0 1,0 -9.2,0zM291.2,332.2a4.6,4.6 0 1,0 9.2,0a4.6,4.6 0 1,0 -9.2,0zM308.4,329.8a4.6,4.6 0 1,0 9.2,0a4.6,4.6 0 1,0 -9.2,0zM304.3,323.4a4.6,4.6 0 1,0 9.2,0a4.6,4.6 0 1,0 -9.2,0zM304.8,349.1a4.6,4.6 0 1,0 9.2,0a4.6,4.6 0 1,0 -9.2,0zM272.3,331.6a4.6,4.6 0 1,0 9.2,0a4.6,4.6 0 1,0 -9.2,0zM296.7,347.5a4.6,4.6 0 1,0 9.2,0a4.6,4.6 0 1,0 -9.2,0zM280.8,327.8a4.6,4.6 0 1,0 9.2,0a4.6,4.6 0 1,0 -9.2,0zM284.0,321.5a4.6,4.6 0 1,0 9.2,0a4.6,4.6 0 1,0 -9.2,0zM307.5,344.5a4.6,4.6 0 1,0 9.2,0a4.6,4.6 0 1,0 -9.2,0zM294.4,321.1a4.6,4.6 0 1,0 9.2,0a4.6,4.6 0 1,0 -9.2,0zM309.6,342.1a4.6,4.6 0 1,0 9.2,0a4.6,4.6 0 1,0 -9.2,0zM306.3,329.9a4.6,4.6 0 1,0 9.2,0a4.6,4.6 0 1,0 -9.2,0zM316.1,338.9a4.6,4.6 0 1,0 9.2,0a4.6,4.6 0 1,0 -9.2,0zM302.8,336.2a4.6,4.6 0 1,0 9.2,0a4.6,4.6 0 1,0 -9.2,0zM283.2,333.7a4.6,4.6 0 1,0 9.2,0a4.6,4.6 0 1,0 -9.2,0zM233.8,342.3a4.6,4.6 0 1,0 9.2,0a4.6,4.6 0 1,0 -9.2,0zM243.5,335.8a4.6,4.6 0 1,0 9.2,0a4.6,4.6 0 1,0 -9.2,0zM249.1,339.4a4.6,4.6 0 1,0 9.2,0a4.6,4.6 0 1,0 -9.2,0zM204.3,341.4a4.6,4.6 0 1,0 9.2,0a4.6,4.6 0 1,0 -9.2,0zM246.1,351.0a4.6,4.6 0 1,0 9.2,0a4.6,4.6 0 1,0 -9.2,0zM254.3,327.3a4.6,4.6 0 1,0 9.2,0a4.6,4.6 0 1,0 -9.2,0zM250.1,336.9a4.6,4.6 0 1,0 9.2,0a4.6,4.6 0 1,0 -9.2,0zM235.9,361.6a4.6,4.6 0 1,0 9.2,0a4.6,4.6 0 1,0 -9.2,0zM257.5,351.8a4.6,4.6 0 1,0 9.2,0a4.6,4.6 0 1,0 -9.2,0zM272.8,327.9a4.6,4.6 0 1,0 9.2,0a4.6,4.6 0 1,0 -9.2,0zM203.8,335.0a4.6,4.6 0 1,0 9.2,0a4.6,4.6 0 1,0 -9.2,0zM234.9,338.8a4.6,4.6 0 1,0 9.2,0a4.6,4.6 0 1,0 -9.2,0zM251.7,329.0a4.6,4.6 0 1,0 9.2,0a4.6,4.6 0 1,0 -9.2,0zM262.0,376.1a4.6,4.6 0 1,0 9.2,0a4.6,4.6 0 1,0 -9.2,0zM221.2,365.8a4.6,4.6 0 1,0 9.2,0a4.6,4.6 0 1,0 -9.2,0zM273.8,355.3a4.6,4.6 0 1,0 9.2,0a4.6,4.6 0 1,0 -9.2,0zM264.5,331.5a4.6,4.6 0 1,0 9.2,0a4.6,4.6 0 1,0 -9.2,0zM273.8,327.9a4.6,4.6 0 1,0 9.2,0a4.6,4.6 0 1,0 -9.2,0zM253.2,329.6a4.6,4.6 0 1,0 9.2,0a4.6,4.6 0 1,0 -9.2,0zM251.0,313.0a4.6,4.6 0 1,0 9.2,0a4.6,4.6 0 1,0 -9.2,0zM230.1,368.5a4.6,4.6 0 1,0 9.2,0a4.6,4.6 0 1,0 -9.2,0zM225.1,364.8a4.6,4.6 0 1,0 9.2,0a4.6,4.6 0 1,0 -9.2,0zM276.4,355.5a4.6,4.6 0 1,0 9.2,0a4.6,4.6 0 1,0 -9.2,0zM260.0,325.5a4.6,4.6 0 1,0 9.2,0a4.6,4.6 0 1,0 -9.2,0zM246.5,382.2a4.6,4.6 0 1,0 9.2,0a4.6,4.6 0 1,0 -9.2,0zM242.6,383.6a4.6,4.6 0 1,0 9.2,0a4.6,4.6 0 1,0 -9.2,0zM252.4,370.3a4.6,4.6 0 1,0 9.2,0a4.6,4.6 0 1,0 -9.2,0zM208.3,329.9a4.6,4.6 0 1,0 9.2,0a4.6,4.6 0 1,0 -9.2,0zM277.6,351.0a4.6,4.6 0 1,0 9.2,0a4.6,4.6 0 1,0 -9.2,0zM274.7,342.7a4.6,4.6 0 1,0 9.2,0a4.6,4.6 0 1,0 -9.2,0zM225.6,358.3a4.6,4.6 0 1,0 9.2,0a4.6,4.6 0 1,0 -9.2,0zM249.5,360.6a4.6,4.6 0 1,0 9.2,0a4.6,4.6 0 1,0 -9.2,0zM245.2,363.1a4.6,4.6 0 1,0 9.2,0a4.6,4.6 0 1,0 -9.2,0zM274.8,173.1a4.6,4.6 0 1,0 9.2,0a4.6,4.6 0 1,0 -9.2,0zM284.3,171.0a4.6,4.6 0 1,0 9.2,0a4.6,4.6 0 1,0 -9.2,0zM299.0,170.0a4.6,4.6 0 1,0 9.2,0a4.6,4.6 0 1,0 -9.2,0zM333.6,183.6a4.6,4.6 0 1,0 9.2,0a4.6,4.6 0 1,0 -9.2,0zM341.0,187.8a4.6,4.6 0 1,0 9.2,0a4.6,4.6 0 1,0 -9.2,0zM333.1,198.3a4.6,4.6 0 1,0 9.2,0a4.6,4.6 0 1,0 -9.2,0zM268.0,200.4a4.6,4.6 0 1,0 9.2,0a4.6,4.6 0 1,0 -9.2,0zM286.4,202.5a4.6,4.6 0 1,0 9.2,0a4.6,4.6 0 1,0 -9.2,0zM293.7,208.8a4.6,4.6 0 1,0 9.2,0a4.6,4.6 0 1,0 -9.2,0zM280.1,217.2a4.6,4.6 0 1,0 9.2,0a4.6,4.6 0 1,0 -9.2,0zM289.5,215.1a4.6,4.6 0 1,0 9.2,0a4.6,4.6 0 1,0 -9.2,0zM312.6,201.5a4.6,4.6 0 1,0 9.2,0a4.6,4.6 0 1,0 -9.2,0zM317.9,200.4a4.6,4.6 0 1,0 9.2,0a4.6,4.6 0 1,0 -9.2,0zM309.5,197.3a4.6,4.6 0 1,0 9.2,0a4.6,4.6 0 1,0 -9.2,0zM307.4,213.0a4.6,4.6 0 1,0 9.2,0a4.6,4.6 0 1,0 -9.2,0zM320.0,216.2a4.6,4.6 0 1,0 9.2,0a4.6,4.6 0 1,0 -9.2,0zM341.0,220.4a4.6,4.6 0 1,0 9.2,0a4.6,4.6 0 1,0 -9.2,0zM281.1,226.7a4.6,4.6 0 1,0 9.2,0a4.6,4.6 0 1,0 -9.2,0zM268.5,219.3a4.6,4.6 0 1,0 9.2,0a4.6,4.6 0 1,0 -9.2,0zM327.4,217.2a4.6,4.6 0 1,0 9.2,0a4.6,4.6 0 1,0 -9.2,0zM370.7,198.3a4.6,4.6 0 1,0 9.2,0a4.6,4.6 0 1,0 -9.2,0zM388.4,193.3a4.6,4.6 0 1,0 9.2,0a4.6,4.6 0 1,0 -9.2,0zM391.3,199.3a4.6,4.6 0 1,0 9.2,0a4.6,4.6 0 1,0 -9.2,0zM403.2,206.1a4.6,4.6 0 1,0 9.2,0a4.6,4.6 0 1,0 -9.2,0zM421.9,192.4a4.6,4.6 0 1,0 9.2,0a4.6,4.6 0 1,0 -9.2,0zM426.8,213.0a4.6,4.6 0 1,0 9.2,0a4.6,4.6 0 1,0 -9.2,0zM384.4,217.0a4.6,4.6 0 1,0 9.2,0a4.6,4.6 0 1,0 -9.2,0zM417.9,225.8a4.6,4.6 0 1,0 9.2,0a4.6,4.6 0 1,0 -9.2,0zM431.7,229.8a4.6,4.6 0 1,0 9.2,0a4.6,4.6 0 1,0 -9.2,0zM404.1,230.8a4.6,4.6 0 1,0 9.2,0a4.6,4.6 0 1,0 -9.2,0zM415.0,257.4a4.6,4.6 0 1,0 9.2,0a4.6,4.6 0 1,0 -9.2,0zM423.8,246.5a4.6,4.6 0 1,0 9.2,0a4.6,4.6 0 1,0 -9.2,0zM427.8,240.6a4.6,4.6 0 1,0 9.2,0a4.6,4.6 0 1,0 -9.2,0zM351.0,203.2a4.6,4.6 0 1,0 9.2,0a4.6,4.6 0 1,0 -9.2,0zM335.5,209.9a4.6,4.6 0 1,0 9.2,0a4.6,4.6 0 1,0 -9.2,0zM385.3,193.8a4.6,4.6 0 1,0 9.2,0a4.6,4.6 0 1,0 -9.2,0zM334.2,196.4a4.6,4.6 0 1,0 9.2,0a4.6,4.6 0 1,0 -9.2,0zM321.5,194.4a4.6,4.6 0 1,0 9.2,0a4.6,4.6 0 1,0 -9.2,0zM283.9,215.0a4.6,4.6 0 1,0 9.2,0a4.6,4.6 0 1,0 -9.2,0zM398.6,218.8a4.6,4.6 0 1,0 9.2,0a4.6,4.6 0 1,0 -9.2,0zM357.7,195.0a4.6,4.6 0 1,0 9.2,0a4.6,4.6 0 1,0 -9.2,0zM325.9,181.8a4.6,4.6 0 1,0 9.2,0a4.6,4.6 0 1,0 -9.2,0zM372.5,192.2a4.6,4.6 0 1,0 9.2,0a4.6,4.6 0 1,0 -9.2,0zM356.6,184.2a4.6,4.6 0 1,0 9.2,0a4.6,4.6 0 1,0 -9.2,0zM370.0,189.6a4.6,4.6 0 1,0 9.2,0a4.6,4.6 0 1,0 -9.2,0zM321.8,180.9a4.6,4.6 0 1,0 9.2,0a4.6,4.6 0 1,0 -9.2,0zM266.6,197.0a4.6,4.6 0 1,0 9.2,0a4.6,4.6 0 1,0 -9.2,0zM324.2,179.3a4.6,4.6 0 1,0 9.2,0a4.6,4.6 0 1,0 -9.2,0zM312.1,176.3a4.6,4.6 0 1,0 9.2,0a4.6,4.6 0 1,0 -9.2,0zM291.8,214.3a4.6,4.6 0 1,0 9.2,0a4.6,4.6 0 1,0 -9.2,0zM334.4,200.7a4.6,4.6 0 1,0 9.2,0a4.6,4.6 0 1,0 -9.2,0zM320.3,181.2a4.6,4.6 0 1,0 9.2,0a4.6,4.6 0 1,0 -9.2,0zM319.6,179.0a4.6,4.6 0 1,0 9.2,0a4.6,4.6 0 1,0 -9.2,0zM365.8,216.2a4.6,4.6 0 1,0 9.2,0a4.6,4.6 0 1,0 -9.2,0zM356.7,199.7a4.6,4.6 0 1,0 9.2,0a4.6,4.6 0 1,0 -9.2,0zM289.6,197.4a4.6,4.6 0 1,0 9.2,0a4.6,4.6 0 1,0 -9.2,0zM392.0,203.7a4.6,4.6 0 1,0 9.2,0a4.6,4.6 0 1,0 -9.2,0zM285.6,213.4a4.6,4.6 0 1,0 9.2,0a4.6,4.6 0 1,0 -9.2,0zM374.0,188.2a4.6,4.6 0 1,0 9.2,0a4.6,4.6 0 1,0 -9.2,0zM347.2,199.9a4.6,4.6 0 1,0 9.2,0a4.6,4.6 0 1,0 -9.2,0zM334.2,189.5a4.6,4.6 0 1,0 9.2,0a4.6,4.6 0 1,0 -9.2,0zM296.6,179.2a4.6,4.6 0 1,0 9.2,0a4.6,4.6 0 1,0 -9.2,0zM320.9,182.0a4.6,4.6 0 1,0 9.2,0a4.6,4.6 0 1,0 -9.2,0zM350.8,178.1a4.6,4.6 0 1,0 9.2,0a4.6,4.6 0 1,0 -9.2,0zM352.0,182.6a4.6,4.6 0 1,0 9.2,0a4.6,4.6 0 1,0 -9.2,0zM316.1,180.7a4.6,4.6 0 1,0 9.2,0a4.6,4.6 0 1,0 -9.2,0zM336.0,177.1a4.6,4.6 0 1,0 9.2,0a4.6,4.6 0 1,0 -9.2,0zM301.6,187.9a4.6,4.6 0 1,0 9.2,0a4.6,4.6 0 1,0 -9.2,0zM372.0,208.1a4.6,4.6 0 1,0 9.2,0a4.6,4.6 0 1,0 -9.2,0zM278.6,207.1a4.6,4.6 0 1,0 9.2,0a4.6,4.6 0 1,0 -9.2,0zM288.9,180.9a4.6,4.6 0 1,0 9.2,0a4.6,4.6 0 1,0 -9.2,0zM252.4,349.7a4.6,4.6 0 1,0 9.2,0a4.6,4.6 0 1,0 -9.2,0zM297.1,338.7a4.6,4.6 0 1,0 9.2,0a4.6,4.6 0 1,0 -9.2,0zM312.2,337.1a4.6,4.6 0 1,0 9.2,0a4.6,4.6 0 1,0 -9.2,0zM281.5,351.7a4.6,4.6 0 1,0 9.2,0a4.6,4.6 0 1,0 -9.2,0zM311.1,331.1a4.6,4.6 0 1,0 9.2,0a4.6,4.6 0 1,0 -9.2,0zM322.3,342.4a4.6,4.6 0 1,0 9.2,0a4.6,4.6 0 1,0 -9.2,0zM318.8,324.6a4.6,4.6 0 1,0 9.2,0a4.6,4.6 0 1,0 -9.2,0zM285.0,332.7a4.6,4.6 0 1,0 9.2,0a4.6,4.6 0 1,0 -9.2,0zM278.4,331.0a4.6,4.6 0 1,0 9.2,0a4.6,4.6 0 1,0 -9.2,0zM278.6,344.9a4.6,4.6 0 1,0 9.2,0a4.6,4.6 0 1,0 -9.2,0zM263.0,367.1a4.6,4.6 0 1,0 9.2,0a4.6,4.6 0 1,0 -9.2,0zM285.2,338.9a4.6,4.6 0 1,0 9.2,0a4.6,4.6 0 1,0 -9.2,0zM326.2,327.3a4.6,4.6 0 1,0 9.2,0a4.6,4.6 0 1,0 -9.2,0zM251.2,342.1a4.6,4.6 0 1,0 9.2,0a4.6,4.6 0 1,0 -9.2,0zM249.3,353.1a4.6,4.6 0 1,0 9.2,0a4.6,4.6 0 1,0 -9.2,0zM291.8,363.7a4.6,4.6 0 1,0 9.2,0a4.6,4.6 0 1,0 -9.2,0zM334.3,331.7a4.6,4.6 0 1,0 9.2,0a4.6,4.6 0 1,0 -9.2,0zM320.2,345.0a4.6,4.6 0 1,0 9.2,0a4.6,4.6 0 1,0 -9.2,0zM335.7,324.0a4.6,4.6 0 1,0 9.2,0a4.6,4.6 0 1,0 -9.2,0zM250.7,335.2a4.6,4.6 0 1,0 9.2,0a4.6,4.6 0 1,0 -9.2,0zM274.8,338.1a4.6,4.6 0 1,0 9.2,0a4.6,4.6 0 1,0 -9.2,0zM323.7,333.3a4.6,4.6 0 1,0 9.2,0a4.6,4.6 0 1,0 -9.2,0zM328.5,327.3a4.6,4.6 0 1,0 9.2,0a4.6,4.6 0 1,0 -9.2,0zM246.7,352.1a4.6,4.6 0 1,0 9.2,0a4.6,4.6 0 1,0 -9.2,0zM264.8,348.9a4.6,4.6 0 1,0 9.2,0a4.6,4.6 0 1,0 -9.2,0zM275.6,351.2a4.6,4.6 0 1,0 9.2,0a4.6,4.6 0 1,0 -9.2,0zM257.0,361.5a4.6,4.6 0 1,0 9.2,0a4.6,4.6 0 1,0 -9.2,0zM268.1,349.7a4.6,4.6 0 1,0 9.2,0a4.6,4.6 0 1,0 -9.2,0zM295.8,344.9a4.6,4.6 0 1,0 9.2,0a4.6,4.6 0 1,0 -9.2,0zM260.0,364.0a4.6,4.6 0 1,0 9.2,0a4.6,4.6 0 1,0 -9.2,0zM301.9,358.6a4.6,4.6 0 1,0 9.2,0a4.6,4.6 0 1,0 -9.2,0zM273.9,344.0a4.6,4.6 0 1,0 9.2,0a4.6,4.6 0 1,0 -9.2,0zM261.8,333.9a4.6,4.6 0 1,0 9.2,0a4.6,4.6 0 1,0 -9.2,0zM261.3,346.1a4.6,4.6 0 1,0 9.2,0a4.6,4.6 0 1,0 -9.2,0zM284.2,360.8a4.6,4.6 0 1,0 9.2,0a4.6,4.6 0 1,0 -9.2,0zM324.4,337.7a4.6,4.6 0 1,0 9.2,0a4.6,4.6 0 1,0 -9.2,0zM253.3,329.4a4.6,4.6 0 1,0 9.2,0a4.6,4.6 0 1,0 -9.2,0zM299.0,338.2a4.6,4.6 0 1,0 9.2,0a4.6,4.6 0 1,0 -9.2,0zM248.7,357.2a4.6,4.6 0 1,0 9.2,0a4.6,4.6 0 1,0 -9.2,0zM303.8,336.3a4.6,4.6 0 1,0 9.2,0a4.6,4.6 0 1,0 -9.2,0zM301.1,323.2a4.6,4.6 0 1,0 9.2,0a4.6,4.6 0 1,0 -9.2,0z"/>
<path fill="#00ff00" d="M319.5,170.1l6.8,12.6h-13.6zM278.8,184.7l6.8,12.6h-13.6zM267.0,195.5l6.8,12.6h-13.6zM262.0,206.3l6.8,12.6h-13.6zM274.8,216.2l6.8,12.6h-13.6zM260.1,228.0l6.8,12.6h-13.6zM243.3,239.8l6.8,12.6h-13.6zM251.8,237.8l6.8,12.6h-13.6zM220.3,241.8l6.8,12.6h-13.6zM277.8,232.9l6.8,12.6h-13.6zM256.1,249.7l6.8,12.6h-13.6zM262.0,251.6l6.8,12.6h-13.6zM250.2,261.5l6.8,12.6h-13.6zM237.4,275.3l6.8,12.6h-13.6zM220.3,283.2l6.8,12.6h-13.6zM249.3,285.1l6.8,12.6h-13.6zM238.4,295.0l6.8,12.6h-13.6zM266.0,274.3l6.8,12.6h-13.6zM456.7,234.9l6.8,12.6h-13.6zM442.0,236.9l6.8,12.6h-13.6zM445.9,254.6l6.8,12.6h-13.6zM471.5,259.5l6.8,12.6h-13.6zM487.2,259.5l6.8,12.6h-13.6zM509.9,254.6l6.8,12.6h-13.6zM536.5,251.6l6.8,12.6h-13.6zM451.8,272.3l6.8,12.6h-13.6zM481.3,272.3l6.8,12.6h-13.6zM469.5,279.2l6.8,12.6h-13.6zM552.2,264.4l6.8,12.6h-13.6zM575.8,270.3l6.8,12.6h-13.6zM566.0,288.1l6.8,12.6h-13.6zM585.7,290.0l6.8,12.6h-13.6zM443.9,280.2l6.8,12.6h-13.6zM448.9,292.0l6.8,12.6h-13.6zM472.5,296.0l6.8,12.6h-13.6zM442.0,264.4l6.8,12.6h-13.6zM499.1,274.3l6.8,12.6h-13.6zM508.9,270.3l6.8,12.6h-13.6zM518.7,264.4l6.8,12.6h-13.6zM528.6,274.3l6.8,12.6h-13.6zM542.4,266.4l6.8,12.6h-13.6zM546.3,284.1l6.8,12.6h-13.6zM497.1,288.1l6.8,12.6h-13.6zM510.9,284.1l6.8,12.6h-13.6zM522.7,284.1l6.8,12.6h-13.6zM534.5,286.1l6.8,12.6h-13.6zM554.2,292.0l6.8,12.6h-13.6zM501.0,297.9l6.8,12.6h-13.6zM514.8,296.0l6.8,12.6h-13.6zM530.6,297.9l6.8,12.6h-13.6zM542.4,296.0l6.8,12.6h-13.6zM577.8,296.0l6.8,12.6h-13.6zM558.1,299.9l6.8,12.6h-13.6zM613.6,295.0l6.8,12.6h-13.6zM597.9,296.0l6.8,12.6h-13.6zM188.2,311.5l6.8,12.6h-13.6zM170.5,321.4l6.8,12.6h-13.6zM195.1,325.3l6.8,12.6h-13.6zM160.7,342.1l6.8,12.6h-13.6zM175.4,410.0l6.8,12.6h-13.6zM220.7,319.4l6.8,12.6h-13.6zM230.6,309.5l6.8,12.6h-13.6zM234.5,303.6l6.8,12.6h-13.6zM226.6,327.3l6.8,12.6h-13.6zM232.5,334.2l6.8,12.6h-13.6zM218.7,347.0l6.8,12.6h-13.6zM210.9,350.9l6.8,12.6h-13.6zM191.2,356.8l6.8,12.6h-13.6zM193.1,368.6l6.8,12.6h-13.6zM205.0,364.7l6.8,12.6h-13.6zM214.8,364.7l6.8,12.6h-13.6zM193.1,384.4l6.8,12.6h-13.6zM201.0,386.4l6.8,12.6h-13.6zM212.8,382.4l6.8,12.6h-13.6zM222.7,376.5l6.8,12.6h-13.6zM230.6,362.7l6.8,12.6h-13.6zM238.4,352.9l6.8,12.6h-13.6zM246.3,348.9l6.8,12.6h-13.6zM256.1,339.1l6.8,12.6h-13.6zM250.2,329.2l6.8,12.6h-13.6zM258.1,319.4l6.8,12.6h-13.6zM266.0,311.5l6.8,12.6h-13.6zM275.8,319.4l6.8,12.6h-13.6zM281.7,307.6l6.8,12.6h-13.6zM271.9,339.1l6.8,12.6h-13.6zM279.8,348.9l6.8,12.6h-13.6zM262.0,354.9l6.8,12.6h-13.6zM266.0,370.6l6.8,12.6h-13.6zM254.2,374.6l6.8,12.6h-13.6zM242.4,384.4l6.8,12.6h-13.6zM230.6,388.3l6.8,12.6h-13.6zM224.6,394.3l6.8,12.6h-13.6zM208.9,398.2l6.8,12.6h-13.6zM222.7,406.1l6.8,12.6h-13.6zM232.5,402.1l6.8,12.6h-13.6zM244.3,398.2l6.8,12.6h-13.6zM240.4,410.0l6.8,12.6h-13.6zM256.1,406.1l6.8,12.6h-13.6zM266.0,402.1l6.8,12.6h-13.6zM277.8,398.2l6.8,12.6h-13.6zM281.7,382.4l6.8,12.6h-13.6zM206.9,410.0l6.8,12.6h-13.6zM201.0,414.0l6.8,12.6h-13.6zM258.1,415.9l6.8,12.6h-13.6zM269.9,412.0l6.8,12.6h-13.6zM285.7,406.1l6.8,12.6h-13.6zM258.1,303.6l6.8,12.6h-13.6zM273.9,303.6l6.8,12.6h-13.6zM250.2,311.5l6.8,12.6h-13.6zM242.4,317.4l6.8,12.6h-13.6zM266.0,325.3l6.8,12.6h-13.6zM277.8,327.3l6.8,12.6h-13.6zM234.5,378.5l6.8,12.6h-13.6zM250.2,382.4l6.8,12.6h-13.6zM184.3,420.7l6.8,12.6h-13.6zM197.1,429.5l6.8,12.6h-13.6zM207.9,421.6l6.8,12.6h-13.6zM218.7,421.6l6.8,12.6h-13.6zM210.9,435.4l6.8,12.6h-13.6zM222.7,435.4l6.8,12.6h-13.6zM228.6,429.5l6.8,12.6h-13.6zM234.5,433.5l6.8,12.6h-13.6zM240.4,443.3l6.8,12.6h-13.6zM242.4,421.6l6.8,12.6h-13.6zM250.2,459.1l6.8,12.6h-13.6zM256.1,457.1l6.8,12.6h-13.6zM268.0,474.8l6.8,12.6h-13.6zM273.9,451.2l6.8,12.6h-13.6zM281.7,457.1l6.8,12.6h-13.6zM285.7,466.9l6.8,12.6h-13.6zM287.6,484.7l6.8,12.6h-13.6zM214.8,470.9l6.8,12.6h-13.6zM226.6,494.5l6.8,12.6h-13.6zM266.0,439.4l6.8,12.6h-13.6zM273.9,437.4l6.8,12.6h-13.6zM285.7,441.3l6.8,12.6h-13.6zM269.9,421.6l6.8,12.6h-13.6zM283.7,425.6l6.8,12.6h-13.6zM256.1,419.7l6.8,12.6h-13.6zM328.4,418.7l6.8,12.6h-13.6zM343.1,419.7l6.8,12.6h-13.6zM357.9,428.5l6.8,12.6h-13.6zM371.7,436.4l6.8,12.6h-13.6zM386.5,420.7l6.8,12.6h-13.6zM392.4,446.3l6.8,12.6h-13.6zM372.7,457.1l6.8,12.6h-13.6zM323.5,455.1l6.8,12.6h-13.6zM324.4,465.0l6.8,12.6h-13.6zM338.2,475.8l6.8,12.6h-13.6zM317.6,487.6l6.8,12.6h-13.6zM307.7,496.5l6.8,12.6h-13.6zM297.9,474.8l6.8,12.6h-13.6zM293.0,482.7l6.8,12.6h-13.6zM293.9,457.1l6.8,12.6h-13.6zM297.9,449.2l6.8,12.6h-13.6zM309.7,439.4l6.8,12.6h-13.6zM315.6,442.3l6.8,12.6h-13.6zM291.0,429.5l6.8,12.6h-13.6zM588.6,432.5l6.8,12.6h-13.6zM593.0,429.5l6.8,12.6h-13.6zM595.9,301.7l6.8,12.6h-13.6zM613.6,300.7l6.8,12.6h-13.6zM605.7,313.5l6.8,12.6h-13.6zM615.6,319.4l6.8,12.6h-13.6zM622.5,327.3l6.8,12.6h-13.6zM634.3,309.5l6.8,12.6h-13.6zM640.2,337.1l6.8,12.6h-13.6zM624.4,342.1l6.8,12.6h-13.6zM611.7,345.0l6.8,12.6h-13.6zM593.9,311.5l6.8,12.6h-13.6zM595.9,323.3l6.8,12.6h-13.6zM601.8,335.2l6.8,12.6h-13.6zM593.9,354.9l6.8,12.6h-13.6zM611.7,356.8l6.8,12.6h-13.6zM613.6,367.7l6.8,12.6h-13.6zM597.9,372.6l6.8,12.6h-13.6zM592.0,382.4l6.8,12.6h-13.6zM642.2,367.7l6.8,12.6h-13.6zM595.9,396.2l6.8,12.6h-13.6zM617.6,404.1l6.8,12.6h-13.6zM592.0,408.0l6.8,12.6h-13.6zM606.7,341.1l6.8,12.6h-13.6zM592.0,333.2l6.8,12.6h-13.6zM599.8,345.0l6.8,12.6h-13.6zM615.6,339.1l6.8,12.6h-13.6zM445.9,311.5l6.8,12.6h-13.6zM473.5,313.5l6.8,12.6h-13.6zM489.2,337.1l6.8,12.6h-13.6zM481.3,351.9l6.8,12.6h-13.6zM506.9,356.8l6.8,12.6h-13.6zM541.4,385.4l6.8,12.6h-13.6zM549.3,391.3l6.8,12.6h-13.6zM564.0,390.3l6.8,12.6h-13.6zM586.7,407.1l6.8,12.6h-13.6zM472.5,301.7l6.8,12.6h-13.6zM451.8,300.7l6.8,12.6h-13.6zM510.9,333.2l6.8,12.6h-13.6zM503.0,347.0l6.8,12.6h-13.6zM518.7,339.1l6.8,12.6h-13.6zM534.5,354.9l6.8,12.6h-13.6zM550.2,370.6l6.8,12.6h-13.6zM562.0,374.6l6.8,12.6h-13.6zM577.8,376.5l6.8,12.6h-13.6zM585.7,370.6l6.8,12.6h-13.6zM367.9,367.6l6.8,12.6h-13.6zM379.7,365.7l6.8,12.6h-13.6zM377.7,381.4l6.8,12.6h-13.6zM371.8,385.4l6.8,12.6h-13.6zM339.8,283.5l6.8,12.6h-13.6zM371.3,227.3l6.8,12.6h-13.6zM306.9,300.2l6.8,12.6h-13.6zM375.3,277.4l6.8,12.6h-13.6zM353.5,283.9l6.8,12.6h-13.6zM285.8,259.8l6.8,12.6h-13.6zM288.6,310.6l6.8,12.6h-13.6zM271.6,301.1l6.8,12.6h-13.6zM274.2,286.7l6.8,12.6h-13.6zM317.3,255.9l6.8,12.6h-13.6zM272.0,311.6l6.8,12.6h-13.6zM345.5,221.6l6.8,12.6h-13.6zM280.5,257.9l6.8,12.6h-13.6zM284.2,245.8l6.8,12.6h-13.6zM363.9,229.6l6.8,12.6h-13.6zM290.1,300.8l6.8,12.6h-13.6zM327.7,257.4l6.8,12.6h-13.6zM359.7,263.8l6.8,12.6h-13.6zM325.1,215.0l6.8,12.6h-13.6zM422.1,284.2l6.8,12.6h-13.6zM320.4,251.4l6.8,12.6h-13.6zM375.2,285.3l6.8,12.6h-13.6zM321.6,267.5l6.8,12.6h-13.6zM394.9,266.3l6.8,12.6h-13.6zM266.6,301.5l6.8,12.6h-13.6zM332.5,268.4l6.8,12.6h-13.6zM298.4,258.4l6.8,12.6h-13.6zM325.7,296.0l6.8,12.6h-13.6zM278.8,271.8l6.8,12.6h-13.6zM291.2,287.7l6.8,12.6h-13.6zM318.4,281.3l6.8,12.6h-13.6zM296.2,242.5l6.8,12.6h-13.6zM289.5,312.6l6.8,12.6h-13.6zM321.7,232.4l6.8,12.6h-13.6zM388.4,249.0l6.8,12.6h-13.6zM268.6,279.3l6.8,12.6h-13.6zM344.6,214.3l6.8,12.6h-13.6zM314.9,297.7l6.8,12.6h-13.6zM398.4,281.5l6.8,12.6h-13.6zM299.6,269.3l6.8,12.6h-13.6zM340.3,280.2l6.8,12.6h-13.6zM305.1,315.1l6.8,12.6h-13.6zM309.8,307.1l6.8,12.6h-13.6zM307.6,314.8l6.8,12.6h-13.6zM346.5,287.7l6.8,12.6h-13.6zM377.6,235.1l6.8,12.6h-13.6zM308.7,239.5l6.8,12.6h-13.6zM374.1,287.5l6.8,12.6h-13.6zM283.6,308.5l6.8,12.6h-13.6zM330.9,238.0l6.8,12.6h-13.6zM353.8,279.9l6.8,12.6h-13.6zM386.7,257.3l6.8,12.6h-13.6zM391.4,275.1l6.8,12.6h-13.6zM319.0,251.9l6.8,12.6h-13.6zM382.7,273.2l6.8,12.6h-13.6zM264.8,289.2l6.8,12.6h-13.6zM349.7,297.9l6.8,12.6h-13.6zM324.2,222.4l6.8,12.6h-13.6zM319.9,245.8l6.8,12.6h-13.6zM415.2,287.0l6.8,12.6h-13.6zM350.8,279.6l6.8,12.6h-13.6zM282.5,270.0l6.8,12.6h-13.6zM376.9,254.7l6.8,12.6h-13.6zM302.3,256.1l6.8,12.6h-13.6zM315.1,286.5l6.8,12.6h-13.6zM313.2,287.7l6.8,12.6h-13.6zM386.6,283.7l6.8,12.6h-13.6zM415.3,251.6l6.8,12.6h-13.6zM334.8,231.3l6.8,12.6h-13.6zM371.5,249.0l6.8,12.6h-13.6zM301.1,247.5l6.8,12.6h-13.6zM321.1,242.2l6.8,12.6h-13.6zM295.0,258.9l6.8,12.6h-13.6zM298.1,312.0l6.8,12.6h-13.6zM344.2,287.9l6.8,12.6h-13.6zM288.6,262.4l6.8,12.6h-13.6zM361.5,303.7l6.8,12.6h-13.6zM303.0,261.9l6.8,12.6h-13.6zM299.3,270.4l6.8,12.6h-13.6zM386.9,254.9l6.8,12.6h-13.6zM372.4,284.1l6.8,12.6h-13.6zM421.5,272.2l6.8,12.6h-13.6zM373.6,249.9l6.8,12.6h-13.6zM382.1,246.9l6.8,12.6h-13.6zM344.0,251.1l6.8,12.6h-13.6zM312.4,226.5l6.8,12.6h-13.6zM299.0,271.1l6.8,12.6h-13.6zM393.8,242.9l6.8,12.6h-13.6zM415.5,277.1l6.8,12.6h-13.6zM325.8,307.0l6.8,12.6h-13.6zM409.1,246.7l6.8,12.6h-13.6zM282.6,281.7l6.8,12.6h-13.6zM400.2,278.1l6.8,12.6h-13.6zM390.6,256.7l6.8,12.6h-13.6zM363.3,240.4l6.8,12.6h-13.6zM328.7,253.2l6.8,12.6h-13.6zM325.1,255.3l6.8,12.6h-13.6zM295.6,239.5l6.8,12.6h-13.6zM421.3,268.8l6.8,12.6h-13.6zM270.7,302.9l6.8,12.6h-13.6zM320.8,291.9l6.8,12.6h-13.6zM312.1,226.7l6.8,12.6h-13.6zM296.6,307.8l6.8,12.6h-13.6zM288.8,289.9l6.8,12.6h-13.6zM310.6,232.5l6.8,12.6h-13.6zM292.2,245.8l6.8,12.6h-13.6zM403.4,278.0l6.8,12.6h-13.6zM278.8,286.5l6.8,12.6h-13.6zM349.9,260.7l6.8,12.6h-13.6zM348.5,282.8l6.8,12.6h-13.6zM393.3,266.9l6.8,12.6h-13.6zM366.2,262.7l6.8,12.6h-13.6zM366.0,254.1l6.8,12.6h-13.6zM330.0,268.1l6.8,12.6h-13.6zM379.3,242.1l6.8,12.6h-13.6zM413.7,265.4l6.8,12.6h-13.6zM402.3,287.1l6.8,12.6h-13.6zM418.8,286.2l6.8,12.6h-13.6zM332.0,256.0l6.8,12.6h-13.6zM361.7,294.0l6.8,12.6h-13.6zM280.6,286.5l6.8,12.6h-13.6zM419.5,293.2l6.8,12.6h-13.6zM299.4,312.8l6.8,12.6h-13.6zM340.0,234.3l6.8,12.6h-13.6zM386.1,258.0l6.8,12.6h-13.6zM351.1,246.2l6.8,12.6h-13.6zM301.6,221.2l6.8,12.6h-13.6zM415.1,251.3l6.8,12.6h-13.6zM310.9,312.5l6.8,12.6h-13.6zM360.4,284.8l6.8,12.6h-13.6zM341.1,291.5l6.8,12.6h-13.6zM397.4,294.4l6.8,12.6h-13.6zM317.7,253.4l6.8,12.6h-13.6zM341.5,233.0l6.8,12.6h-13.6zM364.4,270.2l6.8,12.6h-13.6zM321.3,236.9l6.8,12.6h-13.6zM325.2,278.6l6.8,12.6h-13.6zM282.8,270.8l6.8,12.6h-13.6zM418.2,293.0l6.8,12.6h-13.6zM303.3,257.4l6.8,12.6h-13.6zM278.8,292.2l6.8,12.6h-13.6zM365.6,230.6l6.8,12.6h-13.6zM351.9,276.8l6.8,12.6h-13.6zM356.7,253.0l6.8,12.6h-13.6zM312.8,250.4l6.8,12.6h-13.6zM344.4,261.9l6.8,12.6h-13.6zM290.4,255.4l6.8,12.6h-13.6zM295.6,246.9l6.8,12.6h-13.6zM322.2,249.9l6.8,12.6h-13.6zM316.5,283.5l6.8,12.6h-13.6zM327.1,268.0l6.8,12.6h-13.6zM368.2,219.7l6.8,12.6h-13.6zM372.1,222.7l6.8,12.6h-13.6zM303.0,300.1l6.8,12.6h-13.6zM290.1,259.6l6.8,12.6h-13.6zM308.4,303.6l6.8,12.6h-13.6zM300.2,233.1l6.8,12.6h-13.6zM366.6,281.3l6.8,12.6h-13.6zM358.7,264.0l6.8,12.6h-13.6zM419.3,261.8l6.8,12.6h-13.6zM415.7,254.5l6.8,12.6h-13.6zM338.3,250.9l6.8,12.6h-13.6zM379.3,293.8l6.8,12.6h-13.6zM301.2,269.1l6.8,12.6h-13.6zM381.1,266.5l6.8,12.6h-13.6zM370.6,279.0l6.8,12.6h-13.6zM379.2,250.5l6.8,12.6h-13.6zM326.0,317.3l6.8,12.6h-13.6zM399.2,257.7l6.8,12.6h-13.6zM313.5,240.0l6.8,12.6h-13.6zM329.9,217.4l6.8,12.6h-13.6zM312.4,229.0l6.8,12.6h-13.6zM282.0,302.5l6.8,12.6h-13.6zM324.3,265.2l6.8,12.6h-13.6zM286.0,236.6l6.8,12.6h-13.6zM414.8,269.4l6.8,12.6h-13.6zM322.2,232.3l6.8,12.6h-13.6zM411.3,295.3l6.8,12.6h-13.6zM352.5,298.1l6.8,12.6h-13.6zM304.8,270.0l6.8,12.6h-13.6zM363.2,231.9l6.8,12.6h-13.6zM367.6,259.3l6.8,12.6h-13.6zM320.9,255.4l6.8,12.6h-13.6zM274.7,312.2l6.8,12.6h-13.6zM347.6,273.0l6.8,12.6h-13.6zM352.1,271.1l6.8,12.6h-13.6zM400.9,252.4l6.8,12.6h-13.6zM392.6,269.3l6.8,12.6h-13.6zM298.1,256.2l6.8,12.6h-13.6zM393.1,293.2l6.8,12.6h-13.6zM348.0,296.6l6.8,12.6h-13.6zM373.1,306.6l6.8,12.6h-13.6zM368.6,251.4l6.8,12.6h-13.6zM309.0,220.7l6.8,12.6h-13.6zM360.9,226.3l6.8,12.6h-13.6zM420.5,269.9l6.8,12.6h-13.6zM291.0,302.0l6.8,12.6h-13.6zM298.6,255.7l6.8,12.6h-13.6zM370.4,242.5l6.8,12.6h-13.6zM355.4,288.3l6.8,12.6h-13.6zM385.3,301.7l6.8,12.6h-13.6zM385.2,242.9l6.8,12.6h-13.6zM503.8,278.8l6.8,12.6h-13.6zM507.7,272.7l6.8,12.6h-13.6zM552.0,284.6l6.8,12.6h-13.6zM500.5,293.4l6.8,12.6h-13.6zM531.9,264.8l6.8,12.6h-13.6zM526.0,264.1l6.8,12.6h-13.6zM499.4,300.1l6.8,12.6h-13.6zM501.1,330.3l6.8,12.6h-13.6zM495.2,305.5l6.8,12.6h-13.6zM500.8,310.5l6.8,12.6h-13.6zM530.9,262.8l6.8,12.6h-13.6zM501.2,288.2l6.8,12.6h-13.6zM492.7,295.7l6.8,12.6h-13.6zM515.2,267.2l6.8,12.6h-13.6zM495.5,314.9l6.8,12.6h-13.6zM504.6,295.7l6.8,12.6h-13.6zM512.9,263.9l6.8,12.6h-13.6zM521.9,256.9l6.8,12.6h-13.6zM507.0,308.7l6.8,12.6h-13.6zM515.5,265.2l6.8,12.6h-13.6zM545.2,272.2l6.8,12.6h-13.6zM494.5,310.8l6.8,12.6h-13.6zM510.3,293.2l6.8,12.6h-13.6zM555.2,276.0l6.8,12.6h-13.6zM516.8,258.3l6.8,12.6h-13.6zM493.5,294.0l6.8,12.6h-13.6zM510.5,294.2l6.8,12.6h-13.6zM491.0,299.2l6.8,12.6h-13.6zM535.9,272.0l6.8,12.6h-13.6zM498.9,310.1l6.8,12.6h-13.6zM523.2,262.6l6.8,12.6h-13.6zM495.3,284.3l6.8,12.6h-13.6zM541.7,259.0l6.8,12.6h-13.6zM546.8,264.7l6.8,12.6h-13.6zM565.0,290.4l6.8,12.6h-13.6zM576.0,370.4l6.8,12.6h-13.6zM557.5,352.0l6.8,12.6h-13.6zM612.8,332.3l6.8,12.6h-13.6zM589.4,353.7l6.8,12.6h-13.6zM546.4,324.1l6.8,12.6h-13.6zM531.3,292.9l6.8,12.6h-13.6zM563.4,345.3l6.8,12.6h-13.6zM541.6,346.7l6.8,12.6h-13.6zM537.0,288.0l6.8,12.6h-13.6zM582.9,321.2l6.8,12.6h-13.6zM555.5,304.2l6.8,12.6h-13.6zM594.4,356.9l6.8,12.6h-13.6zM556.5,363.7l6.8,12.6h-13.6zM531.6,314.2l6.8,12.6h-13.6zM582.3,363.2l6.8,12.6h-13.6zM510.9,328.0l6.8,12.6h-13.6zM550.6,312.5l6.8,12.6h-13.6zM532.0,318.3l6.8,12.6h-13.6zM521.2,373.6l6.8,12.6h-13.6zM527.9,333.8l6.8,12.6h-13.6zM578.7,346.4l6.8,12.6h-13.6zM559.5,332.6l6.8,12.6h-13.6zM528.1,309.8l6.8,12.6h-13.6zM590.1,322.3l6.8,12.6h-13.6zM549.8,286.7l6.8,12.6h-13.6zM519.5,345.8l6.8,12.6h-13.6zM531.3,326.1l6.8,12.6h-13.6zM532.3,310.7l6.8,12.6h-13.6zM527.0,372.2l6.8,12.6h-13.6zM576.8,328.8l6.8,12.6h-13.6zM531.3,364.9l6.8,12.6h-13.6zM525.8,376.6l6.8,12.6h-13.6zM542.0,321.0l6.8,12.6h-13.6zM516.1,368.7l6.8,12.6h-13.6zM533.2,336.8l6.8,12.6h-13.6zM588.2,334.1l6.8,12.6h-13.6zM548.2,305.5l6.8,12.6h-13.6zM575.9,377.3l6.8,12.6h-13.6zM611.1,347.8l6.8,12.6h-13.6zM598.5,372.4l6.8,12.6h-13.6zM544.8,285.1l6.8,12.6h-13.6zM566.2,323.2l6.8,12.6h-13.6zM602.7,356.3l6.8,12.6h-13.6zM554.6,333.5l6.8,12.6h-13.6zM560.2,346.8l6.8,12.6h-13.6zM578.6,346.6l6.8,12.6h-13.6zM530.1,361.5l6.8,12.6h-13.6zM511.1,305.8l6.8,12.6h-13.6zM574.3,311.8l6.8,12.6h-13.6zM543.7,287.0l6.8,12.6h-13.6zM548.7,338.2l6.8,12.6h-13.6zM510.6,364.8l6.8,12.6h-13.6zM568.5,363.0l6.8,12.6h-13.6zM580.1,347.3l6.8,12.6h-13.6zM559.6,332.3l6.8,12.6h-13.6zM546.8,289.5l6.8,12.6h-13.6zM594.5,347.3l6.8,12.6h-13.6zM505.5,358.9l6.8,12.6h-13.6zM577.7,361.1l6.8,12.6h-13.6zM551.7,308.6l6.8,12.6h-13.6zM520.6,334.8l6.8,12.6h-13.6zM540.3,327.8l6.8,12.6h-13.6zM575.8,302.8l6.8,12.6h-13.6zM581.3,354.1l6.8,12.6h-13.6zM538.8,300.3l6.8,12.6h-13.6zM578.1,325.4l6.8,12.6h-13.6zM598.9,355.9l6.8,12.6h-13.6zM556.9,322.7l6.8,12.6h-13.6zM571.8,340.4l6.8,12.6h-13.6zM559.7,334.8l6.8,12.6h-13.6zM547.7,350.0l6.8,12.6h-13.6zM577.7,312.0l6.8,12.6h-13.6zM543.9,338.9l6.8,12.6h-13.6zM551.2,344.5l6.8,12.6h-13.6zM602.8,361.2l6.8,12.6h-13.6zM566.0,316.1l6.8,12.6h-13.6zM547.0,310.7l6.8,12.6h-13.6zM573.1,356.8l6.8,12.6h-13.6zM558.6,363.9l6.8,12.6h-13.6zM549.4,307.3l6.8,12.6h-13.6zM546.0,341.7l6.8,12.6h-13.6zM539.8,296.7l6.8,12.6h-13.6zM542.8,307.1l6.8,12.6h-13.6zM598.3,364.1l6.8,12.6h-13.6zM534.2,294.6l6.8,12.6h-13.6zM560.1,375.8l6.8,12.6h-13.6zM551.3,348.8l6.8,12.6h-13.6zM563.5,373.7l6.8,12.6h-13.6zM550.1,346.9l6.8,12.6h-13.6zM518.6,317.1l6.8,12.6h-13.6zM509.1,331.5l6.8,12.6h-13.6zM560.3,348.9l6.8,12.6h-13.6zM542.3,374.8l6.8,12.6h-13.6zM513.6,315.7l6.8,12.6h-13.6zM561.9,296.8l6.8,12.6h-13.6zM543.2,320.4l6.8,12.6h-13.6zM546.2,323.3l6.8,12.6h-13.6zM546.3,370.0l6.8,12.6h-13.6zM509.4,366.0l6.8,12.6h-13.6zM548.4,379.6l6.8,12.6h-13.6zM565.8,366.7l6.8,12.6h-13.6zM520.8,313.1l6.8,12.6h-13.6zM530.5,370.6l6.8,12.6h-13.6zM598.0,341.8l6.8,12.6h-13.6zM539.1,290.4l6.8,12.6h-13.6zM519.5,341.6l6.8,12.6h-13.6zM610.1,344.6l6.8,12.6h-13.6zM534.5,295.2l6.8,12.6h-13.6zM601.3,357.3l6.8,12.6h-13.6zM561.4,339.1l6.8,12.6h-13.6zM516.5,347.8l6.8,12.6h-13.6zM609.0,348.2l6.8,12.6h-13.6zM603.9,336.5l6.8,12.6h-13.6zM606.7,348.2l6.8,12.6h-13.6zM551.7,320.6l6.8,12.6h-13.6zM601.6,335.1l6.8,12.6h-13.6zM555.6,334.8l6.8,12.6h-13.6zM574.8,302.8l6.8,12.6h-13.6zM511.2,330.5l6.8,12.6h-13.6zM517.2,330.4l6.8,12.6h-13.6zM520.8,341.6l6.8,12.6h-13.6zM597.5,327.4l6.8,12.6h-13.6zM562.2,319.0l6.8,12.6h-13.6zM586.2,314.0l6.8,12.6h-13.6zM571.1,327.1l6.8,12.6h-13.6zM528.4,377.8l6.8,12.6h-13.6zM541.6,371.1l6.8,12.6h-13.6zM573.5,323.4l6.8,12.6h-13.6zM548.9,304.8l6.8,12.6h-13.6zM519.7,309.9l6.8,12.6h-13.6zM561.9,327.0l6.8,12.6h-13.6zM542.7,281.0l6.8,12.6h-13.6zM590.6,331.9l6.8,12.6h-13.6zM573.8,325.2l6.8,12.6h-13.6zM609.2,332.6l6.8,12.6h-13.6zM551.8,342.3l6.8,12.6h-13.6zM611.4,357.6l6.8,12.6h-13.6zM599.4,327.9l6.8,12.6h-13.6zM592.6,360.9l6.8,12.6h-13.6zM595.1,347.4l6.8,12.6h-13.6zM510.7,350.9l6.8,12.6h-13.6zM575.3,374.0l6.8,12.6h-13.6zM515.9,332.5l6.8,12.6h-13.6zM519.1,320.0l6.8,12.6h-13.6zM553.4,289.5l6.8,12.6h-13.6zM546.3,344.8l6.8,12.6h-13.6zM610.2,330.7l6.8,12.6h-13.6zM551.5,295.5l6.8,12.6h-13.6zM543.6,312.8l6.8,12.6h-13.6zM599.7,324.5l6.8,12.6h-13.6zM512.9,295.6l6.8,12.6h-13.6zM522.8,375.6l6.8,12.6h-13.6zM559.1,311.7l6.8,12.6h-13.6zM512.7,303.5l6.8,12.6h-13.6zM585.6,350.0l6.8,12.6h-13.6zM569.2,310.8l6.8,12.6h-13.6zM612.9,332.4l6.8,12.6h-13.6zM535.5,297.1l6.8,12.6h-13.6zM586.4,334.8l6.8,12.6h-13.6zM573.1,376.0l6.8,12.6h-13.6zM540.9,345.0l6.8,12.6h-13.6zM533.6,340.8l6.8,12.6h-13.6zM576.0,377.3l6.8,12.6h-13.6zM587.2,315.4l6.8,12.6h-13.6zM582.5,334.2l6.8,12.6h-13.6zM535.0,300.3l6.8,12.6h-13.6zM513.9,364.2l6.8,12.6h-13.6zM550.9,304.4l6.8,12.6h-13.6zM527.2,325.7l6.8,12.6h-13.6zM529.0,369.7l6.8,12.6h-13.6zM529.4,361.1l6.8,12.6h-13.6zM560.9,353.6l6.8,12.6h-13.6zM599.0,370.9l6.8,12.6h-13.6zM608.7,350.8l6.8,12.6h-13.6zM518.7,307.6l6.8,12.6h-13.6zM555.8,377.8l6.8,12.6h-13.6zM577.6,369.7l6.8,12.6h-13.6zM547.3,312.8l6.8,12.6h-13.6zM568.1,356.7l6.8,12.6h-13.6zM596.9,334.4l6.8,12.6h-13.6zM574.3,306.5l6.8,12.6h-13.6zM588.9,342.8l6.8,12.6h-13.6zM509.0,353.0l6.8,12.6h-13.6zM564.8,307.3l6.8,12.6h-13.6zM617.7,344.1l6.8,12.6h-13.6zM591.1,318.1l6.8,12.6h-13.6zM549.0,301.0l6.8,12.6h-13.6zM551.0,357.6l6.8,12.6h-13.6zM521.4,287.0l6.8,12.6h-13.6zM534.8,310.7l6.8,12.6h-13.6zM514.1,334.4l6.8,12.6h-13.6zM584.9,322.2l6.8,12.6h-13.6zM605.8,337.6l6.8,12.6h-13.6zM609.6,347.5l6.8,12.6h-13.6zM563.5,328.1l6.8,12.6h-13.6zM519.3,299.1l6.8,12.6h-13.6zM554.7,366.0l6.8,12.6h-13.6zM564.8,343.0l6.8,12.6h-13.6zM518.1,366.7l6.8,12.6h-13.6zM579.7,346.7l6.8,12.6h-13.6zM515.9,369.0l6.8,12.6h-13.6zM564.4,338.9l6.8,12.6h-13.6zM593.8,360.0l6.8,12.6h-13.6zM536.8,329.5l6.8,12.6h-13.6zM614.4,358.2l6.8,12.6h-13.6zM548.2,361.4l6.8,12.6h-13.6zM521.0,329.0l6.8,12.6h-13.6zM590.5,312.9l6.8,12.6h-13.6zM561.6,351.4l6.8,12.6h-13.6zM597.4,361.5l6.8,12.6h-13.6zM541.2,291.9l6.8,12.6h-13.6zM599.8,358.7l6.8,12.6h-13.6zM558.3,376.2l6.8,12.6h-13.6zM539.1,331.6l6.8,12.6h-13.6zM518.2,359.5l6.8,12.6h-13.6zM551.4,360.3l6.8,12.6h-13.6zM519.8,330.7l6.8,12.6h-13.6zM544.0,342.6l6.8,12.6h-13.6zM581.2,322.2l6.8,12.6h-13.6zM574.6,347.0l6.8,12.6h-13.6zM525.9,330.0l6.8,12.6h-13.6zM509.6,338.1l6.8,12.6h-13.6zM598.3,333.0l6.8,12.6h-13.6zM563.1,320.0l6.8,12.6h-13.6zM563.5,368.8l6.8,12.6h-13.6zM516.1,320.0l6.8,12.6h-13.6zM575.5,372.2l6.8,12.6h-13.6zM528.2,360.6l6.8,12.6h-13.6zM522.9,311.1l6.8,12.6h-13.6zM567.5,323.0l6.8,12.6h-13.6zM558.9,302.5l6.8,12.6h-13.6zM558.8,322.2l6.8,12.6h-13.6zM582.4,351.6l6.8,12.6h-13.6zM601.9,339.1l6.8,12.6h-13.6zM571.5,340.8l6.8,12.6h-13.6zM613.7,340.1l6.8,12.6h-13.6zM564.6,348.5l6.8,12.6h-13.6zM560.7,324.9l6.8,12.6h-13.6zM573.4,356.1l6.8,12.6h-13.6zM510.5,342.1l6.8,12.6h-13.6zM549.2,354.7l6.8,12.6h-13.6zM581.9,315.7l6.8,12.6h-13.6zM609.9,358.5l6.8,12.6h-13.6zM563.9,327.4l6.8,12.6h-13.6zM572.3,342.5l6.8,12.6h-13.6zM552.0,342.9l6.8,12.6h-13.6zM514.2,332.9l6.8,12.6h-13.6zM561.4,293.9l6.8,12.6h-13.6zM541.2,335.4l6.8,12.6h-13.6zM613.1,360.6l6.8,12.6h-13.6zM542.4,368.1l6.8,12.6h-13.6zM515.6,355.0l6.8,12.6h-13.6zM532.6,285.6l6.8,12.6h-13.6zM533.5,377.8l6.8,12.6h-13.6zM545.4,340.0l6.8,12.6h-13.6zM321.7,425.5l6.8,12.6h-13.6zM386.2,350.0l6.8,12.6h-13.6zM342.2,323.8l6.8,12.6h-13.6zM354.7,344.5l6.8,12.6h-13.6zM318.7,354.0l6.8,12.6h-13.6zM373.7,329.7l6.8,12.6h-13.6zM385.4,338.4l6.8,12.6h-13.6zM338.9,352.8l6.8,12.6h-13.6zM265.8,426.3l6.8,12.6h-13.6zM297.1,447.8l6.8,12.6h-13.6zM300.1,420.8l6.8,12.6h-13.6zM372.6,342.6l6.8,12.6h-13.6zM322.5,360.2l6.8,12.6h-13.6zM284.3,422.5l6.8,12.6h-13.6zM273.3,395.9l6.8,12.6h-13.6zM326.7,388.5l6.8,12.6h-13.6zM264.0,403.9l6.8,12.6h-13.6zM379.7,354.3l6.8,12.6h-13.6zM273.8,248.1l6.8,12.6h-13.6zM406.5,221.5l6.8,12.6h-13.6zM272.4,248.3l6.8,12.6h-13.6zM322.0,209.7l6.8,12.6h-13.6zM366.1,214.9l6.8,12.6h-13.6zM438.2,262.3l6.8,12.6h-13.6zM274.2,225.7l6.8,12.6h-13.6zM411.8,228.9l6.8,12.6h-13.6zM388.0,217.0l6.8,12.6h-13.6zM417.9,218.0l6.8,12.6h-13.6zM306.4,199.5l6.8,12.6h-13.6zM372.7,220.6l6.8,12.6h-13.6zM370.0,315.5l6.8,12.6h-13.6zM397.2,319.5l6.8,12.6h-13.6zM417.6,313.0l6.8,12.6h-13.6zM429.7,313.6l6.8,12.6h-13.6zM467.8,306.6l6.8,12.6h-13.6zM383.6,310.6l6.8,12.6h-13.6zM454.1,311.6l6.8,12.6h-13.6zM390.3,318.5l6.8,12.6h-13.6zM388.5,314.3l6.8,12.6h-13.6zM385.2,325.1l6.8,12.6h-13.6zM415.9,305.8l6.8,12.6h-13.6zM392.9,310.5l6.8,12.6h-13.6zM473.4,314.9l6.8,12.6h-13.6zM396.0,311.0l6.8,12.6h-13.6zM441.5,302.9l6.8,12.6h-13.6zM395.8,299.4l6.8,12.6h-13.6zM388.4,294.1l6.8,12.6h-13.6zM316.2,247.2l6.8,12.6h-13.6zM314.4,248.1l6.8,12.6h-13.6zM360.3,271.1l6.8,12.6h-13.6zM321.8,244.5l6.8,12.6h-13.6zM312.3,286.7l6.8,12.6h-13.6zM326.8,292.9l6.8,12.6h-13.6zM343.0,250.5l6.8,12.6h-13.6zM384.0,291.5l6.8,12.6h-13.6zM354.2,239.3l6.8,12.6h-13.6zM379.5,254.0l6.8,12.6h-13.6zM322.2,241.2l6.8,12.6h-13.6zM290.1,276.9l6.8,12.6h-13.6zM367.5,268.7l6.8,12.6h-13.6zM367.3,270.0l6.8,12.6h-13.6zM333.9,224.2l6.8,12.6h-13.6zM344.0,227.6l6.8,12.6h-13.6zM319.4,275.3l6.8,12.6h-13.6zM391.1,279.2l6.8,12.6h-13.6zM349.1,298.5l6.8,12.6h-13.6zM380.4,272.9l6.8,12.6h-13.6zM290.5,267.4l6.8,12.6h-13.6zM363.8,246.5l6.8,12.6h-13.6zM305.8,287.0l6.8,12.6h-13.6zM401.5,262.8l6.8,12.6h-13.6zM317.6,261.5l6.8,12.6h-13.6zM370.8,259.2l6.8,12.6h-13.6zM390.3,232.6l6.8,12.6h-13.6zM400.4,277.7l6.8,12.6h-13.6zM387.3,242.1l6.8,12.6h-13.6zM325.1,279.8l6.8,12.6h-13.6zM317.2,257.8l6.8,12.6h-13.6zM313.7,285.2l6.8,12.6h-13.6zM307.8,296.2l6.8,12.6h-13.6zM335.2,238.0l6.8,12.6h-13.6zM297.9,232.1l6.8,12.6h-13.6zM347.4,292.3l6.8,12.6h-13.6zM346.7,244.5l6.8,12.6h-13.6zM373.2,223.2l6.8,12.6h-13.6zM313.1,260.6l6.8,12.6h-13.6zM394.3,254.3l6.8,12.6h-13.6zM326.2,261.1l6.8,12.6h-13.6zM308.7,257.6l6.8,12.6h-13.6zM332.6,225.1l6.8,12.6h-13.6zM316.5,291.2l6.8,12.6h-13.6zM315.3,242.9l6.8,12.6h-13.6zM349.9,254.2l6.8,12.6h-13.6zM292.2,247.4l6.8,12.6h-13.6zM299.6,287.5l6.8,12.6h-13.6zM355.0,274.3l6.8,12.6h-13.6zM334.3,214.4l6.8,12.6h-13.6zM341.6,280.3l6.8,12.6h-13.6zM301.0,255.8l6.8,12.6h-13.6zM368.2,236.6l6.8,12.6h-13.6zM325.1,298.0l6.8,12.6h-13.6zM345.4,263.6l6.8,12.6h-13.6zM401.8,272.1l6.8,12.6h-13.6zM306.3,241.2l6.8,12.6h-13.6zM393.4,239.9l6.8,12.6h-13.6zM303.3,239.3l6.8,12.6h-13.6zM325.2,256.0l6.8,12.6h-13.6zM308.5,289.1l6.8,12.6h-13.6zM356.5,232.8l6.8,12.6h-13.6zM370.0,236.6l6.8,12.6h-13.6zM379.9,256.1l6.8,12.6h-13.6zM336.4,226.5l6.8,12.6h-13.6zM307.2,244.5l6.8,12.6h-13.6zM345.7,243.4l6.8,12.6h-13.6zM299.5,280.5l6.8,12.6h-13.6zM291.3,274.4l6.8,12.6h-13.6zM344.3,245.9l6.8,12.6h-13.6zM351.1,250.7l6.8,12.6h-13.6zM307.9,272.8l6.8,12.6h-13.6zM359.7,244.0l6.8,12.6h-13.6zM336.4,299.2l6.8,12.6h-13.6zM313.9,302.9l6.8,12.6h-13.6zM334.3,281.7l6.8,12.6h-13.6zM324.0,255.2l6.8,12.6h-13.6zM348.6,299.7l6.8,12.6h-13.6zM308.1,268.0l6.8,12.6h-13.6zM314.2,270.9l6.8,12.6h-13.6zM332.4,294.4l6.8,12.6h-13.6zM350.1,288.2l6.8,12.6h-13.6zM304.5,246.4l6.8,12.6h-13.6zM302.4,260.5l6.8,12.6h-13.6zM379.0,289.2l6.8,12.6h-13.6zM385.2,248.8l6.8,12.6h-13.6zM390.7,272.7l6.8,12.6h-13.6zM333.0,240.8l6.8,12.6h-13.6zM298.2,239.2l6.8,12.6h-13.6zM311.6,293.9l6.8,12.6h-13.6zM356.8,283.5l6.8,12.6h-13.6zM397.3,279.4l6.8,12.6h-13.6zM295.0,273.7l6.8,12.6h-13.6zM332.5,235.4l6.8,12.6h-13.6zM327.4,217.1l6.8,12.6h-13.6zM318.8,299.2l6.8,12.6h-13.6zM405.1,257.0l6.8,12.6h-13.6zM319.0,294.7l6.8,12.6h-13.6zM295.5,261.5l6.8,12.6h-13.6zM294.0,290.6l6.8,12.6h-13.6zM381.1,238.9l6.8,12.6h-13.6zM328.3,238.7l6.8,12.6h-13.6zM440.3,298.7l6.8,12.6h-13.6zM427.2,274.6l6.8,12.6h-13.6zM422.3,303.6l6.8,12.6h-13.6zM432.8,295.6l6.8,12.6h-13.6zM426.0,248.1l6.8,12.6h-13.6zM451.1,301.0l6.8,12.6h-13.6zM422.6,241.6l6.8,12.6h-13.6zM430.7,274.4l6.8,12.6h-13.6zM446.3,282.7l6.8,12.6h-13.6zM430.4,280.9l6.8,12.6h-13.6zM450.3,258.0l6.8,12.6h-13.6zM453.3,276.5l6.8,12.6h-13.6zM435.1,310.2l6.8,12.6h-13.6zM437.4,298.2l6.8,12.6h-13.6zM453.9,260.9l6.8,12.6h-13.6zM431.7,291.2l6.8,12.6h-13.6zM435.5,263.9l6.8,12.6h-13.6zM458.2,279.0l6.8,12.6h-13.6zM458.0,283.1l6.8,12.6h-13.6zM454.2,306.3l6.8,12.6h-13.6zM420.3,292.5l6.8,12.6h-13.6zM429.9,310.6l6.8,12.6h-13.6zM442.2,302.9l6.8,12.6h-13.6zM451.4,265.3l6.8,12.6h-13.6zM424.3,289.9l6.8,12.6h-13.6zM434.5,255.0l6.8,12.6h-13.6zM435.2,308.5l6.8,12.6h-13.6zM419.6,262.2l6.8,12.6h-13.6zM411.1,248.3l6.8,12.6h-13.6zM449.6,291.6l6.8,12.6h-13.6zM457.9,288.6l6.8,12.6h-13.6zM411.3,251.5l6.8,12.6h-13.6zM403.7,235.9l6.8,12.6h-13.6zM432.7,284.0l6.8,12.6h-13.6zM430.7,308.7l6.8,12.6h-13.6zM434.7,255.3l6.8,12.6h-13.6zM437.3,250.2l6.8,12.6h-13.6zM422.6,260.6l6.8,12.6h-13.6zM415.7,244.7l6.8,12.6h-13.6zM290.0,328.3l6.8,12.6h-13.6zM279.5,323.9l6.8,12.6h-13.6zM290.6,317.2l6.8,12.6h-13.6zM292.1,336.0l6.8,12.6h-13.6zM315.5,320.0l6.8,12.6h-13.6zM321.6,335.2l6.8,12.6h-13.6zM279.1,325.9l6.8,12.6h-13.6zM313.5,341.4l6.8,12.6h-13.6zM284.5,321.3l6.8,12.6h-13.6zM257.1,313.6l6.8,12.6h-13.6zM272.6,326.4l6.8,12.6h-13.6zM294.1,318.2l6.8,12.6h-13.6zM277.4,316.1l6.8,12.6h-13.6zM215.2,352.4l6.8,12.6h-13.6zM225.7,342.1l6.8,12.6h-13.6zM285.8,315.3l6.8,12.6h-13.6zM225.6,309.2l6.8,12.6h-13.6zM211.0,341.1l6.8,12.6h-13.6zM220.5,313.4l6.8,12.6h-13.6zM271.3,325.6l6.8,12.6h-13.6zM237.2,329.0l6.8,12.6h-13.6zM285.0,324.1l6.8,12.6h-13.6zM266.6,373.9l6.8,12.6h-13.6zM259.3,324.9l6.8,12.6h-13.6zM218.1,352.7l6.8,12.6h-13.6zM221.7,333.8l6.8,12.6h-13.6zM282.4,362.4l6.8,12.6h-13.6zM231.3,331.2l6.8,12.6h-13.6zM232.5,325.6l6.8,12.6h-13.6zM252.2,312.4l6.8,12.6h-13.6zM215.9,314.7l6.8,12.6h-13.6zM236.3,343.8l6.8,12.6h-13.6zM235.3,336.0l6.8,12.6h-13.6zM278.5,362.3l6.8,12.6h-13.6zM245.1,370.2l6.8,12.6h-13.6zM269.9,334.1l6.8,12.6h-13.6zM245.6,323.1l6.8,12.6h-13.6zM277.8,318.2l6.8,12.6h-13.6zM258.6,357.4l6.8,12.6h-13.6zM220.6,315.3l6.8,12.6h-13.6zM277.3,183.7l6.8,12.6h-13.6zM319.3,170.0l6.8,12.6h-13.6zM321.4,181.5l6.8,12.6h-13.6zM300.4,186.8l6.8,12.6h-13.6zM307.3,184.7l6.8,12.6h-13.6zM309.9,197.3l6.8,12.6h-13.6zM326.7,201.5l6.8,12.6h-13.6zM342.4,202.5l6.8,12.6h-13.6zM279.4,216.2l6.8,12.6h-13.6zM302.5,216.2l6.8,12.6h-13.6zM314.1,214.1l6.8,12.6h-13.6zM328.8,217.2l6.8,12.6h-13.6zM337.2,217.2l6.8,12.6h-13.6zM293.1,223.5l6.8,12.6h-13.6zM271.0,222.5l6.8,12.6h-13.6zM355.6,189.0l6.8,12.6h-13.6zM341.8,200.8l6.8,12.6h-13.6zM365.4,202.8l6.8,12.6h-13.6zM377.2,208.7l6.8,12.6h-13.6zM396.9,222.5l6.8,12.6h-13.6zM420.6,226.4l6.8,12.6h-13.6zM438.3,238.3l6.8,12.6h-13.6zM416.6,240.2l6.8,12.6h-13.6zM318.2,200.2l6.8,12.6h-13.6zM281.4,197.8l6.8,12.6h-13.6zM316.2,205.8l6.8,12.6h-13.6zM287.3,180.2l6.8,12.6h-13.6zM274.4,202.8l6.8,12.6h-13.6zM350.9,207.7l6.8,12.6h-13.6zM316.1,197.2l6.8,12.6h-13.6zM307.9,194.7l6.8,12.6h-13.6zM371.0,184.7l6.8,12.6h-13.6zM289.3,215.5l6.8,12.6h-13.6zM352.9,205.1l6.8,12.6h-13.6zM276.6,338.8l6.8,12.6h-13.6zM303.6,336.7l6.8,12.6h-13.6zM305.7,338.1l6.8,12.6h-13.6zM299.2,323.8l6.8,12.6h-13.6zM260.5,326.5l6.8,12.6h-13.6zM324.1,315.0l6.8,12.6h-13.6zM283.5,334.8l6.8,12.6h-13.6zM302.5,335.4l6.8,12.6h-13.6zM304.0,323.8l6.8,12.6h-13.6zM294.1,353.6l6.8,12.6h-13.6zM271.8,324.6l6.8,12.6h-13.6zM326.3,327.2l6.8,12.6h-13.6zM322.4,325.5l6.8,12.6h-13.6zM266.2,344.4l6.8,12.6h-13.6zM258.0,352.9l6.8,12.6h-13.6zM262.5,320.8l6.8,12.6h-13.6z"/>
<path d="M105,27 V506.3 M104,506.3 H747" stroke="#222" stroke-width="2" fill="none"/>
<path d="M95.5,506.4 H105 M99.5,474.4 H105 M95.5,442.5 H105 M99.5,410.5 H105 M95.5,378.6 H105 M99.5,346.6 H105 M95.5,314.7 H105 M99.5,282.8 H105 M95.5,250.8 H105 M99.5,218.8 H105 M95.5,186.9 H105 M99.5,154.9 H105 M95.5,123.0 H105 M99.5,91.1 H105 M95.5,59.1 H105 M99.5,27.1 H105 M105.0,506 V515.5 M142.8,506 V511.5 M180.5,506 V515.5 M218.2,506 V511.5 M256.0,506 V515.5 M293.8,506 V511.5 M331.5,506 V515.5 M369.2,506 V511.5 M407.0,506 V515.5 M444.8,506 V511.5 M482.5,506 V515.5 M520.2,506 V511.5 M558.0,506 V515.5 M595.8,506 V511.5 M633.5,506 V515.5 M671.2,506 V511.5 M709.0,506 V515.5 M746.8,506 V511.5" stroke="#222" stroke-width="2" fill="none"/>
<text transform="translate(89.3,511.3)" font-size="20" letter-spacing="2.2" text-anchor="end">-15</text>
<text transform="translate(89.3,447.4)" font-size="20" letter-spacing="2.2" text-anchor="end">-10</text>
<text transform="translate(89.3,383.5)" font-size="20" letter-spacing="2.2" text-anchor="end">-5</text>
<text transform="translate(89.3,319.6)" font-size="20" letter-spacing="2.2" text-anchor="end">0</text>
<text transform="translate(89.3,255.7)" font-size="20" letter-spacing="2.2" text-anchor="end">5</text>
<text transform="translate(89.3,191.8)" font-size="20" letter-spacing="2.2" text-anchor="end">10</text>
<text transform="translate(89.3,127.9)" font-size="20" letter-spacing="2.2" text-anchor="end">15</text>
<text transform="translate(89.3,64.0)" font-size="20" letter-spacing="2.2" text-anchor="end">20</text>
<text transform="translate(105.1,539.5)" font-size="20" letter-spacing="1.6" text-anchor="middle">-20</text>
<text transform="translate(179.6,539.5)" font-size="20" letter-spacing="1.6" text-anchor="middle">-15</text>
<text transform="translate(256.1,539.5)" font-size="20" letter-spacing="1.6" text-anchor="middle">-10</text>
<text transform="translate(331.6,539.5)" font-size="20" letter-spacing="1.6" text-anchor="middle">-5</text>
<text transform="translate(406.6,539.5)" font-size="20" letter-spacing="1.6" text-anchor="middle">0</text>
<text transform="translate(482.4,539.5)" font-size="20" letter-spacing="1.6" text-anchor="middle">5</text>
<text transform="translate(557.6,539.5)" font-size="20" letter-spacing="1.6" text-anchor="middle">10</text>
<text transform="translate(631.6,539.5)" font-size="20" letter-spacing="1.6" text-anchor="middle">15</text>
<text transform="translate(708.3,539.5)" font-size="20" letter-spacing="1.6" text-anchor="middle">20</text>
<text transform="translate(398.8,581.5)" font-size="24.4" letter-spacing="2.6" text-anchor="start">PC2</text>
<text transform="translate(39.0,308.5) rotate(-90) scale(0.85,1.0)" font-size="28.2" letter-spacing="0.5" text-anchor="start">PC1</text>
<rect x="223" y="22" width="422" height="38.5" fill="#fff" stroke="#222" stroke-width="2"/>
<rect x="254" y="36" width="9.5" height="9.5" fill="#000"/>
<circle cx="398.2" cy="41.5" r="6.3" fill="#ff0000"/>
<path d="M538.5,33.6 L546.8,47.8 L530.2,47.8 Z" fill="#00ff00"/>
<text transform="translate(301.5,49.6) scale(0.96,1.0)" font-size="23.7" letter-spacing="3.0" text-anchor="start">APO</text>
<text transform="translate(439.5,49.6) scale(0.96,1.0)" font-size="23.7" letter-spacing="4.6" text-anchor="start">ACP</text>
<text transform="translate(576.5,49.6) scale(0.96,1.0)" font-size="23.7" letter-spacing="4.0" text-anchor="start">L1</text>
</svg>
</body></html>
